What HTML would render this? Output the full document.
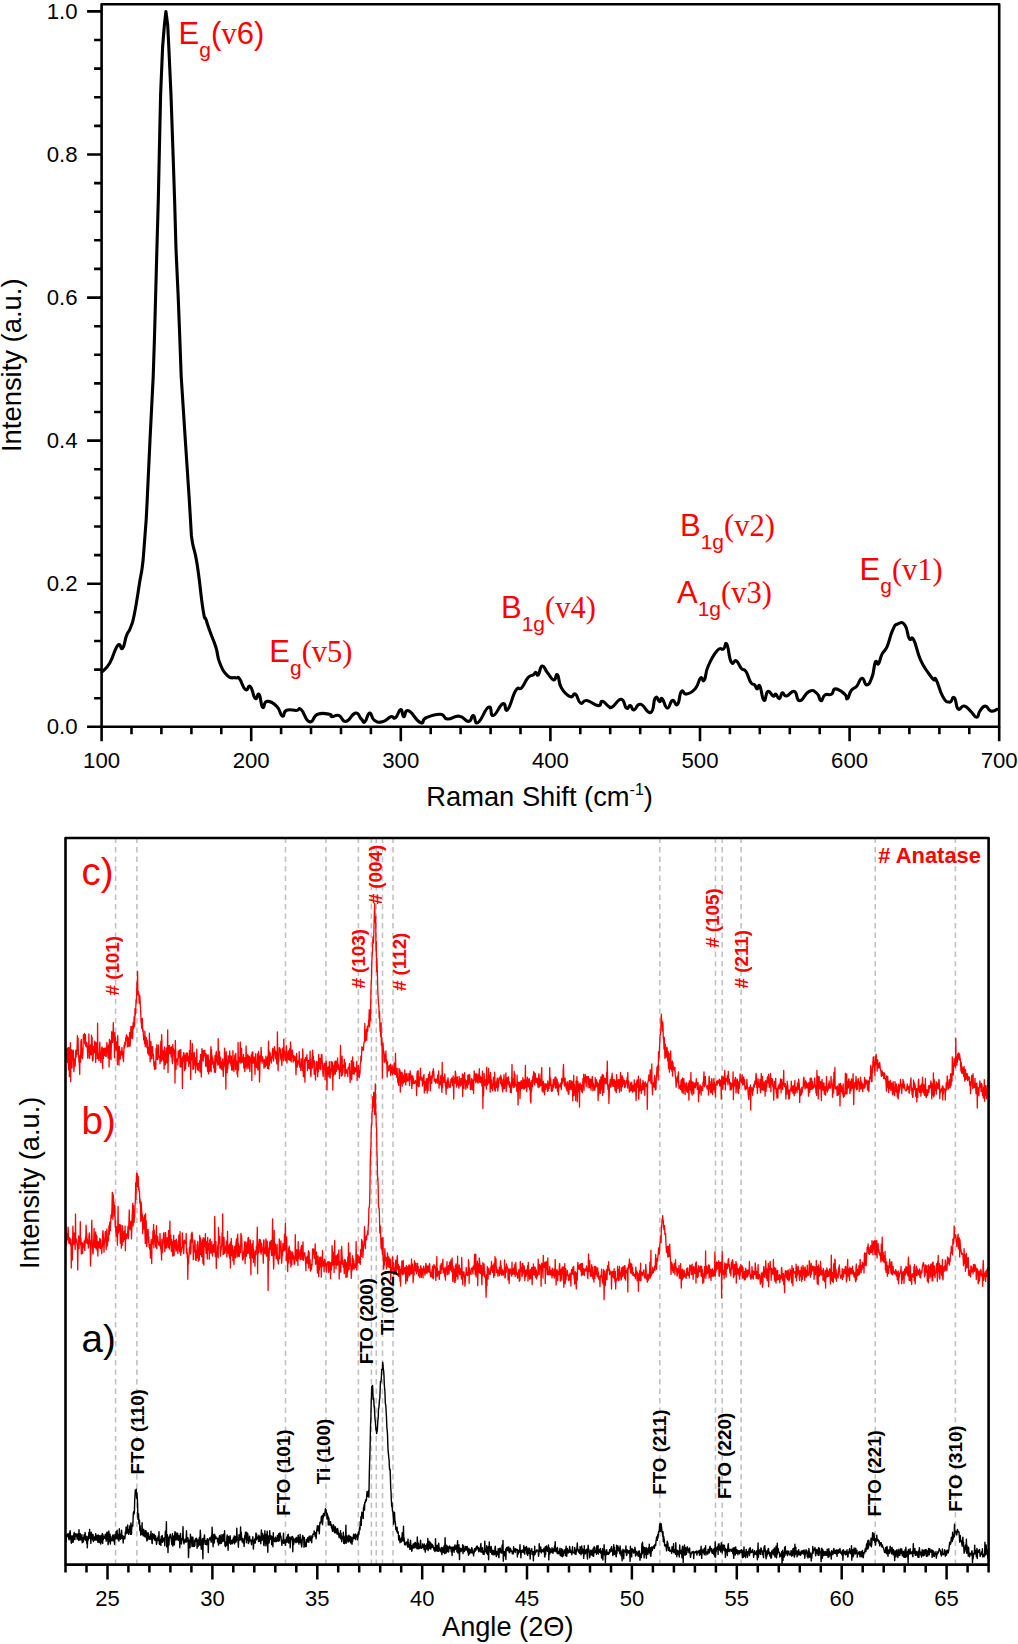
<!DOCTYPE html><html><head><meta charset="utf-8"><style>html,body{margin:0;padding:0;background:#fff;}svg{display:block;}</style></head><body>
<svg width="1018" height="1644" viewBox="0 0 1018 1644">
<rect width="1018" height="1644" fill="#fff"/>
<path d="M87.1 726.8H101.6M94.1 698.2H101.6M94.1 669.6H101.6M94.1 641.0H101.6M94.1 612.3H101.6M87.1 583.7H101.6M94.1 555.1H101.6M94.1 526.5H101.6M94.1 497.9H101.6M94.1 469.3H101.6M87.1 440.6H101.6M94.1 412.0H101.6M94.1 383.4H101.6M94.1 354.8H101.6M94.1 326.2H101.6M87.1 297.6H101.6M94.1 268.9H101.6M94.1 240.3H101.6M94.1 211.7H101.6M94.1 183.1H101.6M87.1 154.5H101.6M94.1 125.9H101.6M94.1 97.2H101.6M94.1 68.6H101.6M94.1 40.0H101.6M87.1 11.4H101.6M101.6 726.8V741.3M131.5 726.8V734.3M161.4 726.8V734.3M191.4 726.8V734.3M221.3 726.8V734.3M251.2 726.8V741.3M281.1 726.8V734.3M311.0 726.8V734.3M341.0 726.8V734.3M370.9 726.8V734.3M400.8 726.8V741.3M430.7 726.8V734.3M460.6 726.8V734.3M490.6 726.8V734.3M520.5 726.8V734.3M550.4 726.8V741.3M580.3 726.8V734.3M610.2 726.8V734.3M640.2 726.8V734.3M670.1 726.8V734.3M700.0 726.8V741.3M729.9 726.8V734.3M759.8 726.8V734.3M789.8 726.8V734.3M819.7 726.8V734.3M849.6 726.8V741.3M879.5 726.8V734.3M909.4 726.8V734.3M939.4 726.8V734.3M969.3 726.8V734.3M999.2 726.8V741.3" stroke="#000" stroke-width="2.6" fill="none"/>
<path d="M101.6 726.8V4.3H999.2V726.8Z" stroke="#000" stroke-width="2.6" fill="none" stroke-linejoin="round"/>
<path d="M102.0 671.9C104.1 669.5 105.6 670.1 109.8 663.0C114.0 655.9 114.3 649.3 117.7 645.4C121.1 641.5 120.3 650.9 122.6 648.3C124.9 645.7 124.4 641.1 126.5 635.6C128.6 630.1 128.4 633.5 130.5 627.7C132.6 621.9 132.1 625.5 134.4 614.0C136.7 602.5 137.0 599.2 139.3 584.5C141.6 569.8 141.4 576.3 143.2 559.0L146.2 519.6L147.2 500.0L150.0 440.0L153.2 376.5L154.4 340.0L155.6 297.0L156.9 249.0L158.3 200.0L159.2 158.0L160.6 95.0L162.6 47.0L164.4 25.0L165.9 11.5L167.7 25.0L168.8 47.0L171.0 95.0L173.2 158.0L174.6 200.0L176.0 249.0L178.2 297.0L179.5 330.0L181.2 376.5L185.3 440.0L189.3 500.0L191.4 535.4C193.5 552.7 194.1 544.9 197.2 564.8C200.3 584.7 200.7 595.3 203.1 610.0C205.5 624.7 204.3 614.0 206.1 619.8C207.9 625.6 207.4 624.3 210.0 631.6C212.6 638.9 213.3 638.9 215.9 647.3C218.5 655.7 216.7 655.4 219.8 663.0C222.9 670.6 223.5 671.9 227.7 675.8C231.9 679.7 232.5 677.0 235.6 677.8C238.7 678.6 236.9 675.7 239.5 678.8C242.1 681.9 242.5 687.5 245.4 689.6C248.3 691.7 247.7 684.3 250.3 686.6C252.9 688.9 252.9 696.3 255.2 698.4C257.5 700.5 257.1 692.1 259.1 694.5C261.1 696.9 260.6 705.5 262.7 707.3C264.8 709.1 263.2 701.7 267.0 701.4C270.8 701.1 272.7 702.4 276.8 706.3C280.9 710.2 279.7 715.0 282.3 716.0C284.9 717.0 282.8 711.7 286.6 710.2C290.4 708.7 292.6 710.7 296.5 710.5C300.4 710.3 297.7 706.6 301.2 709.6C304.7 712.6 305.1 720.5 309.5 721.8C313.9 723.1 312.4 716.3 317.7 714.3C323.0 712.3 325.7 713.7 329.5 714.3C333.3 714.9 329.4 716.4 331.9 716.7C334.4 717.0 335.1 714.2 338.9 715.5C342.7 716.8 341.6 722.0 346.0 721.4C350.4 720.8 351.3 713.7 355.4 713.1C359.5 712.5 358.8 716.7 361.3 719.0C363.8 721.3 362.7 723.4 364.9 721.8C367.1 720.2 367.1 713.5 369.6 713.1C372.1 712.7 370.9 717.9 374.3 720.2C377.7 722.5 378.1 722.7 382.5 721.8C386.9 720.9 387.3 717.8 390.8 716.7C394.3 715.6 392.9 719.7 395.5 717.8C398.1 715.9 398.5 709.9 400.7 709.6C402.9 709.3 401.7 716.4 403.8 716.7C405.9 717.0 404.1 709.3 408.5 710.8C412.9 712.3 415.6 720.6 420.3 722.5C425.0 724.4 420.9 720.0 426.2 717.8C431.5 715.6 434.6 714.0 440.3 714.3C446.0 714.6 442.4 718.5 447.4 719.0C452.4 719.5 453.5 715.6 459.2 716.2C464.9 716.8 464.8 721.6 468.6 721.4C472.4 721.2 470.8 715.2 473.3 715.5C475.8 715.8 473.9 724.7 478.0 722.5C482.1 720.3 484.5 709.1 488.6 707.2C492.7 705.3 489.5 716.4 493.3 715.5C497.1 714.6 499.0 705.2 502.8 703.7C506.6 702.2 504.2 713.2 507.6 709.7C511.0 706.2 511.9 696.6 515.7 690.7C519.5 684.8 518.4 691.2 521.7 687.7C525.0 684.2 525.0 680.9 528.1 677.5C531.2 674.1 531.1 676.3 533.2 674.9C535.3 673.5 534.4 672.4 535.8 672.4C537.2 672.4 536.6 676.6 538.3 674.9C540.0 673.2 539.7 666.7 542.1 666.0C544.5 665.3 544.2 668.7 547.3 672.4C550.4 676.1 550.9 679.3 553.6 680.0C556.3 680.7 555.4 672.8 557.5 674.9C559.6 677.0 557.9 681.9 561.3 687.7C564.7 693.5 566.4 694.9 570.2 696.6C574.0 698.3 572.7 692.4 575.4 694.1C578.1 695.8 577.5 701.3 580.5 703.0C583.5 704.7 582.1 699.8 586.8 700.5C591.5 701.2 594.2 705.4 598.3 705.6C602.4 705.8 599.5 701.0 602.2 701.2C604.9 701.4 605.9 704.8 608.6 706.3C611.3 707.8 609.0 708.7 612.4 706.8C615.8 704.9 617.6 698.9 621.3 699.2C625.0 699.5 624.0 706.4 626.4 708.1C628.8 709.8 628.2 705.1 630.3 705.6C632.4 706.1 631.4 710.2 634.1 709.9C636.8 709.6 636.1 703.6 640.5 704.3C644.9 705.0 646.8 714.2 650.7 712.5C654.6 710.8 652.9 700.8 655.3 697.9C657.7 695.0 657.8 701.5 659.6 701.7C661.4 701.9 660.1 697.0 662.2 698.7C664.3 700.4 664.6 707.6 667.3 708.1C670.0 708.6 669.7 701.5 672.4 700.5C675.1 699.5 675.1 706.7 677.5 704.3C679.9 701.9 679.0 694.2 681.4 691.5C683.8 688.8 682.8 694.9 686.5 694.1C690.2 693.3 691.7 692.7 695.4 688.5C699.1 684.3 698.1 680.5 700.5 678.2C702.9 675.9 702.2 683.3 704.3 680.0C706.4 676.7 704.8 673.8 708.2 666.0C711.6 658.2 713.0 655.3 717.1 650.7C721.2 646.1 720.9 650.6 723.5 648.9C726.1 647.2 724.7 640.8 726.8 644.3C728.9 647.8 728.7 657.7 731.2 662.1C733.7 666.5 733.6 659.2 736.3 660.9C739.0 662.6 738.8 665.7 741.4 668.5C744.0 671.3 743.5 667.8 746.0 671.5C748.5 675.2 748.3 678.6 750.6 682.2C752.9 685.8 752.8 683.1 754.6 684.9C756.4 686.7 755.8 688.6 757.2 688.9C758.6 689.2 758.1 683.2 759.9 686.2C761.7 689.2 761.8 698.9 763.9 700.3C766.0 701.7 765.4 692.6 767.9 691.5C770.4 690.4 771.1 695.3 773.2 696.0C775.3 696.7 774.2 693.5 775.8 694.2C777.4 694.9 777.5 699.1 779.3 698.7C781.1 698.3 780.5 693.5 782.4 692.8C784.3 692.1 783.2 696.3 786.4 696.0C789.6 695.7 790.9 690.2 794.4 691.5C797.9 692.8 795.8 700.8 799.7 700.8C803.6 700.8 804.4 693.5 809.0 691.5C813.6 689.5 813.7 690.9 816.9 693.4C820.1 695.9 818.8 700.4 820.9 700.8C823.0 701.2 822.1 696.8 824.9 695.0C827.7 693.2 828.7 695.8 831.5 694.2C834.3 692.6 832.0 688.9 835.5 688.9C839.0 688.9 841.6 691.6 844.8 694.2C848.0 696.8 845.6 699.8 847.4 698.7C849.2 697.6 848.9 693.5 851.4 690.2C853.9 686.9 853.9 689.4 856.7 686.2C859.5 683.0 859.3 678.5 862.0 678.2C864.7 677.9 864.1 685.2 866.8 684.9C869.5 684.6 869.8 682.9 872.1 676.9C874.4 670.9 873.6 665.8 875.3 662.3C877.0 658.8 876.7 665.8 878.5 663.7C880.3 661.6 879.6 659.0 881.9 654.4C884.2 649.8 884.4 652.8 887.2 646.4C890.0 640.0 889.7 636.5 892.5 630.5C895.3 624.5 894.5 625.3 897.8 623.9C901.1 622.5 902.0 621.3 905.0 625.2C908.0 629.1 906.9 634.6 909.2 638.5C911.5 642.4 910.7 634.1 913.7 639.8C916.7 645.5 916.5 650.9 920.4 659.7C924.3 668.5 924.8 667.6 928.3 672.9C931.8 678.2 931.5 677.7 933.6 679.6C935.7 681.5 933.8 675.5 936.3 680.1C938.8 684.7 939.4 690.9 942.9 696.8C946.4 702.7 946.5 701.9 949.5 702.1C952.5 702.3 952.0 695.8 954.3 697.6C956.6 699.4 955.4 706.5 958.0 708.8C960.6 711.1 960.7 705.4 964.1 706.1C967.5 706.8 967.5 708.4 970.8 711.4C974.1 714.4 974.1 717.3 976.6 717.2C979.1 717.1 977.7 713.9 980.0 710.9C982.3 707.9 982.5 706.1 985.4 706.1C988.3 706.1 987.5 710.0 990.7 710.9C993.9 711.8 995.5 709.7 997.3 709.3" stroke="#000" stroke-width="3.1" fill="none" stroke-linejoin="round" stroke-linecap="round"/>
<g font-family="'Liberation Sans', sans-serif" font-size="22.2" fill="#000">
<text x="77.5" y="734.0" text-anchor="end">0.0</text>
<text x="77.5" y="590.9" text-anchor="end">0.2</text>
<text x="77.5" y="447.8" text-anchor="end">0.4</text>
<text x="77.5" y="304.8" text-anchor="end">0.6</text>
<text x="77.5" y="161.7" text-anchor="end">0.8</text>
<text x="77.5" y="18.6" text-anchor="end">1.0</text>
<text x="101.6" y="768" text-anchor="middle">100</text>
<text x="251.2" y="768" text-anchor="middle">200</text>
<text x="400.8" y="768" text-anchor="middle">300</text>
<text x="550.4" y="768" text-anchor="middle">400</text>
<text x="700.0" y="768" text-anchor="middle">500</text>
<text x="849.6" y="768" text-anchor="middle">600</text>
<text x="999.2" y="768" text-anchor="middle">700</text>
</g>
<text x="426.3" y="806.3" font-family="'Liberation Sans', sans-serif" font-size="27.3" fill="#000">Raman Shift (cm<tspan font-size="16" dy="-11">-1</tspan><tspan dy="11">)</tspan></text>
<text transform="translate(21.3,452) rotate(-90)" font-family="'Liberation Sans', sans-serif" font-size="27.4" fill="#000">Intensity (a.u.)</text>
<text x="178.5" y="44.0" font-family="'Liberation Sans', sans-serif" font-size="31" fill="#f00">E<tspan font-size="21" dy="12.8">g</tspan><tspan dy="-12.8">(</tspan><tspan font-family="'Liberation Serif', serif" font-size="31">v</tspan>6)</text>
<text x="269.3" y="662.4" font-family="'Liberation Sans', sans-serif" font-size="31" fill="#f00">E<tspan font-size="21" dy="12.8">g</tspan><tspan dy="-12.8" font-family="'Liberation Serif', serif" font-size="30.5">(v5)</tspan></text>
<text x="501.0" y="618.0" font-family="'Liberation Sans', sans-serif" font-size="31" fill="#f00">B<tspan font-size="21" dy="12.8">1g</tspan><tspan dy="-12.8" font-family="'Liberation Serif', serif" font-size="30.5">(v4)</tspan></text>
<text x="680.0" y="536.2" font-family="'Liberation Sans', sans-serif" font-size="31" fill="#f00">B<tspan font-size="21" dy="12.8">1g</tspan><tspan dy="-12.8" font-family="'Liberation Serif', serif" font-size="30.5">(v2)</tspan></text>
<text x="677.0" y="602.8" font-family="'Liberation Sans', sans-serif" font-size="31" fill="#f00">A<tspan font-size="21" dy="12.8">1g</tspan><tspan dy="-12.8" font-family="'Liberation Serif', serif" font-size="30.5">(v3)</tspan></text>
<text x="859.5" y="580.2" font-family="'Liberation Sans', sans-serif" font-size="31" fill="#f00">E<tspan font-size="21" dy="12.8">g</tspan><tspan dy="-12.8" font-family="'Liberation Serif', serif" font-size="30.5">(v1)</tspan></text>
<path d="M115.6 837.6V1563.6M136.9 837.6V1563.6M285.5 837.6V1563.6M325.9 837.6V1563.6M358.4 837.6V1563.6M371.4 837.6V1563.6M376.3 837.6V1563.6M382.5 837.6V1563.6M393.0 837.6V1563.6M659.8 837.6V1563.6M715.5 837.6V1563.6M722.2 837.6V1563.6M741.1 837.6V1563.6M875.2 837.6V1563.6M955.4 837.6V1563.6" stroke="#c2c2c2" stroke-width="1.6" stroke-dasharray="5.5 4" fill="none"/>
<polyline points="65.9,1053.8 66.2,1051.7 66.5,1058.5 66.9,1048.6 67.2,1060.4 67.5,1062.3 67.8,1047.9 68.1,1057.7 68.5,1069.8 68.8,1047.5 69.1,1052.3 69.4,1076.7 69.7,1052.6 70.1,1052.2 70.4,1042.7 70.7,1081.7 71.0,1051.7 71.3,1056.5 71.7,1049.6 72.0,1067.9 72.3,1057.0 72.6,1060.2 72.9,1051.3 73.3,1050.1 73.6,1059.3 73.9,1071.7 74.2,1066.1 74.5,1058.9 74.9,1066.4 75.2,1065.6 75.5,1056.2 75.8,1050.2 76.1,1057.1 76.5,1051.0 76.8,1054.4 77.1,1046.9 77.4,1035.6 77.7,1050.1 78.1,1038.1 78.4,1055.1 78.7,1056.6 79.0,1062.2 79.3,1063.1 79.7,1074.3 80.0,1055.3 80.3,1059.5 80.6,1062.0 80.9,1041.7 81.3,1039.3 81.6,1057.4 81.9,1048.2 82.2,1055.9 82.5,1058.7 82.9,1053.0 83.2,1040.9 83.5,1034.6 83.8,1038.8 84.1,1039.3 84.5,1033.5 84.8,1043.9 85.1,1038.3 85.4,1034.6 85.7,1046.0 86.1,1044.8 86.4,1046.9 86.7,1042.4 87.0,1043.6 87.3,1046.8 87.7,1058.2 88.0,1046.9 88.3,1049.9 88.6,1050.5 88.9,1033.8 89.3,1057.4 89.6,1058.4 89.9,1050.8 90.2,1051.6 90.5,1044.8 90.9,1054.6 91.2,1052.4 91.5,1035.1 91.8,1054.9 92.1,1037.2 92.5,1060.9 92.8,1055.5 93.1,1060.0 93.4,1046.5 93.7,1047.3 94.1,1052.7 94.4,1050.5 94.7,1041.2 95.0,1043.5 95.3,1048.7 95.7,1062.5 96.0,1042.5 96.3,1043.0 96.6,1048.9 96.9,1046.9 97.3,1058.7 97.6,1023.2 97.9,1058.4 98.2,1058.6 98.5,1054.1 98.9,1060.6 99.2,1056.6 99.5,1050.3 99.8,1042.2 100.1,1051.8 100.5,1059.0 100.8,1062.4 101.1,1056.3 101.4,1053.9 101.7,1047.8 102.1,1046.9 102.4,1060.9 102.7,1068.5 103.0,1049.3 103.3,1058.6 103.7,1048.3 104.0,1054.4 104.3,1055.4 104.6,1049.1 104.9,1048.0 105.3,1056.0 105.6,1054.3 105.9,1048.2 106.2,1056.4 106.5,1049.0 106.9,1042.5 107.2,1050.1 107.5,1046.0 107.8,1054.7 108.1,1058.1 108.5,1054.6 108.8,1044.2 109.1,1067.1 109.4,1039.4 109.7,1058.7 110.1,1050.2 110.4,1040.9 110.7,1051.7 111.0,1059.7 111.3,1045.7 111.7,1031.7 112.0,1034.0 112.3,1040.1 112.6,1042.5 112.9,1039.3 113.3,1022.7 113.6,1032.3 113.9,1038.2 114.2,1040.5 114.5,1057.7 114.9,1032.7 115.2,1039.9 115.5,1037.8 115.8,1047.1 116.1,1050.0 116.5,1041.8 116.8,1047.9 117.1,1043.1 117.4,1064.7 117.7,1035.6 118.1,1050.5 118.4,1056.3 118.7,1056.4 119.0,1065.2 119.3,1046.3 119.7,1049.5 120.0,1055.9 120.3,1059.0 120.6,1054.1 120.9,1051.3 121.3,1055.1 121.6,1054.6 121.9,1047.5 122.2,1050.8 122.5,1051.8 122.9,1057.7 123.2,1059.0 123.5,1061.6 123.8,1053.3 124.1,1045.2 124.5,1047.9 124.8,1042.5 125.1,1045.6 125.4,1043.7 125.7,1037.7 126.1,1040.0 126.4,1034.9 126.7,1035.5 127.0,1035.7 127.3,1046.9 127.7,1037.8 128.0,1037.3 128.3,1042.9 128.6,1045.3 128.9,1046.7 129.3,1040.7 129.6,1032.5 129.9,1044.0 130.2,1046.0 130.5,1038.3 130.9,1026.3 131.2,1035.1 131.5,1037.9 131.8,1036.8 132.1,1026.3 132.5,1038.6 132.8,1034.8 133.1,1022.7 133.4,1028.8 133.7,1028.1 134.1,1017.0 134.4,1026.5 134.7,1024.0 135.0,1008.6 135.3,1014.9 135.7,1012.1 136.0,999.7 136.3,1002.7 136.6,996.2 136.9,982.3 137.3,985.2 137.6,971.4 137.9,994.9 138.2,993.9 138.5,991.7 138.9,995.2 139.2,1003.2 139.5,1002.2 139.8,995.3 140.1,1000.4 140.5,1007.5 140.8,1014.5 141.1,1022.5 141.4,1023.1 141.7,1028.3 142.1,1018.3 142.4,1018.3 142.7,1031.3 143.0,1029.2 143.3,1033.1 143.7,1040.0 144.0,1036.7 144.3,1036.4 144.6,1043.6 144.9,1031.2 145.3,1046.7 145.6,1036.9 145.9,1037.3 146.2,1037.7 146.5,1039.6 146.9,1047.7 147.2,1040.5 147.5,1045.8 147.8,1053.4 148.1,1047.0 148.5,1051.0 148.8,1055.0 149.1,1054.0 149.4,1033.2 149.7,1040.8 150.1,1061.8 150.4,1050.9 150.7,1041.3 151.0,1042.5 151.3,1058.9 151.7,1048.5 152.0,1046.6 152.3,1055.7 152.6,1046.6 152.9,1058.3 153.3,1053.9 153.6,1058.0 153.9,1065.8 154.2,1062.2 154.5,1069.3 154.9,1064.2 155.2,1062.7 155.5,1061.1 155.8,1069.0 156.1,1048.5 156.5,1057.1 156.8,1044.6 157.1,1059.5 157.4,1055.9 157.7,1059.4 158.1,1052.4 158.4,1045.1 158.7,1057.5 159.0,1055.8 159.3,1056.2 159.7,1056.1 160.0,1063.8 160.3,1060.0 160.6,1047.2 160.9,1041.2 161.3,1061.1 161.6,1034.6 161.9,1041.1 162.2,1052.5 162.5,1059.1 162.9,1050.4 163.2,1060.9 163.5,1055.3 163.8,1051.9 164.1,1069.0 164.5,1046.9 164.8,1051.0 165.1,1064.9 165.4,1064.6 165.7,1058.4 166.1,1055.5 166.4,1048.0 166.7,1062.9 167.0,1049.2 167.3,1051.8 167.7,1030.0 168.0,1072.4 168.3,1058.5 168.6,1045.7 168.9,1054.0 169.3,1048.1 169.6,1045.5 169.9,1049.7 170.2,1053.6 170.5,1047.7 170.9,1048.9 171.2,1057.1 171.5,1054.4 171.8,1046.6 172.1,1060.7 172.5,1063.7 172.8,1044.4 173.1,1052.1 173.4,1048.2 173.7,1051.5 174.1,1055.2 174.4,1061.0 174.7,1050.0 175.0,1083.1 175.3,1040.3 175.7,1051.8 176.0,1069.4 176.3,1058.9 176.6,1061.4 176.9,1060.6 177.3,1061.2 177.6,1058.3 177.9,1065.1 178.2,1051.1 178.5,1057.9 178.9,1053.7 179.2,1055.4 179.5,1050.1 179.8,1054.6 180.1,1067.1 180.5,1055.5 180.8,1049.4 181.1,1066.7 181.4,1058.5 181.7,1058.6 182.1,1061.4 182.4,1088.4 182.7,1056.6 183.0,1061.8 183.3,1055.5 183.7,1052.7 184.0,1053.1 184.3,1060.8 184.6,1070.5 184.9,1064.1 185.3,1055.2 185.6,1068.9 185.9,1063.8 186.2,1052.8 186.5,1060.1 186.9,1060.7 187.2,1055.6 187.5,1053.2 187.8,1060.9 188.1,1060.1 188.5,1056.8 188.8,1066.6 189.1,1063.8 189.4,1050.6 189.7,1063.0 190.1,1059.6 190.4,1040.4 190.7,1079.4 191.0,1053.2 191.3,1060.2 191.7,1059.8 192.0,1056.6 192.3,1043.6 192.6,1049.8 192.9,1069.6 193.3,1068.5 193.6,1068.6 193.9,1054.3 194.2,1052.3 194.5,1059.9 194.9,1065.0 195.2,1057.3 195.5,1072.8 195.8,1064.0 196.1,1060.7 196.5,1065.6 196.8,1049.2 197.1,1062.1 197.4,1069.5 197.7,1066.9 198.1,1063.6 198.4,1070.7 198.7,1063.8 199.0,1063.0 199.3,1064.0 199.7,1060.7 200.0,1072.1 200.3,1065.2 200.6,1054.3 200.9,1057.9 201.3,1077.1 201.6,1065.9 201.9,1048.7 202.2,1050.2 202.5,1056.3 202.9,1059.3 203.2,1061.2 203.5,1050.8 203.8,1050.6 204.1,1055.7 204.5,1053.8 204.8,1050.1 205.1,1057.8 205.4,1056.7 205.7,1066.3 206.1,1053.7 206.4,1066.1 206.7,1055.3 207.0,1062.7 207.3,1067.3 207.7,1071.5 208.0,1054.7 208.3,1056.8 208.6,1073.9 208.9,1060.0 209.3,1060.4 209.6,1071.3 209.9,1062.8 210.2,1070.3 210.5,1057.5 210.9,1046.6 211.2,1071.8 211.5,1049.6 211.8,1059.5 212.1,1055.5 212.5,1064.1 212.8,1058.1 213.1,1062.7 213.4,1061.3 213.7,1067.7 214.1,1062.5 214.4,1072.2 214.7,1063.3 215.0,1055.4 215.3,1072.3 215.7,1070.2 216.0,1053.5 216.3,1051.5 216.6,1057.5 216.9,1056.1 217.3,1062.9 217.6,1062.0 217.9,1065.3 218.2,1038.7 218.5,1061.7 218.9,1050.9 219.2,1064.4 219.5,1051.8 219.8,1068.0 220.1,1062.5 220.5,1057.1 220.8,1063.8 221.1,1068.7 221.4,1062.0 221.7,1069.4 222.1,1069.7 222.4,1064.0 222.7,1059.0 223.0,1070.1 223.3,1076.4 223.7,1067.3 224.0,1065.6 224.3,1057.8 224.6,1048.1 224.9,1055.6 225.3,1065.9 225.6,1068.5 225.9,1089.0 226.2,1051.7 226.5,1062.3 226.9,1066.7 227.2,1072.5 227.5,1060.0 227.8,1069.1 228.1,1055.7 228.5,1063.9 228.8,1056.9 229.1,1059.9 229.4,1061.5 229.7,1050.9 230.1,1063.0 230.4,1059.8 230.7,1055.9 231.0,1065.8 231.3,1056.2 231.7,1070.2 232.0,1063.9 232.3,1066.1 232.6,1069.9 232.9,1050.7 233.3,1061.8 233.6,1066.5 233.9,1071.5 234.2,1060.4 234.5,1060.0 234.9,1055.3 235.2,1054.6 235.5,1069.7 235.8,1053.4 236.1,1064.3 236.5,1060.8 236.8,1066.8 237.1,1074.2 237.4,1064.3 237.7,1076.8 238.1,1042.5 238.4,1070.1 238.7,1063.6 239.0,1062.5 239.3,1057.5 239.7,1060.7 240.0,1061.7 240.3,1041.9 240.6,1059.2 240.9,1063.3 241.3,1059.8 241.6,1048.1 241.9,1062.1 242.2,1062.3 242.5,1061.1 242.9,1059.6 243.2,1057.1 243.5,1054.4 243.8,1068.0 244.1,1064.6 244.5,1057.8 244.8,1071.6 245.1,1057.7 245.4,1067.7 245.7,1066.2 246.1,1046.0 246.4,1060.0 246.7,1057.5 247.0,1069.0 247.3,1067.0 247.7,1054.7 248.0,1055.0 248.3,1065.5 248.6,1057.7 248.9,1068.6 249.3,1056.2 249.6,1067.1 249.9,1071.6 250.2,1057.8 250.5,1059.8 250.9,1062.7 251.2,1055.0 251.5,1057.3 251.8,1080.4 252.1,1052.2 252.5,1056.3 252.8,1052.0 253.1,1063.0 253.4,1060.6 253.7,1063.1 254.1,1056.9 254.4,1060.3 254.7,1063.4 255.0,1074.6 255.3,1063.0 255.7,1053.7 256.0,1062.2 256.3,1065.7 256.6,1067.6 256.9,1062.5 257.3,1064.7 257.6,1054.0 257.9,1070.0 258.2,1069.3 258.5,1051.3 258.9,1058.4 259.2,1063.8 259.5,1082.1 259.8,1072.7 260.1,1055.9 260.5,1061.1 260.8,1057.0 261.1,1047.3 261.4,1054.0 261.7,1059.9 262.1,1063.1 262.4,1057.0 262.7,1056.9 263.0,1061.1 263.3,1060.2 263.7,1061.0 264.0,1068.2 264.3,1059.5 264.6,1061.2 264.9,1065.8 265.3,1067.0 265.6,1065.0 265.9,1056.2 266.2,1063.3 266.5,1061.8 266.9,1065.4 267.2,1057.6 267.5,1068.4 267.8,1055.9 268.1,1062.0 268.5,1041.2 268.8,1069.0 269.1,1050.9 269.4,1065.1 269.7,1056.7 270.1,1052.6 270.4,1055.8 270.7,1060.5 271.0,1056.8 271.3,1063.0 271.7,1056.6 272.0,1058.3 272.3,1054.6 272.6,1049.5 272.9,1048.1 273.3,1058.1 273.6,1061.0 273.9,1056.1 274.2,1052.2 274.5,1046.6 274.9,1049.9 275.2,1050.8 275.5,1056.4 275.8,1058.9 276.1,1051.8 276.5,1053.9 276.8,1063.9 277.1,1058.2 277.4,1031.8 277.7,1053.5 278.1,1070.8 278.4,1055.4 278.7,1061.8 279.0,1054.8 279.3,1047.6 279.7,1048.4 280.0,1048.7 280.3,1049.0 280.6,1056.4 280.9,1059.6 281.3,1054.4 281.6,1061.1 281.9,1065.6 282.2,1049.0 282.5,1050.2 282.9,1047.9 283.2,1051.7 283.5,1060.9 283.8,1039.1 284.1,1050.5 284.5,1052.7 284.8,1051.4 285.1,1059.6 285.4,1055.4 285.7,1060.7 286.1,1059.8 286.4,1045.7 286.7,1055.6 287.0,1063.1 287.3,1055.2 287.7,1057.3 288.0,1053.0 288.3,1050.8 288.6,1059.6 288.9,1052.6 289.3,1055.2 289.6,1048.9 289.9,1060.4 290.2,1057.9 290.5,1041.9 290.9,1048.0 291.2,1061.9 291.5,1055.2 291.8,1051.0 292.1,1051.9 292.5,1050.1 292.8,1057.9 293.1,1062.0 293.4,1060.9 293.7,1055.7 294.1,1057.1 294.4,1060.6 294.7,1059.4 295.0,1056.2 295.3,1058.6 295.7,1065.1 296.0,1074.8 296.3,1064.2 296.6,1053.5 296.9,1059.1 297.3,1067.2 297.6,1063.1 297.9,1065.1 298.2,1060.9 298.5,1062.9 298.9,1063.1 299.2,1051.6 299.5,1061.7 299.8,1067.3 300.1,1065.9 300.5,1066.3 300.8,1070.4 301.1,1058.7 301.4,1062.4 301.7,1066.3 302.1,1061.6 302.4,1070.5 302.7,1048.9 303.0,1055.2 303.3,1076.6 303.7,1066.7 304.0,1066.7 304.3,1076.9 304.6,1059.6 304.9,1082.2 305.3,1057.8 305.6,1057.6 305.9,1057.5 306.2,1060.0 306.5,1060.5 306.9,1054.7 307.2,1060.0 307.5,1070.7 307.8,1060.4 308.1,1065.0 308.5,1068.1 308.8,1060.3 309.1,1065.3 309.4,1060.0 309.7,1068.8 310.1,1051.1 310.4,1064.0 310.7,1074.7 311.0,1076.6 311.3,1066.3 311.7,1062.5 312.0,1057.6 312.3,1068.0 312.6,1050.2 312.9,1055.3 313.3,1056.2 313.6,1061.9 313.9,1066.2 314.2,1074.3 314.5,1061.0 314.9,1073.1 315.2,1070.4 315.5,1080.0 315.8,1072.0 316.1,1070.0 316.5,1061.5 316.8,1062.7 317.1,1067.7 317.4,1068.7 317.7,1076.8 318.1,1061.4 318.4,1071.7 318.7,1054.3 319.0,1064.0 319.3,1068.7 319.7,1065.8 320.0,1058.5 320.3,1068.9 320.6,1064.5 320.9,1069.8 321.3,1054.6 321.6,1063.2 321.9,1054.7 322.2,1061.7 322.5,1062.8 322.9,1073.5 323.2,1076.5 323.5,1069.9 323.8,1065.1 324.1,1068.6 324.5,1063.2 324.8,1065.1 325.1,1079.8 325.4,1072.1 325.7,1066.0 326.1,1060.9 326.4,1063.6 326.7,1076.2 327.0,1090.1 327.3,1072.0 327.7,1067.4 328.0,1067.2 328.3,1074.0 328.6,1066.6 328.9,1076.7 329.3,1061.7 329.6,1074.2 329.9,1076.5 330.2,1078.1 330.5,1068.9 330.9,1074.4 331.2,1061.3 331.5,1062.8 331.8,1067.1 332.1,1071.7 332.5,1062.1 332.8,1090.0 333.1,1065.0 333.4,1071.8 333.7,1075.5 334.1,1072.5 334.4,1066.6 334.7,1063.7 335.0,1061.2 335.3,1074.2 335.7,1067.8 336.0,1061.1 336.3,1071.4 336.6,1067.1 336.9,1066.3 337.3,1063.1 337.6,1057.9 337.9,1069.6 338.2,1066.4 338.5,1065.0 338.9,1068.2 339.2,1068.0 339.5,1078.6 339.8,1069.3 340.1,1071.7 340.5,1045.4 340.8,1066.1 341.1,1064.4 341.4,1076.1 341.7,1072.0 342.1,1056.1 342.4,1075.2 342.7,1068.2 343.0,1072.3 343.3,1065.3 343.7,1065.0 344.0,1067.0 344.3,1059.2 344.6,1064.6 344.9,1076.3 345.3,1063.0 345.6,1071.6 345.9,1073.1 346.2,1070.6 346.5,1069.7 346.9,1070.3 347.2,1073.5 347.5,1070.1 347.8,1076.6 348.1,1067.7 348.5,1068.6 348.8,1067.4 349.1,1066.9 349.4,1063.6 349.7,1072.8 350.1,1082.5 350.4,1072.5 350.7,1078.2 351.0,1072.2 351.3,1060.7 351.7,1079.8 352.0,1070.4 352.3,1068.8 352.6,1056.8 352.9,1073.8 353.3,1067.0 353.6,1062.1 353.9,1073.4 354.2,1074.2 354.5,1071.0 354.9,1067.4 355.2,1071.2 355.5,1069.9 355.8,1071.8 356.1,1068.4 356.5,1070.1 356.8,1061.4 357.1,1080.5 357.4,1071.4 357.7,1076.4 358.1,1075.4 358.4,1065.4 358.7,1072.5 359.0,1075.5 359.3,1077.5 359.7,1070.5 360.0,1073.7 360.3,1063.4 360.6,1063.3 360.9,1056.2 361.3,1060.9 361.6,1054.6 361.9,1046.8 362.2,1047.1 362.5,1047.9 362.9,1049.0 363.2,1050.4 363.5,1049.9 363.8,1044.1 364.1,1042.3 364.5,1040.9 364.8,1023.4 365.1,1041.7 365.4,1039.1 365.7,1037.7 366.1,1033.5 366.4,1029.5 366.7,1040.4 367.0,1031.9 367.3,1026.4 367.7,1031.4 368.0,1025.9 368.3,1026.1 368.6,1021.0 368.9,1019.8 369.3,1009.6 369.6,1026.9 369.9,1017.6 370.2,1020.6 370.5,1020.6 370.9,992.3 371.2,983.6 371.5,978.2 371.8,964.3 372.1,955.7 372.5,951.6 372.8,940.3 373.1,936.8 373.4,942.9 373.7,939.1 374.1,922.0 374.4,911.7 374.7,903.5 375.0,916.1 375.3,922.3 375.7,916.6 376.0,950.9 376.3,941.3 376.6,971.5 376.9,958.4 377.3,970.6 377.6,981.8 377.9,992.4 378.2,999.1 378.5,1003.5 378.9,1006.8 379.2,1018.0 379.5,1011.1 379.8,1019.6 380.1,1031.2 380.5,1028.9 380.8,1036.8 381.1,1023.0 381.4,1045.3 381.7,1038.2 382.1,1045.3 382.4,1078.0 382.7,1049.5 383.0,1043.0 383.3,1049.0 383.7,1053.1 384.0,1051.7 384.3,1062.3 384.6,1054.4 384.9,1055.6 385.3,1056.7 385.6,1061.2 385.9,1051.0 386.2,1063.3 386.5,1059.5 386.9,1066.2 387.2,1077.0 387.5,1061.7 387.8,1067.5 388.1,1071.1 388.5,1070.8 388.8,1066.6 389.1,1069.0 389.4,1065.4 389.7,1068.6 390.1,1070.6 390.4,1064.2 390.7,1075.6 391.0,1067.2 391.3,1069.3 391.7,1072.9 392.0,1064.9 392.3,1067.1 392.6,1074.7 392.9,1071.4 393.3,1068.4 393.6,1073.4 393.9,1066.7 394.2,1062.8 394.5,1068.4 394.9,1074.4 395.2,1072.2 395.5,1053.4 395.8,1068.7 396.1,1074.8 396.5,1073.0 396.8,1077.3 397.1,1068.4 397.4,1075.0 397.7,1082.1 398.1,1081.6 398.4,1084.2 398.7,1085.4 399.0,1068.4 399.3,1080.4 399.7,1070.3 400.0,1069.9 400.3,1092.2 400.6,1076.5 400.9,1077.6 401.3,1072.1 401.6,1076.3 401.9,1083.8 402.2,1086.1 402.5,1072.8 402.9,1082.7 403.2,1075.1 403.5,1083.2 403.8,1080.6 404.1,1081.4 404.5,1079.3 404.8,1069.9 405.1,1082.3 405.4,1075.3 405.7,1084.9 406.1,1073.9 406.4,1080.8 406.7,1081.7 407.0,1073.5 407.3,1079.0 407.7,1078.6 408.0,1080.9 408.3,1077.6 408.6,1079.3 408.9,1073.5 409.3,1078.3 409.6,1085.7 409.9,1080.2 410.2,1071.0 410.5,1079.2 410.9,1074.6 411.2,1076.2 411.5,1078.7 411.8,1088.4 412.1,1084.5 412.5,1076.3 412.8,1075.7 413.1,1083.5 413.4,1078.5 413.7,1082.7 414.1,1083.4 414.4,1082.8 414.7,1083.6 415.0,1082.0 415.3,1080.3 415.7,1082.0 416.0,1081.5 416.3,1083.7 416.6,1095.5 416.9,1075.3 417.3,1071.3 417.6,1085.7 417.9,1073.1 418.2,1070.6 418.5,1086.5 418.9,1078.9 419.2,1086.3 419.5,1077.0 419.8,1077.4 420.1,1077.1 420.5,1068.1 420.8,1079.9 421.1,1076.6 421.4,1078.1 421.7,1080.3 422.1,1078.2 422.4,1086.0 422.7,1083.0 423.0,1080.4 423.3,1075.9 423.7,1083.7 424.0,1074.5 424.3,1092.9 424.6,1082.6 424.9,1081.9 425.3,1082.8 425.6,1090.3 425.9,1082.3 426.2,1079.8 426.5,1078.7 426.9,1085.9 427.2,1093.3 427.5,1086.4 427.8,1078.2 428.1,1090.6 428.5,1074.6 428.8,1080.7 429.1,1074.2 429.4,1078.8 429.7,1071.8 430.1,1085.3 430.4,1090.7 430.7,1081.7 431.0,1078.9 431.3,1075.9 431.7,1083.4 432.0,1078.8 432.3,1077.8 432.6,1071.4 432.9,1075.5 433.3,1068.7 433.6,1070.1 433.9,1074.4 434.2,1081.2 434.5,1080.3 434.9,1080.9 435.2,1079.1 435.5,1082.2 435.8,1083.2 436.1,1079.8 436.5,1081.2 436.8,1078.9 437.1,1080.0 437.4,1083.2 437.7,1074.9 438.1,1075.3 438.4,1082.0 438.7,1071.0 439.0,1088.2 439.3,1081.1 439.7,1081.5 440.0,1082.6 440.3,1084.7 440.6,1078.4 440.9,1075.5 441.3,1082.1 441.6,1087.7 441.9,1092.4 442.2,1062.4 442.5,1087.6 442.9,1078.8 443.2,1081.7 443.5,1077.1 443.8,1078.0 444.1,1082.4 444.5,1080.8 444.8,1073.8 445.1,1078.8 445.4,1086.3 445.7,1084.6 446.1,1094.3 446.4,1082.4 446.7,1087.8 447.0,1081.1 447.3,1079.8 447.7,1088.2 448.0,1077.8 448.3,1081.3 448.6,1082.5 448.9,1082.1 449.3,1087.2 449.6,1087.2 449.9,1086.1 450.2,1087.5 450.5,1085.4 450.9,1079.5 451.2,1082.2 451.5,1079.4 451.8,1078.0 452.1,1080.9 452.5,1085.7 452.8,1083.1 453.1,1075.8 453.4,1083.6 453.7,1099.1 454.1,1080.6 454.4,1082.2 454.7,1077.6 455.0,1083.4 455.3,1071.1 455.7,1073.6 456.0,1078.3 456.3,1080.0 456.6,1087.0 456.9,1084.4 457.3,1077.0 457.6,1080.0 457.9,1084.9 458.2,1084.9 458.5,1084.9 458.9,1088.2 459.2,1076.3 459.5,1085.1 459.8,1081.4 460.1,1083.3 460.5,1086.0 460.8,1078.5 461.1,1082.4 461.4,1078.7 461.7,1082.3 462.1,1085.3 462.4,1074.0 462.7,1096.5 463.0,1074.4 463.3,1084.8 463.7,1075.8 464.0,1088.4 464.3,1078.7 464.6,1072.7 464.9,1081.1 465.3,1079.1 465.6,1085.1 465.9,1089.3 466.2,1080.7 466.5,1082.1 466.9,1085.6 467.2,1080.7 467.5,1087.8 467.8,1075.2 468.1,1083.5 468.5,1084.4 468.8,1079.1 469.1,1074.5 469.4,1082.5 469.7,1075.0 470.1,1078.8 470.4,1089.5 470.7,1086.0 471.0,1084.3 471.3,1089.0 471.7,1078.6 472.0,1087.0 472.3,1089.8 472.6,1082.7 472.9,1079.9 473.3,1085.2 473.6,1093.6 473.9,1080.5 474.2,1071.0 474.5,1080.3 474.9,1073.6 475.2,1075.7 475.5,1074.9 475.8,1082.8 476.1,1073.8 476.5,1081.0 476.8,1081.7 477.1,1073.8 477.4,1079.0 477.7,1082.0 478.1,1083.2 478.4,1078.0 478.7,1074.1 479.0,1079.9 479.3,1068.7 479.7,1082.3 480.0,1075.9 480.3,1078.4 480.6,1082.7 480.9,1077.2 481.3,1080.0 481.6,1080.1 481.9,1086.0 482.2,1077.0 482.5,1071.1 482.9,1108.5 483.2,1083.5 483.5,1095.9 483.8,1086.4 484.1,1073.4 484.5,1078.5 484.8,1085.3 485.1,1080.2 485.4,1081.5 485.7,1079.9 486.1,1086.7 486.4,1089.0 486.7,1067.1 487.0,1083.2 487.3,1085.2 487.7,1084.3 488.0,1082.1 488.3,1078.0 488.6,1068.3 488.9,1082.8 489.3,1075.1 489.6,1080.1 489.9,1081.6 490.2,1092.2 490.5,1072.5 490.9,1077.5 491.2,1088.5 491.5,1079.6 491.8,1086.3 492.1,1084.0 492.5,1090.6 492.8,1085.8 493.1,1085.4 493.4,1077.1 493.7,1082.3 494.1,1081.6 494.4,1089.3 494.7,1072.2 495.0,1091.0 495.3,1091.1 495.7,1084.8 496.0,1086.0 496.3,1081.7 496.6,1087.7 496.9,1080.8 497.3,1078.1 497.6,1086.6 497.9,1091.1 498.2,1080.3 498.5,1086.9 498.9,1078.1 499.2,1078.8 499.5,1079.2 499.8,1078.7 500.1,1076.8 500.5,1083.7 500.8,1075.2 501.1,1077.4 501.4,1077.5 501.7,1086.1 502.1,1085.0 502.4,1090.5 502.7,1091.8 503.0,1079.5 503.3,1088.8 503.7,1081.0 504.0,1074.6 504.3,1081.9 504.6,1088.4 504.9,1082.2 505.3,1081.3 505.6,1082.9 505.9,1073.0 506.2,1091.7 506.5,1084.2 506.9,1087.3 507.2,1077.7 507.5,1080.8 507.8,1083.6 508.1,1082.7 508.5,1077.0 508.8,1084.9 509.1,1081.7 509.4,1087.1 509.7,1081.8 510.1,1083.7 510.4,1092.4 510.7,1085.0 511.0,1090.0 511.3,1092.7 511.7,1081.0 512.0,1064.4 512.3,1085.6 512.6,1078.7 512.9,1080.8 513.3,1087.7 513.6,1085.8 513.9,1084.5 514.2,1071.4 514.5,1087.1 514.9,1074.1 515.2,1082.4 515.5,1085.6 515.8,1084.4 516.1,1085.4 516.5,1085.3 516.8,1091.3 517.1,1075.2 517.4,1087.8 517.7,1085.5 518.1,1104.9 518.4,1082.1 518.7,1084.8 519.0,1082.6 519.3,1088.9 519.7,1082.3 520.0,1098.6 520.3,1090.2 520.6,1081.9 520.9,1082.5 521.3,1080.6 521.6,1088.5 521.9,1082.4 522.2,1084.1 522.5,1088.1 522.9,1077.7 523.2,1082.6 523.5,1082.5 523.8,1089.2 524.1,1080.0 524.5,1088.5 524.8,1080.7 525.1,1085.2 525.4,1065.3 525.7,1087.6 526.1,1079.9 526.4,1084.4 526.7,1091.6 527.0,1085.2 527.3,1077.2 527.7,1079.9 528.0,1086.5 528.3,1086.9 528.6,1085.2 528.9,1079.8 529.3,1078.5 529.6,1089.2 529.9,1082.5 530.2,1088.7 530.5,1100.8 530.9,1102.9 531.2,1080.3 531.5,1091.3 531.8,1087.9 532.1,1086.3 532.5,1086.4 532.8,1076.4 533.1,1084.1 533.4,1074.7 533.7,1071.7 534.1,1072.4 534.4,1075.9 534.7,1084.9 535.0,1079.0 535.3,1073.7 535.7,1080.1 536.0,1082.2 536.3,1082.5 536.6,1082.6 536.9,1078.1 537.3,1078.9 537.6,1084.1 537.9,1085.6 538.2,1087.5 538.5,1078.6 538.9,1073.7 539.2,1077.4 539.5,1086.8 539.8,1086.4 540.1,1080.1 540.5,1078.9 540.8,1085.4 541.1,1074.5 541.4,1074.1 541.7,1067.6 542.1,1090.9 542.4,1086.2 542.7,1083.3 543.0,1092.2 543.3,1081.2 543.7,1089.5 544.0,1087.7 544.3,1089.6 544.6,1094.8 544.9,1083.4 545.3,1088.2 545.6,1089.5 545.9,1087.9 546.2,1084.0 546.5,1086.3 546.9,1087.3 547.2,1084.6 547.5,1091.3 547.8,1080.9 548.1,1090.9 548.5,1083.4 548.8,1088.1 549.1,1088.5 549.4,1083.3 549.7,1067.6 550.1,1085.3 550.4,1077.8 550.7,1079.2 551.0,1083.8 551.3,1090.9 551.7,1091.3 552.0,1090.5 552.3,1085.2 552.6,1090.8 552.9,1086.9 553.3,1079.3 553.6,1087.2 553.9,1084.8 554.2,1082.2 554.5,1084.3 554.9,1077.3 555.2,1081.5 555.5,1088.1 555.8,1077.0 556.1,1081.4 556.5,1080.5 556.8,1087.9 557.1,1079.2 557.4,1090.8 557.7,1091.5 558.1,1082.5 558.4,1094.9 558.7,1087.9 559.0,1085.7 559.3,1084.9 559.7,1086.5 560.0,1085.5 560.3,1086.8 560.6,1083.2 560.9,1084.9 561.3,1089.7 561.6,1078.5 561.9,1082.2 562.2,1084.0 562.5,1082.1 562.9,1080.6 563.2,1069.6 563.5,1064.3 563.8,1075.7 564.1,1081.7 564.5,1086.0 564.8,1085.8 565.1,1078.1 565.4,1085.5 565.7,1082.5 566.1,1088.5 566.4,1085.9 566.7,1083.8 567.0,1090.9 567.3,1081.7 567.7,1082.6 568.0,1088.2 568.3,1094.3 568.6,1089.3 568.9,1093.6 569.3,1080.5 569.6,1085.3 569.9,1089.3 570.2,1083.7 570.5,1088.6 570.9,1080.5 571.2,1089.6 571.5,1086.7 571.8,1081.4 572.1,1081.4 572.5,1087.3 572.8,1100.8 573.1,1088.2 573.4,1085.5 573.7,1075.4 574.1,1095.4 574.4,1084.3 574.7,1092.2 575.0,1087.7 575.3,1089.1 575.7,1100.6 576.0,1081.2 576.3,1085.3 576.6,1089.2 576.9,1076.7 577.3,1101.9 577.6,1089.5 577.9,1081.3 578.2,1091.7 578.5,1083.8 578.9,1085.1 579.2,1090.6 579.5,1107.1 579.8,1086.8 580.1,1083.0 580.5,1089.5 580.8,1089.0 581.1,1086.2 581.4,1084.9 581.7,1091.6 582.1,1089.6 582.4,1092.5 582.7,1084.4 583.0,1078.4 583.3,1084.7 583.7,1074.2 584.0,1090.3 584.3,1080.6 584.6,1082.1 584.9,1080.1 585.3,1074.5 585.6,1077.0 585.9,1081.7 586.2,1086.6 586.5,1077.8 586.9,1076.4 587.2,1077.2 587.5,1076.8 587.8,1078.1 588.1,1087.8 588.5,1076.7 588.8,1083.9 589.1,1083.9 589.4,1078.9 589.7,1087.9 590.1,1079.9 590.4,1083.9 590.7,1079.2 591.0,1090.2 591.3,1084.5 591.7,1085.8 592.0,1079.2 592.3,1076.5 592.6,1083.0 592.9,1090.8 593.3,1083.2 593.6,1085.5 593.9,1085.5 594.2,1089.2 594.5,1086.5 594.9,1090.4 595.2,1077.7 595.5,1085.7 595.8,1087.1 596.1,1079.6 596.5,1079.8 596.8,1086.3 597.1,1085.0 597.4,1085.1 597.7,1082.4 598.1,1100.5 598.4,1083.8 598.7,1094.9 599.0,1090.2 599.3,1088.0 599.7,1080.0 600.0,1087.1 600.3,1093.3 600.6,1084.2 600.9,1076.9 601.3,1082.3 601.6,1088.4 601.9,1089.8 602.2,1074.3 602.5,1095.5 602.9,1078.0 603.2,1083.4 603.5,1075.2 603.8,1092.6 604.1,1083.0 604.5,1078.2 604.8,1081.6 605.1,1083.0 605.4,1081.9 605.7,1078.3 606.1,1083.9 606.4,1083.7 606.7,1072.2 607.0,1079.0 607.3,1061.1 607.7,1085.4 608.0,1089.7 608.3,1089.4 608.6,1084.8 608.9,1103.5 609.3,1091.8 609.6,1084.7 609.9,1083.2 610.2,1079.5 610.5,1083.0 610.9,1087.2 611.2,1085.3 611.5,1076.7 611.8,1084.0 612.1,1073.2 612.5,1080.1 612.8,1086.3 613.1,1081.7 613.4,1081.3 613.7,1079.5 614.1,1086.5 614.4,1086.1 614.7,1080.0 615.0,1090.5 615.3,1087.8 615.7,1081.7 616.0,1091.5 616.3,1092.6 616.6,1074.7 616.9,1081.9 617.3,1082.5 617.6,1083.1 617.9,1088.6 618.2,1080.5 618.5,1079.3 618.9,1080.6 619.2,1084.3 619.5,1092.3 619.8,1079.6 620.1,1085.9 620.5,1072.4 620.8,1078.0 621.1,1091.1 621.4,1088.8 621.7,1082.6 622.1,1075.7 622.4,1086.7 622.7,1081.0 623.0,1077.9 623.3,1084.1 623.7,1082.3 624.0,1080.7 624.3,1080.2 624.6,1086.9 624.9,1087.7 625.3,1086.5 625.6,1084.9 625.9,1081.4 626.2,1080.6 626.5,1083.0 626.9,1082.3 627.2,1077.1 627.5,1088.1 627.8,1072.5 628.1,1085.0 628.5,1085.2 628.8,1081.2 629.1,1089.1 629.4,1091.9 629.7,1091.8 630.1,1089.9 630.4,1085.7 630.7,1083.0 631.0,1085.6 631.3,1090.4 631.7,1082.1 632.0,1090.2 632.3,1088.0 632.6,1092.1 632.9,1085.1 633.3,1087.7 633.6,1088.4 633.9,1091.1 634.2,1079.9 634.5,1090.2 634.9,1085.4 635.2,1091.2 635.5,1083.6 635.8,1091.2 636.1,1100.6 636.5,1088.5 636.8,1081.3 637.1,1079.8 637.4,1087.5 637.7,1082.0 638.1,1086.6 638.4,1076.2 638.7,1099.3 639.0,1092.1 639.3,1091.3 639.7,1090.1 640.0,1080.9 640.3,1078.8 640.6,1090.3 640.9,1086.0 641.3,1093.5 641.6,1092.0 641.9,1087.0 642.2,1083.5 642.5,1089.5 642.9,1080.6 643.2,1081.0 643.5,1089.7 643.8,1084.4 644.1,1087.4 644.5,1082.8 644.8,1095.3 645.1,1083.4 645.4,1081.8 645.7,1084.5 646.1,1085.7 646.4,1086.7 646.7,1084.0 647.0,1084.3 647.3,1109.3 647.7,1083.6 648.0,1082.0 648.3,1080.4 648.6,1079.0 648.9,1075.0 649.3,1080.7 649.6,1080.4 649.9,1080.5 650.2,1069.6 650.5,1078.1 650.9,1082.4 651.2,1083.7 651.5,1082.1 651.8,1064.0 652.1,1084.7 652.5,1094.8 652.8,1084.4 653.1,1083.3 653.4,1082.7 653.7,1083.7 654.1,1087.2 654.4,1079.6 654.7,1075.3 655.0,1084.6 655.3,1089.9 655.7,1082.2 656.0,1089.3 656.3,1077.1 656.6,1076.9 656.9,1068.5 657.3,1066.5 657.6,1066.9 657.9,1065.4 658.2,1080.0 658.5,1052.0 658.9,1058.1 659.2,1055.8 659.5,1047.0 659.8,1042.4 660.1,1034.3 660.5,1034.6 660.8,1030.7 661.1,1017.2 661.4,1014.2 661.7,1025.0 662.1,1020.8 662.4,1031.1 662.7,1022.1 663.0,1024.8 663.3,1038.6 663.7,1039.9 664.0,1049.2 664.3,1037.3 664.6,1044.2 664.9,1058.4 665.3,1044.4 665.6,1048.7 665.9,1055.5 666.2,1057.0 666.5,1056.5 666.9,1047.2 667.2,1048.9 667.5,1057.7 667.8,1061.0 668.1,1051.3 668.5,1068.6 668.8,1068.1 669.1,1053.5 669.4,1072.2 669.7,1067.7 670.1,1066.3 670.4,1064.3 670.7,1051.0 671.0,1069.3 671.3,1067.4 671.7,1069.3 672.0,1071.3 672.3,1060.8 672.6,1076.0 672.9,1062.5 673.3,1069.0 673.6,1067.9 673.9,1067.1 674.2,1068.5 674.5,1070.5 674.9,1067.4 675.2,1074.5 675.5,1077.8 675.8,1079.9 676.1,1087.1 676.5,1084.2 676.8,1079.3 677.1,1078.0 677.4,1076.1 677.7,1077.2 678.1,1082.5 678.4,1071.9 678.7,1083.9 679.0,1088.7 679.3,1085.8 679.7,1086.0 680.0,1087.7 680.3,1085.3 680.6,1089.5 680.9,1081.5 681.3,1079.7 681.6,1083.2 681.9,1092.2 682.2,1085.0 682.5,1078.0 682.9,1087.4 683.2,1093.5 683.5,1081.5 683.8,1078.6 684.1,1082.7 684.5,1082.8 684.8,1090.4 685.1,1094.5 685.4,1084.7 685.7,1089.9 686.1,1088.5 686.4,1082.6 686.7,1091.3 687.0,1088.0 687.3,1092.5 687.7,1087.1 688.0,1085.7 688.3,1083.2 688.6,1086.9 688.9,1100.2 689.3,1080.7 689.6,1088.7 689.9,1089.0 690.2,1087.1 690.5,1089.9 690.9,1072.5 691.2,1093.0 691.5,1084.4 691.8,1081.3 692.1,1095.1 692.5,1088.0 692.8,1082.3 693.1,1082.1 693.4,1085.9 693.7,1093.9 694.1,1086.4 694.4,1086.5 694.7,1082.9 695.0,1087.0 695.3,1087.9 695.7,1082.9 696.0,1085.0 696.3,1078.7 696.6,1083.4 696.9,1084.2 697.3,1089.4 697.6,1089.3 697.9,1082.4 698.2,1083.7 698.5,1101.7 698.9,1087.6 699.2,1089.6 699.5,1093.5 699.8,1086.2 700.1,1084.8 700.5,1087.5 700.8,1087.0 701.1,1095.2 701.4,1086.4 701.7,1087.4 702.1,1088.6 702.4,1090.6 702.7,1089.9 703.0,1082.0 703.3,1084.9 703.7,1078.4 704.0,1071.9 704.3,1086.8 704.6,1080.2 704.9,1080.3 705.3,1076.3 705.6,1083.8 705.9,1085.6 706.2,1085.9 706.5,1086.2 706.9,1087.2 707.2,1089.2 707.5,1088.6 707.8,1085.4 708.1,1086.8 708.5,1095.0 708.8,1085.1 709.1,1076.2 709.4,1079.3 709.7,1088.6 710.1,1081.7 710.4,1091.9 710.7,1087.2 711.0,1092.9 711.3,1092.3 711.7,1078.7 712.0,1079.7 712.3,1085.0 712.6,1094.7 712.9,1087.8 713.3,1089.9 713.6,1086.2 713.9,1078.3 714.2,1089.2 714.5,1082.2 714.9,1092.3 715.2,1085.7 715.5,1096.8 715.8,1084.5 716.1,1084.7 716.5,1081.2 716.8,1083.5 717.1,1085.2 717.4,1080.6 717.7,1083.1 718.1,1082.9 718.4,1081.2 718.7,1083.2 719.0,1082.7 719.3,1079.1 719.7,1085.9 720.0,1082.7 720.3,1084.7 720.6,1080.1 720.9,1081.1 721.3,1099.2 721.6,1079.8 721.9,1076.2 722.2,1079.6 722.5,1084.6 722.9,1089.4 723.2,1076.8 723.5,1084.1 723.8,1084.3 724.1,1083.4 724.5,1077.0 724.8,1070.5 725.1,1077.9 725.4,1089.9 725.7,1078.6 726.1,1078.7 726.4,1080.5 726.7,1078.2 727.0,1081.1 727.3,1075.7 727.7,1082.0 728.0,1084.9 728.3,1071.3 728.6,1079.6 728.9,1080.7 729.3,1079.3 729.6,1084.3 729.9,1083.8 730.2,1090.0 730.5,1082.3 730.9,1086.6 731.2,1083.5 731.5,1089.6 731.8,1086.2 732.1,1083.7 732.5,1086.4 732.8,1082.7 733.1,1071.9 733.4,1099.7 733.7,1086.1 734.1,1086.0 734.4,1083.6 734.7,1079.6 735.0,1086.0 735.3,1077.3 735.7,1078.5 736.0,1092.9 736.3,1088.5 736.6,1087.4 736.9,1081.8 737.3,1079.2 737.6,1084.8 737.9,1092.5 738.2,1088.8 738.5,1093.4 738.9,1081.5 739.2,1088.6 739.5,1086.4 739.8,1080.6 740.1,1073.8 740.5,1079.1 740.8,1080.6 741.1,1080.7 741.4,1082.1 741.7,1083.1 742.1,1074.6 742.4,1078.8 742.7,1085.0 743.0,1078.1 743.3,1081.9 743.7,1077.0 744.0,1084.5 744.3,1084.3 744.6,1079.7 744.9,1088.3 745.3,1089.8 745.6,1089.0 745.9,1086.2 746.2,1086.6 746.5,1088.8 746.9,1079.4 747.2,1085.4 747.5,1087.3 747.8,1087.4 748.1,1093.1 748.5,1097.7 748.8,1099.7 749.1,1094.0 749.4,1087.4 749.7,1094.3 750.1,1093.4 750.4,1084.9 750.7,1110.0 751.0,1088.1 751.3,1090.8 751.7,1091.2 752.0,1087.1 752.3,1091.5 752.6,1095.3 752.9,1089.4 753.3,1090.7 753.6,1087.0 753.9,1084.1 754.2,1087.1 754.5,1085.1 754.9,1080.8 755.2,1083.6 755.5,1084.0 755.8,1078.0 756.1,1073.5 756.5,1077.8 756.8,1087.6 757.1,1084.4 757.4,1093.4 757.7,1087.3 758.1,1078.8 758.4,1084.7 758.7,1083.9 759.0,1087.2 759.3,1086.2 759.7,1085.6 760.0,1079.5 760.3,1090.5 760.6,1092.7 760.9,1084.9 761.3,1073.3 761.6,1089.8 761.9,1081.1 762.2,1079.6 762.5,1076.3 762.9,1090.1 763.2,1086.7 763.5,1085.3 763.8,1090.2 764.1,1081.6 764.5,1086.8 764.8,1085.2 765.1,1096.2 765.4,1085.3 765.7,1080.5 766.1,1091.3 766.4,1085.5 766.7,1087.1 767.0,1083.5 767.3,1077.3 767.7,1078.6 768.0,1076.1 768.3,1082.8 768.6,1074.2 768.9,1083.1 769.3,1087.7 769.6,1080.5 769.9,1081.3 770.2,1078.2 770.5,1073.5 770.9,1091.7 771.2,1078.1 771.5,1078.6 771.8,1079.9 772.1,1084.1 772.5,1078.9 772.8,1086.6 773.1,1084.7 773.4,1089.8 773.7,1100.2 774.1,1087.3 774.4,1081.5 774.7,1086.9 775.0,1087.5 775.3,1088.6 775.7,1078.3 776.0,1089.7 776.3,1093.2 776.6,1090.3 776.9,1098.0 777.3,1088.2 777.6,1089.8 777.9,1097.8 778.2,1086.0 778.5,1087.3 778.9,1089.2 779.2,1084.1 779.5,1086.9 779.8,1088.2 780.1,1084.0 780.5,1079.0 780.8,1080.3 781.1,1092.9 781.4,1082.1 781.7,1079.5 782.1,1087.6 782.4,1088.8 782.7,1089.6 783.0,1082.9 783.3,1084.3 783.7,1070.3 784.0,1084.9 784.3,1084.8 784.6,1086.6 784.9,1084.3 785.3,1083.6 785.6,1086.7 785.9,1099.1 786.2,1089.9 786.5,1086.2 786.9,1094.3 787.2,1081.1 787.5,1087.3 787.8,1084.8 788.1,1092.5 788.5,1091.9 788.8,1099.0 789.1,1090.0 789.4,1098.5 789.7,1095.1 790.1,1090.6 790.4,1089.9 790.7,1088.5 791.0,1090.1 791.3,1081.2 791.7,1091.2 792.0,1086.0 792.3,1090.6 792.6,1087.1 792.9,1093.3 793.3,1085.7 793.6,1090.3 793.9,1091.4 794.2,1095.8 794.5,1087.0 794.9,1080.3 795.2,1093.3 795.5,1087.8 795.8,1090.6 796.1,1087.4 796.5,1089.4 796.8,1089.6 797.1,1092.6 797.4,1083.1 797.7,1086.0 798.1,1089.5 798.4,1082.4 798.7,1079.2 799.0,1082.6 799.3,1084.5 799.7,1102.4 800.0,1088.4 800.3,1090.8 800.6,1095.6 800.9,1091.0 801.3,1090.2 801.6,1094.7 801.9,1087.2 802.2,1092.5 802.5,1089.5 802.9,1088.3 803.2,1087.7 803.5,1078.9 803.8,1077.1 804.1,1079.2 804.5,1086.1 804.8,1086.5 805.1,1089.0 805.4,1085.3 805.7,1080.7 806.1,1087.9 806.4,1082.4 806.7,1086.9 807.0,1085.5 807.3,1087.9 807.7,1083.7 808.0,1084.2 808.3,1091.4 808.6,1096.1 808.9,1082.3 809.3,1090.4 809.6,1092.3 809.9,1090.3 810.2,1078.2 810.5,1086.5 810.9,1089.4 811.2,1089.1 811.5,1078.1 811.8,1088.1 812.1,1089.3 812.5,1081.3 812.8,1085.6 813.1,1088.2 813.4,1085.2 813.7,1087.6 814.1,1087.1 814.4,1085.1 814.7,1077.9 815.0,1086.5 815.3,1085.0 815.7,1088.6 816.0,1093.0 816.3,1089.4 816.6,1095.4 816.9,1070.4 817.3,1087.6 817.6,1086.1 817.9,1076.1 818.2,1098.9 818.5,1090.8 818.9,1086.9 819.2,1076.6 819.5,1088.7 819.8,1084.5 820.1,1083.8 820.5,1081.4 820.8,1087.6 821.1,1091.0 821.4,1100.5 821.7,1083.7 822.1,1079.4 822.4,1089.9 822.7,1086.9 823.0,1082.9 823.3,1090.3 823.7,1085.6 824.0,1083.2 824.3,1094.2 824.6,1086.6 824.9,1086.6 825.3,1090.7 825.6,1095.1 825.9,1088.4 826.2,1089.0 826.5,1076.4 826.9,1090.1 827.2,1087.5 827.5,1092.0 827.8,1086.8 828.1,1089.9 828.5,1084.0 828.8,1087.8 829.1,1080.8 829.4,1085.5 829.7,1088.1 830.1,1087.8 830.4,1086.0 830.7,1088.2 831.0,1076.5 831.3,1082.4 831.7,1084.2 832.0,1085.2 832.3,1085.3 832.6,1097.2 832.9,1085.6 833.3,1079.3 833.6,1093.0 833.9,1072.5 834.2,1086.5 834.5,1085.1 834.9,1067.4 835.2,1088.7 835.5,1087.7 835.8,1089.1 836.1,1088.4 836.5,1086.8 836.8,1086.9 837.1,1095.5 837.4,1086.0 837.7,1095.3 838.1,1088.7 838.4,1094.9 838.7,1091.1 839.0,1083.6 839.3,1087.1 839.7,1084.3 840.0,1105.9 840.3,1088.3 840.6,1083.4 840.9,1087.2 841.3,1091.3 841.6,1085.9 841.9,1089.1 842.2,1093.1 842.5,1088.1 842.9,1095.0 843.2,1084.0 843.5,1097.3 843.8,1092.8 844.1,1096.5 844.5,1095.6 844.8,1093.6 845.1,1085.4 845.4,1073.2 845.7,1086.9 846.1,1093.8 846.4,1082.8 846.7,1074.0 847.0,1093.9 847.3,1087.1 847.7,1083.4 848.0,1081.7 848.3,1087.9 848.6,1079.4 848.9,1078.9 849.3,1083.3 849.6,1083.5 849.9,1093.6 850.2,1087.5 850.5,1081.3 850.9,1090.9 851.2,1082.2 851.5,1079.0 851.8,1082.2 852.1,1088.3 852.5,1087.6 852.8,1082.4 853.1,1073.7 853.4,1089.9 853.7,1104.6 854.1,1086.0 854.4,1088.6 854.7,1082.4 855.0,1088.0 855.3,1084.5 855.7,1084.7 856.0,1076.3 856.3,1081.2 856.6,1089.8 856.9,1081.4 857.3,1089.3 857.6,1081.6 857.9,1080.2 858.2,1078.6 858.5,1083.9 858.9,1084.3 859.2,1091.5 859.5,1082.1 859.8,1085.8 860.1,1088.8 860.5,1077.1 860.8,1089.0 861.1,1080.7 861.4,1086.8 861.7,1088.2 862.1,1082.7 862.4,1086.5 862.7,1091.6 863.0,1086.6 863.3,1084.3 863.7,1086.2 864.0,1088.2 864.3,1083.1 864.6,1077.3 864.9,1087.9 865.3,1085.0 865.6,1079.9 865.9,1083.6 866.2,1083.1 866.5,1083.9 866.9,1080.2 867.2,1081.8 867.5,1090.1 867.8,1081.9 868.1,1088.7 868.5,1081.0 868.8,1091.5 869.1,1084.8 869.4,1081.7 869.7,1077.0 870.1,1078.1 870.4,1077.6 870.7,1065.3 871.0,1072.7 871.3,1081.7 871.7,1070.5 872.0,1081.4 872.3,1066.7 872.6,1072.7 872.9,1062.1 873.3,1056.9 873.6,1061.5 873.9,1063.0 874.2,1067.1 874.5,1064.8 874.9,1075.3 875.2,1056.2 875.5,1064.8 875.8,1063.0 876.1,1054.1 876.5,1060.8 876.8,1059.5 877.1,1071.1 877.4,1066.3 877.7,1059.9 878.1,1066.6 878.4,1066.9 878.7,1068.1 879.0,1063.7 879.3,1067.3 879.7,1062.4 880.0,1066.2 880.3,1068.5 880.6,1070.7 880.9,1070.1 881.3,1076.3 881.6,1076.4 881.9,1072.5 882.2,1070.8 882.5,1074.4 882.9,1075.4 883.2,1073.2 883.5,1072.8 883.8,1078.7 884.1,1072.8 884.5,1073.6 884.8,1074.3 885.1,1078.8 885.4,1079.4 885.7,1078.6 886.1,1084.5 886.4,1091.2 886.7,1076.0 887.0,1087.8 887.3,1081.7 887.7,1076.5 888.0,1081.7 888.3,1086.4 888.6,1092.7 888.9,1081.4 889.3,1087.7 889.6,1083.8 889.9,1088.8 890.2,1080.1 890.5,1085.9 890.9,1090.5 891.2,1085.6 891.5,1082.9 891.8,1083.7 892.1,1083.9 892.5,1094.6 892.8,1094.8 893.1,1081.7 893.4,1085.0 893.7,1093.0 894.1,1087.9 894.4,1091.8 894.7,1095.7 895.0,1081.7 895.3,1091.3 895.7,1091.3 896.0,1090.4 896.3,1083.9 896.6,1092.2 896.9,1086.4 897.3,1097.0 897.6,1089.8 897.9,1091.5 898.2,1099.0 898.5,1084.2 898.9,1085.2 899.2,1092.8 899.5,1086.1 899.8,1089.5 900.1,1086.0 900.5,1079.4 900.8,1084.8 901.1,1084.0 901.4,1084.7 901.7,1093.6 902.1,1086.6 902.4,1084.0 902.7,1087.7 903.0,1079.5 903.3,1084.9 903.7,1081.5 904.0,1088.1 904.3,1084.2 904.6,1086.2 904.9,1089.3 905.3,1090.1 905.6,1089.9 905.9,1091.0 906.2,1090.1 906.5,1090.4 906.9,1087.8 907.2,1084.0 907.5,1088.1 907.8,1089.4 908.1,1089.4 908.5,1086.4 908.8,1089.7 909.1,1093.1 909.4,1093.1 909.7,1087.9 910.1,1084.4 910.4,1083.9 910.7,1080.8 911.0,1077.9 911.3,1090.3 911.7,1087.3 912.0,1094.6 912.3,1088.5 912.6,1097.4 912.9,1097.1 913.3,1090.3 913.6,1080.1 913.9,1088.0 914.2,1089.4 914.5,1082.8 914.9,1087.0 915.2,1085.0 915.5,1092.1 915.8,1096.4 916.1,1089.6 916.5,1088.7 916.8,1101.9 917.1,1095.7 917.4,1088.6 917.7,1097.4 918.1,1086.9 918.4,1080.6 918.7,1079.2 919.0,1090.5 919.3,1086.0 919.7,1092.7 920.0,1091.6 920.3,1085.9 920.6,1088.6 920.9,1096.1 921.3,1084.2 921.6,1090.0 921.9,1092.3 922.2,1089.4 922.5,1077.1 922.9,1087.3 923.2,1088.1 923.5,1092.3 923.8,1084.6 924.1,1094.5 924.5,1086.4 924.8,1095.6 925.1,1089.8 925.4,1078.5 925.7,1087.9 926.1,1097.1 926.4,1097.5 926.7,1089.7 927.0,1092.1 927.3,1090.6 927.7,1095.5 928.0,1090.0 928.3,1090.8 928.6,1085.9 928.9,1092.4 929.3,1085.3 929.6,1088.6 929.9,1085.7 930.2,1087.5 930.5,1086.0 930.9,1081.0 931.2,1082.7 931.5,1090.4 931.8,1098.9 932.1,1083.8 932.5,1092.6 932.8,1095.0 933.1,1089.2 933.4,1072.8 933.7,1096.9 934.1,1079.2 934.4,1095.1 934.7,1081.0 935.0,1090.5 935.3,1087.3 935.7,1087.0 936.0,1084.6 936.3,1094.1 936.6,1081.8 936.9,1088.2 937.3,1086.9 937.6,1083.7 937.9,1084.6 938.2,1089.0 938.5,1088.5 938.9,1079.5 939.2,1080.7 939.5,1085.3 939.8,1098.8 940.1,1090.1 940.5,1089.8 940.8,1092.0 941.1,1088.8 941.4,1089.2 941.7,1090.7 942.1,1087.7 942.4,1085.9 942.7,1099.9 943.0,1086.1 943.3,1093.9 943.7,1088.4 944.0,1089.6 944.3,1088.8 944.6,1089.1 944.9,1089.4 945.3,1100.1 945.6,1088.9 945.9,1091.2 946.2,1083.0 946.5,1085.4 946.9,1089.3 947.2,1076.0 947.5,1082.8 947.8,1083.0 948.1,1083.5 948.5,1089.0 948.8,1085.9 949.1,1079.7 949.4,1085.1 949.7,1087.2 950.1,1087.9 950.4,1078.4 950.7,1073.6 951.0,1085.6 951.3,1081.7 951.7,1074.5 952.0,1081.3 952.3,1057.0 952.6,1071.7 952.9,1075.0 953.3,1075.0 953.6,1063.5 953.9,1063.9 954.2,1058.5 954.5,1066.0 954.9,1064.2 955.2,1064.1 955.5,1067.7 955.8,1038.5 956.1,1064.6 956.5,1062.1 956.8,1065.2 957.1,1056.7 957.4,1062.4 957.7,1053.8 958.1,1054.9 958.4,1058.5 958.7,1052.8 959.0,1053.4 959.3,1059.8 959.7,1054.7 960.0,1058.3 960.3,1059.1 960.6,1065.3 960.9,1071.0 961.3,1062.5 961.6,1072.9 961.9,1066.1 962.2,1073.6 962.5,1071.6 962.9,1071.9 963.2,1067.8 963.5,1071.0 963.8,1076.7 964.1,1066.5 964.5,1073.6 964.8,1081.2 965.1,1078.2 965.4,1069.6 965.7,1075.4 966.1,1079.4 966.4,1073.7 966.7,1074.7 967.0,1073.3 967.3,1074.4 967.7,1080.6 968.0,1076.4 968.3,1079.6 968.6,1078.3 968.9,1079.2 969.3,1076.9 969.6,1085.2 969.9,1081.3 970.2,1082.6 970.5,1093.8 970.9,1087.1 971.2,1085.3 971.5,1077.0 971.8,1075.4 972.1,1082.1 972.5,1080.4 972.8,1088.6 973.1,1073.7 973.4,1086.4 973.7,1083.8 974.1,1087.7 974.4,1083.8 974.7,1085.1 975.0,1078.3 975.3,1087.7 975.7,1085.7 976.0,1093.7 976.3,1083.3 976.6,1084.6 976.9,1083.1 977.3,1108.0 977.6,1086.8 977.9,1088.2 978.2,1088.5 978.5,1088.7 978.9,1095.7 979.2,1087.3 979.5,1087.8 979.8,1080.8 980.1,1084.0 980.5,1087.3 980.8,1085.6 981.1,1091.4 981.4,1083.4 981.7,1089.1 982.1,1084.6 982.4,1095.3 982.7,1095.2 983.0,1091.1 983.3,1097.9 983.7,1087.1 984.0,1095.6 984.3,1079.6 984.6,1101.3 984.9,1086.4 985.3,1085.5 985.6,1085.9 985.9,1095.4 986.2,1092.6 986.5,1098.6 986.9,1092.1 987.2,1085.6 987.5,1089.0 987.8,1092.4 988.1,1079.7" stroke="#f00" stroke-width="1.3" fill="none" stroke-linejoin="round"/>
<polyline points="65.9,1225.2 66.2,1240.5 66.5,1244.9 66.9,1233.7 67.2,1240.1 67.5,1239.7 67.8,1236.6 68.1,1227.2 68.5,1234.6 68.8,1242.9 69.1,1243.4 69.4,1237.6 69.7,1239.0 70.1,1238.4 70.4,1245.0 70.7,1245.2 71.0,1239.6 71.3,1268.1 71.7,1244.0 72.0,1257.4 72.3,1260.0 72.6,1243.0 72.9,1226.2 73.3,1238.2 73.6,1244.6 73.9,1234.1 74.2,1241.2 74.5,1232.9 74.9,1243.0 75.2,1249.4 75.5,1214.0 75.8,1242.6 76.1,1240.1 76.5,1239.1 76.8,1241.5 77.1,1244.2 77.4,1246.7 77.7,1269.9 78.1,1244.2 78.4,1244.3 78.7,1236.0 79.0,1248.7 79.3,1239.6 79.7,1240.8 80.0,1241.2 80.3,1221.7 80.6,1245.0 80.9,1238.2 81.3,1254.0 81.6,1252.3 81.9,1242.3 82.2,1242.8 82.5,1253.4 82.9,1243.9 83.2,1247.4 83.5,1246.3 83.8,1245.4 84.1,1241.0 84.5,1248.8 84.8,1250.5 85.1,1243.0 85.4,1237.8 85.7,1242.4 86.1,1225.1 86.4,1233.1 86.7,1233.5 87.0,1243.4 87.3,1238.8 87.7,1241.5 88.0,1241.5 88.3,1248.2 88.6,1246.8 88.9,1237.1 89.3,1232.9 89.6,1243.6 89.9,1240.2 90.2,1244.9 90.5,1266.1 90.9,1252.1 91.2,1244.2 91.5,1235.1 91.8,1220.2 92.1,1238.1 92.5,1247.7 92.8,1253.1 93.1,1254.0 93.4,1244.8 93.7,1241.3 94.1,1228.3 94.4,1246.5 94.7,1247.4 95.0,1235.2 95.3,1235.7 95.7,1232.0 96.0,1249.0 96.3,1234.8 96.6,1237.9 96.9,1236.3 97.3,1251.3 97.6,1245.6 97.9,1256.0 98.2,1241.4 98.5,1243.5 98.9,1247.8 99.2,1247.4 99.5,1244.2 99.8,1238.3 100.1,1239.1 100.5,1248.4 100.8,1239.8 101.1,1246.2 101.4,1249.2 101.7,1253.7 102.1,1247.4 102.4,1246.7 102.7,1234.1 103.0,1230.7 103.3,1235.9 103.7,1242.4 104.0,1252.2 104.3,1243.8 104.6,1241.4 104.9,1238.3 105.3,1231.3 105.6,1234.6 105.9,1237.1 106.2,1249.5 106.5,1233.9 106.9,1229.1 107.2,1235.7 107.5,1245.9 107.8,1237.9 108.1,1239.1 108.5,1240.9 108.8,1227.9 109.1,1225.2 109.4,1234.4 109.7,1222.1 110.1,1228.7 110.4,1230.7 110.7,1222.8 111.0,1214.9 111.3,1218.0 111.7,1215.5 112.0,1206.6 112.3,1192.3 112.6,1193.3 112.9,1219.5 113.3,1195.0 113.6,1200.9 113.9,1202.1 114.2,1208.5 114.5,1216.3 114.9,1205.4 115.2,1227.0 115.5,1220.4 115.8,1231.3 116.1,1236.3 116.5,1226.6 116.8,1228.0 117.1,1232.4 117.4,1245.3 117.7,1232.9 118.1,1206.3 118.4,1232.9 118.7,1225.4 119.0,1224.7 119.3,1231.2 119.7,1230.9 120.0,1224.5 120.3,1243.2 120.6,1228.8 120.9,1225.5 121.3,1248.2 121.6,1236.5 121.9,1237.6 122.2,1245.4 122.5,1225.7 122.9,1235.9 123.2,1239.2 123.5,1241.6 123.8,1236.8 124.1,1231.3 124.5,1236.9 124.8,1239.4 125.1,1226.1 125.4,1250.8 125.7,1237.3 126.1,1235.3 126.4,1234.0 126.7,1238.5 127.0,1234.6 127.3,1234.0 127.7,1232.8 128.0,1226.2 128.3,1238.6 128.6,1234.2 128.9,1222.3 129.3,1209.9 129.6,1228.0 129.9,1224.3 130.2,1229.7 130.5,1225.2 130.9,1221.5 131.2,1221.1 131.5,1238.9 131.8,1229.6 132.1,1216.8 132.5,1209.6 132.8,1203.1 133.1,1225.9 133.4,1205.5 133.7,1214.5 134.1,1222.5 134.4,1216.5 134.7,1217.1 135.0,1205.1 135.3,1202.1 135.7,1182.7 136.0,1199.4 136.3,1181.3 136.6,1173.1 136.9,1181.4 137.3,1173.8 137.6,1186.9 137.9,1185.1 138.2,1176.1 138.5,1189.3 138.9,1187.0 139.2,1191.8 139.5,1190.7 139.8,1203.1 140.1,1199.0 140.5,1206.9 140.8,1221.5 141.1,1202.0 141.4,1206.2 141.7,1210.3 142.1,1220.3 142.4,1214.7 142.7,1233.6 143.0,1217.0 143.3,1223.4 143.7,1229.1 144.0,1221.0 144.3,1224.0 144.6,1215.1 144.9,1231.9 145.3,1243.4 145.6,1213.6 145.9,1238.8 146.2,1220.6 146.5,1246.5 146.9,1246.2 147.2,1229.5 147.5,1237.0 147.8,1236.6 148.1,1229.4 148.5,1242.4 148.8,1236.4 149.1,1247.2 149.4,1245.1 149.7,1248.9 150.1,1244.7 150.4,1258.1 150.7,1253.0 151.0,1242.8 151.3,1239.5 151.7,1263.6 152.0,1241.8 152.3,1243.2 152.6,1244.2 152.9,1230.9 153.3,1233.1 153.6,1224.5 153.9,1247.8 154.2,1229.8 154.5,1236.1 154.9,1241.0 155.2,1235.3 155.5,1245.2 155.8,1247.1 156.1,1236.8 156.5,1225.6 156.8,1248.7 157.1,1240.4 157.4,1239.8 157.7,1236.3 158.1,1241.8 158.4,1241.9 158.7,1244.7 159.0,1243.9 159.3,1245.3 159.7,1245.8 160.0,1233.3 160.3,1241.5 160.6,1248.0 160.9,1249.0 161.3,1253.3 161.6,1260.0 161.9,1239.1 162.2,1252.1 162.5,1252.5 162.9,1241.3 163.2,1243.9 163.5,1232.9 163.8,1239.5 164.1,1236.8 164.5,1237.5 164.8,1251.7 165.1,1232.5 165.4,1243.1 165.7,1232.8 166.1,1248.2 166.4,1243.5 166.7,1247.5 167.0,1242.3 167.3,1237.6 167.7,1240.4 168.0,1238.6 168.3,1247.3 168.6,1230.5 168.9,1234.6 169.3,1249.0 169.6,1240.0 169.9,1221.1 170.2,1244.7 170.5,1240.6 170.9,1235.4 171.2,1251.0 171.5,1239.3 171.8,1241.1 172.1,1251.6 172.5,1252.3 172.8,1256.1 173.1,1241.5 173.4,1247.5 173.7,1235.5 174.1,1255.7 174.4,1241.6 174.7,1244.4 175.0,1240.5 175.3,1247.7 175.7,1248.3 176.0,1251.3 176.3,1239.2 176.6,1244.6 176.9,1246.4 177.3,1250.1 177.6,1250.7 177.9,1253.5 178.2,1241.0 178.5,1245.0 178.9,1235.0 179.2,1247.4 179.5,1251.7 179.8,1244.8 180.1,1231.6 180.5,1254.6 180.8,1255.3 181.1,1247.3 181.4,1251.6 181.7,1247.8 182.1,1247.8 182.4,1232.8 182.7,1245.3 183.0,1240.8 183.3,1248.8 183.7,1253.7 184.0,1249.0 184.3,1240.1 184.6,1240.9 184.9,1243.7 185.3,1242.9 185.6,1241.4 185.9,1241.2 186.2,1233.5 186.5,1253.1 186.9,1248.7 187.2,1257.5 187.5,1252.9 187.8,1279.3 188.1,1256.0 188.5,1263.9 188.8,1256.5 189.1,1255.6 189.4,1247.5 189.7,1252.2 190.1,1241.8 190.4,1239.9 190.7,1254.1 191.0,1249.1 191.3,1234.0 191.7,1242.1 192.0,1232.1 192.3,1234.4 192.6,1242.4 192.9,1239.7 193.3,1259.7 193.6,1247.7 193.9,1246.6 194.2,1252.0 194.5,1243.3 194.9,1240.2 195.2,1245.0 195.5,1260.0 195.8,1257.2 196.1,1260.4 196.5,1250.5 196.8,1254.4 197.1,1244.3 197.4,1257.9 197.7,1241.4 198.1,1246.1 198.4,1261.2 198.7,1255.2 199.0,1254.4 199.3,1260.1 199.7,1235.3 200.0,1249.6 200.3,1254.7 200.6,1238.2 200.9,1242.6 201.3,1247.8 201.6,1256.8 201.9,1256.4 202.2,1242.9 202.5,1239.9 202.9,1263.3 203.2,1237.7 203.5,1238.7 203.8,1265.0 204.1,1238.8 204.5,1246.7 204.8,1239.1 205.1,1241.5 205.4,1233.6 205.7,1248.0 206.1,1253.4 206.4,1244.7 206.7,1241.6 207.0,1247.9 207.3,1259.1 207.7,1237.4 208.0,1249.8 208.3,1243.3 208.6,1246.4 208.9,1246.2 209.3,1259.2 209.6,1240.2 209.9,1249.2 210.2,1238.8 210.5,1251.3 210.9,1253.1 211.2,1248.6 211.5,1252.3 211.8,1241.6 212.1,1250.6 212.5,1256.0 212.8,1245.5 213.1,1246.1 213.4,1244.6 213.7,1252.2 214.1,1249.1 214.4,1252.0 214.7,1216.4 215.0,1229.8 215.3,1256.1 215.7,1256.9 216.0,1241.6 216.3,1268.4 216.6,1252.6 216.9,1251.8 217.3,1256.2 217.6,1247.9 217.9,1244.9 218.2,1257.8 218.5,1227.3 218.9,1239.6 219.2,1243.7 219.5,1238.2 219.8,1236.6 220.1,1246.0 220.5,1256.1 220.8,1249.4 221.1,1250.4 221.4,1246.7 221.7,1245.7 222.1,1232.6 222.4,1237.3 222.7,1214.0 223.0,1254.4 223.3,1251.1 223.7,1254.1 224.0,1237.3 224.3,1247.9 224.6,1252.9 224.9,1253.3 225.3,1251.5 225.6,1247.7 225.9,1245.9 226.2,1244.9 226.5,1241.1 226.9,1257.1 227.2,1248.1 227.5,1231.4 227.8,1249.8 228.1,1253.0 228.5,1250.9 228.8,1245.7 229.1,1256.1 229.4,1243.8 229.7,1258.2 230.1,1254.6 230.4,1268.1 230.7,1242.0 231.0,1250.4 231.3,1238.4 231.7,1255.8 232.0,1250.0 232.3,1249.0 232.6,1245.7 232.9,1260.7 233.3,1256.6 233.6,1250.0 233.9,1264.5 234.2,1256.6 234.5,1247.1 234.9,1246.3 235.2,1249.9 235.5,1258.0 235.8,1245.2 236.1,1242.2 236.5,1239.0 236.8,1245.4 237.1,1257.1 237.4,1236.9 237.7,1234.2 238.1,1244.8 238.4,1256.0 238.7,1244.0 239.0,1246.7 239.3,1256.6 239.7,1252.3 240.0,1246.1 240.3,1247.6 240.6,1252.6 240.9,1233.4 241.3,1236.7 241.6,1235.9 241.9,1242.9 242.2,1254.1 242.5,1259.8 242.9,1260.0 243.2,1252.7 243.5,1258.3 243.8,1251.3 244.1,1249.7 244.5,1246.4 244.8,1241.5 245.1,1263.7 245.4,1255.6 245.7,1242.5 246.1,1252.1 246.4,1256.2 246.7,1245.1 247.0,1252.9 247.3,1242.0 247.7,1253.4 248.0,1237.9 248.3,1253.2 248.6,1237.5 248.9,1248.1 249.3,1248.3 249.6,1251.1 249.9,1258.2 250.2,1239.8 250.5,1243.3 250.9,1274.8 251.2,1247.5 251.5,1254.8 251.8,1248.8 252.1,1243.8 252.5,1257.9 252.8,1257.0 253.1,1240.7 253.4,1262.5 253.7,1249.5 254.1,1253.0 254.4,1252.4 254.7,1256.5 255.0,1266.2 255.3,1254.7 255.7,1250.6 256.0,1254.7 256.3,1246.2 256.6,1250.4 256.9,1246.0 257.3,1227.2 257.6,1273.8 257.9,1244.4 258.2,1246.2 258.5,1252.9 258.9,1242.1 259.2,1239.5 259.5,1246.3 259.8,1239.3 260.1,1252.0 260.5,1240.1 260.8,1247.0 261.1,1254.3 261.4,1249.3 261.7,1243.4 262.1,1251.1 262.4,1250.5 262.7,1247.9 263.0,1253.8 263.3,1263.2 263.7,1239.8 264.0,1240.4 264.3,1252.2 264.6,1248.1 264.9,1253.9 265.3,1253.4 265.6,1251.3 265.9,1238.8 266.2,1242.6 266.5,1256.2 266.9,1249.4 267.2,1241.2 267.5,1249.3 267.8,1247.8 268.1,1290.6 268.5,1249.2 268.8,1254.4 269.1,1260.3 269.4,1245.4 269.7,1242.0 270.1,1245.4 270.4,1244.6 270.7,1249.6 271.0,1240.5 271.3,1253.0 271.7,1255.7 272.0,1253.1 272.3,1237.5 272.6,1219.0 272.9,1253.5 273.3,1257.5 273.6,1269.0 273.9,1264.3 274.2,1230.3 274.5,1255.2 274.9,1244.0 275.2,1250.6 275.5,1244.0 275.8,1250.5 276.1,1258.4 276.5,1247.6 276.8,1256.3 277.1,1244.3 277.4,1260.1 277.7,1257.6 278.1,1262.2 278.4,1264.0 278.7,1257.1 279.0,1254.4 279.3,1238.9 279.7,1258.6 280.0,1249.8 280.3,1250.2 280.6,1248.5 280.9,1240.8 281.3,1250.0 281.6,1263.2 281.9,1260.4 282.2,1253.5 282.5,1255.6 282.9,1243.5 283.2,1247.8 283.5,1249.7 283.8,1251.0 284.1,1250.8 284.5,1234.2 284.8,1249.9 285.1,1249.2 285.4,1223.4 285.7,1249.5 286.1,1247.6 286.4,1260.6 286.7,1236.9 287.0,1250.4 287.3,1258.2 287.7,1271.5 288.0,1255.7 288.3,1263.0 288.6,1247.8 288.9,1248.3 289.3,1246.2 289.6,1258.7 289.9,1257.7 290.2,1263.2 290.5,1250.9 290.9,1267.0 291.2,1257.5 291.5,1253.1 291.8,1264.7 292.1,1251.6 292.5,1258.5 292.8,1253.0 293.1,1259.0 293.4,1255.3 293.7,1257.4 294.1,1264.3 294.4,1256.9 294.7,1264.0 295.0,1259.0 295.3,1234.7 295.7,1258.7 296.0,1250.0 296.3,1249.7 296.6,1260.8 296.9,1258.4 297.3,1251.9 297.6,1249.7 297.9,1265.4 298.2,1241.6 298.5,1256.9 298.9,1258.6 299.2,1252.9 299.5,1252.0 299.8,1255.1 300.1,1249.8 300.5,1259.6 300.8,1254.3 301.1,1246.9 301.4,1250.5 301.7,1245.4 302.1,1259.4 302.4,1253.5 302.7,1253.0 303.0,1242.0 303.3,1260.4 303.7,1256.3 304.0,1255.6 304.3,1253.0 304.6,1253.4 304.9,1252.9 305.3,1259.8 305.6,1263.0 305.9,1270.7 306.2,1257.3 306.5,1262.9 306.9,1261.1 307.2,1256.5 307.5,1257.2 307.8,1263.7 308.1,1255.9 308.5,1250.6 308.8,1268.0 309.1,1251.8 309.4,1261.6 309.7,1262.1 310.1,1259.6 310.4,1271.1 310.7,1268.3 311.0,1264.4 311.3,1269.7 311.7,1266.7 312.0,1265.1 312.3,1258.7 312.6,1248.9 312.9,1254.0 313.3,1251.8 313.6,1249.0 313.9,1252.9 314.2,1258.3 314.5,1254.4 314.9,1256.0 315.2,1244.0 315.5,1264.3 315.8,1263.1 316.1,1260.5 316.5,1252.0 316.8,1261.6 317.1,1265.5 317.4,1273.0 317.7,1257.2 318.1,1256.0 318.4,1267.5 318.7,1276.7 319.0,1262.7 319.3,1270.0 319.7,1257.4 320.0,1266.8 320.3,1259.8 320.6,1264.1 320.9,1256.9 321.3,1277.0 321.6,1265.8 321.9,1267.2 322.2,1263.7 322.5,1250.5 322.9,1265.5 323.2,1263.0 323.5,1261.7 323.8,1262.5 324.1,1271.8 324.5,1259.2 324.8,1260.7 325.1,1260.2 325.4,1265.8 325.7,1263.4 326.1,1265.2 326.4,1272.1 326.7,1267.8 327.0,1263.6 327.3,1262.2 327.7,1264.3 328.0,1261.6 328.3,1263.7 328.6,1272.3 328.9,1270.8 329.3,1261.6 329.6,1264.5 329.9,1263.4 330.2,1267.5 330.5,1278.7 330.9,1262.3 331.2,1270.3 331.5,1268.4 331.8,1265.3 332.1,1245.7 332.5,1254.1 332.8,1259.3 333.1,1265.2 333.4,1263.1 333.7,1252.2 334.1,1272.5 334.4,1257.4 334.7,1240.4 335.0,1264.1 335.3,1260.9 335.7,1256.1 336.0,1268.8 336.3,1255.7 336.6,1259.3 336.9,1265.4 337.3,1264.3 337.6,1254.2 337.9,1256.5 338.2,1264.9 338.5,1257.3 338.9,1249.8 339.2,1279.0 339.5,1264.2 339.8,1261.5 340.1,1265.8 340.5,1268.5 340.8,1272.2 341.1,1249.5 341.4,1264.1 341.7,1246.5 342.1,1256.0 342.4,1260.4 342.7,1264.4 343.0,1260.3 343.3,1267.0 343.7,1265.8 344.0,1266.8 344.3,1273.6 344.6,1259.3 344.9,1261.6 345.3,1260.1 345.6,1261.0 345.9,1277.6 346.2,1262.3 346.5,1266.6 346.9,1270.7 347.2,1276.9 347.5,1267.4 347.8,1256.8 348.1,1271.2 348.5,1242.8 348.8,1259.5 349.1,1269.4 349.4,1263.3 349.7,1260.5 350.1,1252.7 350.4,1265.1 350.7,1263.8 351.0,1270.9 351.3,1278.3 351.7,1267.8 352.0,1270.7 352.3,1259.0 352.6,1255.7 352.9,1268.9 353.3,1259.0 353.6,1260.2 353.9,1261.0 354.2,1269.1 354.5,1263.8 354.9,1264.5 355.2,1265.3 355.5,1267.3 355.8,1264.3 356.1,1241.5 356.5,1264.1 356.8,1269.9 357.1,1264.8 357.4,1262.7 357.7,1254.6 358.1,1261.7 358.4,1256.0 358.7,1262.7 359.0,1260.7 359.3,1258.2 359.7,1256.8 360.0,1263.9 360.3,1264.2 360.6,1250.5 360.9,1249.1 361.3,1256.4 361.6,1239.3 361.9,1250.6 362.2,1244.0 362.5,1241.2 362.9,1257.5 363.2,1252.3 363.5,1247.6 363.8,1245.3 364.1,1244.2 364.5,1226.6 364.8,1233.6 365.1,1243.1 365.4,1248.5 365.7,1237.2 366.1,1236.6 366.4,1239.8 366.7,1239.6 367.0,1234.6 367.3,1233.9 367.7,1230.7 368.0,1234.9 368.3,1225.6 368.6,1222.8 368.9,1207.9 369.3,1207.8 369.6,1203.1 369.9,1190.5 370.2,1167.7 370.5,1154.1 370.9,1147.6 371.2,1130.7 371.5,1124.5 371.8,1124.9 372.1,1110.8 372.5,1111.1 372.8,1096.6 373.1,1097.1 373.4,1106.9 373.7,1092.4 374.1,1094.5 374.4,1109.7 374.7,1114.6 375.0,1107.1 375.3,1084.0 375.7,1109.2 376.0,1114.7 376.3,1125.6 376.6,1128.5 376.9,1150.3 377.3,1162.9 377.6,1180.2 377.9,1178.0 378.2,1187.6 378.5,1205.8 378.9,1208.3 379.2,1208.3 379.5,1217.2 379.8,1233.1 380.1,1228.2 380.5,1226.2 380.8,1241.9 381.1,1248.2 381.4,1249.1 381.7,1238.1 382.1,1249.3 382.4,1254.8 382.7,1247.3 383.0,1237.7 383.3,1260.9 383.7,1269.2 384.0,1263.9 384.3,1265.3 384.6,1255.8 384.9,1248.6 385.3,1260.8 385.6,1259.6 385.9,1257.4 386.2,1263.4 386.5,1268.8 386.9,1257.6 387.2,1259.7 387.5,1252.8 387.8,1259.4 388.1,1267.1 388.5,1258.1 388.8,1257.0 389.1,1259.4 389.4,1266.3 389.7,1267.5 390.1,1259.1 390.4,1259.1 390.7,1280.1 391.0,1268.7 391.3,1270.0 391.7,1267.1 392.0,1271.2 392.3,1258.0 392.6,1256.9 392.9,1269.3 393.3,1270.0 393.6,1262.7 393.9,1274.6 394.2,1269.7 394.5,1272.5 394.9,1267.7 395.2,1270.8 395.5,1262.8 395.8,1260.2 396.1,1273.7 396.5,1271.6 396.8,1267.4 397.1,1257.6 397.4,1255.6 397.7,1269.2 398.1,1268.2 398.4,1264.4 398.7,1276.4 399.0,1271.4 399.3,1273.4 399.7,1266.2 400.0,1281.2 400.3,1275.4 400.6,1286.0 400.9,1269.1 401.3,1269.6 401.6,1273.1 401.9,1261.1 402.2,1262.4 402.5,1274.7 402.9,1263.2 403.2,1260.3 403.5,1266.9 403.8,1274.0 404.1,1272.8 404.5,1268.4 404.8,1267.7 405.1,1271.5 405.4,1267.4 405.7,1283.7 406.1,1277.0 406.4,1265.5 406.7,1269.7 407.0,1272.6 407.3,1280.9 407.7,1266.9 408.0,1277.5 408.3,1266.6 408.6,1274.4 408.9,1265.0 409.3,1269.7 409.6,1275.8 409.9,1265.1 410.2,1270.8 410.5,1267.3 410.9,1274.2 411.2,1273.8 411.5,1259.0 411.8,1271.8 412.1,1273.0 412.5,1264.2 412.8,1266.5 413.1,1282.8 413.4,1277.2 413.7,1271.0 414.1,1274.9 414.4,1260.7 414.7,1266.4 415.0,1269.5 415.3,1262.8 415.7,1271.1 416.0,1270.1 416.3,1270.9 416.6,1273.8 416.9,1263.3 417.3,1266.9 417.6,1263.5 417.9,1271.4 418.2,1266.3 418.5,1275.9 418.9,1271.2 419.2,1269.6 419.5,1272.0 419.8,1277.7 420.1,1272.1 420.5,1268.4 420.8,1265.7 421.1,1268.4 421.4,1277.3 421.7,1268.5 422.1,1268.9 422.4,1271.5 422.7,1270.2 423.0,1277.9 423.3,1269.0 423.7,1266.1 424.0,1269.7 424.3,1268.7 424.6,1271.3 424.9,1275.2 425.3,1273.1 425.6,1266.7 425.9,1263.4 426.2,1265.3 426.5,1272.1 426.9,1273.4 427.2,1266.1 427.5,1269.3 427.8,1271.9 428.1,1265.9 428.5,1266.5 428.8,1267.3 429.1,1272.2 429.4,1263.6 429.7,1264.2 430.1,1271.6 430.4,1275.8 430.7,1276.7 431.0,1272.3 431.3,1275.1 431.7,1276.1 432.0,1269.5 432.3,1277.7 432.6,1266.1 432.9,1275.4 433.3,1278.9 433.6,1276.9 433.9,1264.4 434.2,1267.1 434.5,1265.7 434.9,1268.0 435.2,1266.2 435.5,1267.1 435.8,1280.4 436.1,1272.5 436.5,1276.5 436.8,1256.5 437.1,1276.5 437.4,1268.3 437.7,1273.6 438.1,1275.0 438.4,1271.5 438.7,1273.5 439.0,1273.3 439.3,1279.4 439.7,1270.8 440.0,1273.6 440.3,1265.4 440.6,1265.2 440.9,1273.4 441.3,1263.5 441.6,1269.6 441.9,1269.2 442.2,1267.2 442.5,1266.1 442.9,1259.2 443.2,1273.0 443.5,1268.4 443.8,1272.3 444.1,1268.8 444.5,1273.7 444.8,1276.4 445.1,1267.0 445.4,1280.1 445.7,1273.5 446.1,1269.0 446.4,1269.8 446.7,1269.5 447.0,1261.7 447.3,1274.8 447.7,1269.7 448.0,1267.4 448.3,1267.6 448.6,1265.7 448.9,1274.3 449.3,1269.1 449.6,1262.1 449.9,1269.6 450.2,1268.8 450.5,1270.0 450.9,1260.0 451.2,1268.0 451.5,1263.4 451.8,1271.9 452.1,1258.0 452.5,1269.6 452.8,1281.5 453.1,1266.2 453.4,1270.0 453.7,1275.1 454.1,1274.5 454.4,1282.2 454.7,1268.6 455.0,1282.4 455.3,1265.7 455.7,1280.7 456.0,1263.8 456.3,1274.9 456.6,1269.5 456.9,1276.4 457.3,1273.0 457.6,1256.2 457.9,1279.2 458.2,1270.8 458.5,1270.1 458.9,1270.1 459.2,1264.9 459.5,1272.8 459.8,1274.7 460.1,1269.0 460.5,1270.5 460.8,1268.4 461.1,1271.6 461.4,1279.0 461.7,1257.4 462.1,1270.9 462.4,1275.1 462.7,1284.7 463.0,1273.2 463.3,1272.0 463.7,1274.8 464.0,1271.9 464.3,1277.3 464.6,1275.5 464.9,1286.0 465.3,1282.0 465.6,1274.9 465.9,1273.6 466.2,1267.3 466.5,1273.8 466.9,1275.0 467.2,1272.3 467.5,1275.6 467.8,1273.6 468.1,1273.7 468.5,1259.7 468.8,1262.3 469.1,1283.3 469.4,1267.7 469.7,1270.5 470.1,1271.5 470.4,1272.2 470.7,1273.9 471.0,1274.6 471.3,1268.7 471.7,1268.2 472.0,1267.9 472.3,1267.6 472.6,1270.6 472.9,1273.9 473.3,1266.0 473.6,1267.1 473.9,1268.4 474.2,1269.2 474.5,1254.5 474.9,1265.6 475.2,1274.7 475.5,1268.3 475.8,1254.2 476.1,1277.0 476.5,1265.9 476.8,1268.0 477.1,1268.0 477.4,1261.1 477.7,1285.7 478.1,1267.7 478.4,1263.8 478.7,1264.2 479.0,1272.7 479.3,1257.9 479.7,1262.7 480.0,1264.2 480.3,1273.5 480.6,1270.9 480.9,1269.2 481.3,1265.4 481.6,1278.6 481.9,1284.7 482.2,1270.7 482.5,1275.7 482.9,1262.7 483.2,1266.5 483.5,1274.9 483.8,1265.5 484.1,1263.9 484.5,1276.8 484.8,1271.3 485.1,1277.3 485.4,1275.9 485.7,1281.4 486.1,1297.2 486.4,1284.1 486.7,1274.5 487.0,1285.6 487.3,1266.5 487.7,1272.4 488.0,1279.1 488.3,1272.5 488.6,1271.0 488.9,1268.1 489.3,1272.4 489.6,1273.9 489.9,1274.6 490.2,1274.3 490.5,1272.1 490.9,1266.6 491.2,1270.3 491.5,1261.4 491.8,1270.4 492.1,1266.0 492.5,1272.4 492.8,1268.4 493.1,1265.1 493.4,1266.0 493.7,1277.5 494.1,1263.1 494.4,1263.2 494.7,1275.5 495.0,1256.6 495.3,1261.9 495.7,1265.3 496.0,1258.9 496.3,1272.6 496.6,1267.5 496.9,1271.3 497.3,1272.2 497.6,1269.8 497.9,1276.2 498.2,1271.1 498.5,1273.3 498.9,1271.7 499.2,1267.5 499.5,1275.7 499.8,1272.1 500.1,1267.8 500.5,1260.7 500.8,1273.6 501.1,1265.5 501.4,1272.1 501.7,1275.1 502.1,1269.2 502.4,1274.6 502.7,1270.1 503.0,1271.2 503.3,1275.1 503.7,1271.0 504.0,1273.6 504.3,1271.9 504.6,1259.8 504.9,1277.9 505.3,1277.4 505.6,1267.3 505.9,1271.8 506.2,1272.5 506.5,1264.0 506.9,1266.4 507.2,1268.5 507.5,1267.1 507.8,1269.2 508.1,1279.9 508.5,1269.1 508.8,1269.6 509.1,1283.5 509.4,1276.8 509.7,1272.3 510.1,1268.6 510.4,1269.9 510.7,1272.8 511.0,1270.4 511.3,1274.1 511.7,1276.0 512.0,1262.2 512.3,1274.4 512.6,1271.3 512.9,1273.6 513.3,1268.9 513.6,1268.8 513.9,1268.0 514.2,1274.4 514.5,1268.6 514.9,1264.5 515.2,1276.7 515.5,1269.3 515.8,1262.5 516.1,1269.2 516.5,1272.5 516.8,1274.7 517.1,1272.6 517.4,1277.5 517.7,1278.2 518.1,1273.7 518.4,1274.0 518.7,1271.0 519.0,1269.3 519.3,1281.3 519.7,1270.0 520.0,1280.0 520.3,1261.4 520.6,1268.9 520.9,1270.3 521.3,1271.9 521.6,1267.5 521.9,1276.6 522.2,1263.4 522.5,1275.6 522.9,1263.6 523.2,1273.6 523.5,1265.7 523.8,1268.6 524.1,1265.9 524.5,1269.6 524.8,1280.5 525.1,1273.7 525.4,1271.6 525.7,1270.4 526.1,1276.7 526.4,1271.4 526.7,1274.4 527.0,1268.8 527.3,1274.3 527.7,1265.5 528.0,1281.1 528.3,1262.5 528.6,1272.8 528.9,1272.1 529.3,1274.7 529.6,1279.2 529.9,1270.7 530.2,1269.3 530.5,1274.7 530.9,1278.5 531.2,1273.4 531.5,1269.9 531.8,1267.4 532.1,1284.7 532.5,1275.2 532.8,1267.2 533.1,1274.5 533.4,1264.0 533.7,1269.1 534.1,1268.2 534.4,1275.2 534.7,1272.9 535.0,1266.9 535.3,1269.1 535.7,1277.6 536.0,1269.5 536.3,1270.0 536.6,1278.9 536.9,1277.2 537.3,1273.0 537.6,1275.9 537.9,1272.9 538.2,1259.2 538.5,1271.5 538.9,1271.8 539.2,1274.7 539.5,1264.3 539.8,1268.6 540.1,1265.2 540.5,1269.1 540.8,1265.5 541.1,1286.3 541.4,1270.9 541.7,1263.2 542.1,1264.2 542.4,1267.2 542.7,1270.0 543.0,1278.1 543.3,1255.5 543.7,1266.4 544.0,1265.6 544.3,1267.3 544.6,1266.7 544.9,1262.5 545.3,1283.4 545.6,1263.9 545.9,1269.1 546.2,1261.3 546.5,1266.6 546.9,1262.9 547.2,1274.6 547.5,1270.2 547.8,1257.8 548.1,1270.2 548.5,1274.7 548.8,1274.9 549.1,1273.1 549.4,1274.3 549.7,1266.5 550.1,1271.2 550.4,1274.7 550.7,1270.7 551.0,1272.8 551.3,1275.2 551.7,1270.1 552.0,1277.9 552.3,1268.2 552.6,1270.8 552.9,1269.2 553.3,1275.4 553.6,1273.7 553.9,1274.3 554.2,1278.2 554.5,1269.0 554.9,1276.3 555.2,1259.3 555.5,1271.5 555.8,1269.9 556.1,1285.0 556.5,1274.4 556.8,1273.3 557.1,1269.6 557.4,1279.7 557.7,1280.7 558.1,1271.5 558.4,1272.0 558.7,1274.7 559.0,1274.1 559.3,1265.8 559.7,1263.5 560.0,1272.0 560.3,1281.2 560.6,1276.3 560.9,1274.8 561.3,1269.1 561.6,1269.6 561.9,1280.2 562.2,1267.0 562.5,1274.4 562.9,1271.0 563.2,1268.7 563.5,1266.9 563.8,1287.3 564.1,1273.6 564.5,1275.2 564.8,1263.6 565.1,1283.8 565.4,1280.9 565.7,1268.7 566.1,1279.8 566.4,1273.5 566.7,1274.0 567.0,1275.3 567.3,1270.5 567.7,1274.2 568.0,1274.8 568.3,1276.6 568.6,1280.4 568.9,1280.5 569.3,1275.2 569.6,1277.2 569.9,1273.2 570.2,1279.7 570.5,1274.8 570.9,1286.0 571.2,1275.1 571.5,1269.4 571.8,1272.8 572.1,1274.2 572.5,1272.7 572.8,1267.3 573.1,1269.2 573.4,1274.6 573.7,1266.5 574.1,1279.1 574.4,1276.5 574.7,1284.0 575.0,1277.7 575.3,1271.7 575.7,1273.0 576.0,1282.2 576.3,1288.9 576.6,1272.8 576.9,1276.3 577.3,1280.2 577.6,1266.4 577.9,1262.4 578.2,1265.8 578.5,1266.0 578.9,1268.9 579.2,1269.4 579.5,1266.6 579.8,1264.5 580.1,1268.8 580.5,1267.7 580.8,1271.2 581.1,1263.3 581.4,1275.7 581.7,1267.6 582.1,1264.5 582.4,1263.3 582.7,1274.9 583.0,1268.2 583.3,1273.6 583.7,1268.7 584.0,1273.8 584.3,1275.5 584.6,1269.4 584.9,1269.5 585.3,1269.0 585.6,1269.5 585.9,1271.0 586.2,1268.1 586.5,1266.0 586.9,1270.0 587.2,1268.5 587.5,1277.5 587.8,1278.6 588.1,1272.2 588.5,1253.9 588.8,1271.7 589.1,1268.7 589.4,1268.9 589.7,1260.3 590.1,1271.8 590.4,1275.6 590.7,1276.3 591.0,1269.9 591.3,1272.0 591.7,1264.7 592.0,1276.3 592.3,1266.9 592.6,1274.2 592.9,1278.5 593.3,1279.3 593.6,1272.3 593.9,1282.1 594.2,1266.3 594.5,1276.0 594.9,1278.6 595.2,1266.5 595.5,1274.0 595.8,1274.6 596.1,1266.9 596.5,1274.4 596.8,1269.8 597.1,1276.4 597.4,1270.2 597.7,1268.0 598.1,1277.7 598.4,1271.8 598.7,1277.3 599.0,1279.5 599.3,1276.7 599.7,1277.0 600.0,1286.5 600.3,1275.9 600.6,1275.8 600.9,1276.9 601.3,1273.9 601.6,1269.2 601.9,1275.6 602.2,1278.8 602.5,1282.8 602.9,1279.1 603.2,1283.9 603.5,1269.4 603.8,1277.9 604.1,1299.7 604.5,1272.7 604.8,1270.9 605.1,1273.4 605.4,1285.6 605.7,1274.5 606.1,1279.7 606.4,1277.7 606.7,1269.6 607.0,1279.7 607.3,1271.5 607.7,1265.7 608.0,1270.6 608.3,1269.3 608.6,1261.7 608.9,1269.4 609.3,1268.9 609.6,1274.7 609.9,1273.8 610.2,1273.0 610.5,1273.3 610.9,1271.0 611.2,1275.2 611.5,1289.1 611.8,1276.4 612.1,1272.2 612.5,1276.3 612.8,1271.5 613.1,1276.0 613.4,1277.3 613.7,1278.0 614.1,1268.7 614.4,1277.5 614.7,1278.6 615.0,1281.7 615.3,1271.5 615.7,1289.1 616.0,1278.7 616.3,1278.6 616.6,1280.8 616.9,1279.3 617.3,1278.9 617.6,1266.2 617.9,1277.1 618.2,1269.1 618.5,1280.6 618.9,1274.0 619.2,1280.0 619.5,1266.5 619.8,1271.9 620.1,1271.8 620.5,1273.4 620.8,1278.1 621.1,1280.0 621.4,1278.4 621.7,1268.1 622.1,1267.5 622.4,1276.7 622.7,1276.4 623.0,1266.8 623.3,1267.2 623.7,1268.7 624.0,1275.2 624.3,1265.8 624.6,1278.4 624.9,1265.7 625.3,1269.4 625.6,1280.2 625.9,1270.5 626.2,1271.9 626.5,1271.6 626.9,1272.9 627.2,1268.0 627.5,1268.1 627.8,1292.1 628.1,1269.3 628.5,1267.4 628.8,1264.2 629.1,1267.3 629.4,1259.1 629.7,1262.8 630.1,1269.5 630.4,1263.3 630.7,1273.0 631.0,1272.8 631.3,1270.8 631.7,1263.8 632.0,1274.1 632.3,1272.4 632.6,1267.4 632.9,1275.3 633.3,1272.4 633.6,1275.0 633.9,1275.2 634.2,1276.0 634.5,1274.2 634.9,1276.4 635.2,1274.2 635.5,1278.8 635.8,1267.1 636.1,1274.4 636.5,1271.7 636.8,1271.2 637.1,1280.7 637.4,1276.6 637.7,1273.0 638.1,1274.3 638.4,1291.3 638.7,1277.1 639.0,1275.6 639.3,1276.1 639.7,1270.7 640.0,1280.5 640.3,1274.4 640.6,1263.2 640.9,1280.6 641.3,1271.7 641.6,1272.5 641.9,1273.5 642.2,1273.1 642.5,1275.6 642.9,1272.2 643.2,1272.5 643.5,1273.5 643.8,1269.8 644.1,1275.1 644.5,1277.3 644.8,1278.2 645.1,1277.6 645.4,1277.0 645.7,1264.3 646.1,1269.2 646.4,1279.1 646.7,1277.8 647.0,1277.0 647.3,1282.2 647.7,1274.1 648.0,1274.9 648.3,1280.3 648.6,1275.5 648.9,1278.8 649.3,1273.6 649.6,1271.8 649.9,1262.1 650.2,1278.0 650.5,1273.6 650.9,1250.1 651.2,1276.0 651.5,1272.1 651.8,1273.0 652.1,1273.9 652.5,1272.7 652.8,1267.1 653.1,1271.1 653.4,1272.5 653.7,1269.3 654.1,1268.6 654.4,1269.6 654.7,1266.0 655.0,1270.8 655.3,1264.2 655.7,1254.4 656.0,1265.9 656.3,1262.5 656.6,1269.3 656.9,1258.3 657.3,1258.6 657.6,1261.1 657.9,1255.6 658.2,1255.3 658.5,1247.8 658.9,1254.6 659.2,1254.2 659.5,1253.1 659.8,1244.0 660.1,1242.6 660.5,1240.9 660.8,1235.1 661.1,1242.5 661.4,1225.4 661.7,1227.6 662.1,1218.8 662.4,1220.9 662.7,1215.7 663.0,1221.5 663.3,1220.6 663.7,1227.0 664.0,1229.6 664.3,1228.6 664.6,1225.7 664.9,1234.7 665.3,1234.8 665.6,1233.4 665.9,1242.2 666.2,1247.7 666.5,1252.4 666.9,1252.6 667.2,1248.9 667.5,1246.4 667.8,1257.1 668.1,1256.5 668.5,1246.2 668.8,1255.9 669.1,1256.2 669.4,1251.9 669.7,1244.1 670.1,1254.0 670.4,1259.5 670.7,1262.4 671.0,1274.4 671.3,1266.9 671.7,1262.3 672.0,1264.1 672.3,1264.6 672.6,1270.6 672.9,1267.5 673.3,1272.6 673.6,1268.0 673.9,1265.8 674.2,1263.5 674.5,1264.0 674.9,1274.7 675.2,1269.5 675.5,1259.6 675.8,1265.9 676.1,1267.1 676.5,1268.8 676.8,1272.7 677.1,1276.1 677.4,1274.5 677.7,1268.6 678.1,1271.2 678.4,1270.0 678.7,1273.1 679.0,1265.3 679.3,1278.1 679.7,1278.2 680.0,1278.2 680.3,1277.2 680.6,1263.6 680.9,1272.8 681.3,1288.0 681.6,1271.4 681.9,1270.0 682.2,1280.1 682.5,1269.2 682.9,1273.7 683.2,1278.0 683.5,1276.7 683.8,1274.9 684.1,1270.0 684.5,1272.9 684.8,1276.9 685.1,1274.7 685.4,1273.8 685.7,1275.0 686.1,1278.4 686.4,1275.0 686.7,1268.6 687.0,1275.3 687.3,1271.6 687.7,1268.0 688.0,1274.9 688.3,1275.2 688.6,1274.3 688.9,1272.3 689.3,1278.1 689.6,1267.3 689.9,1264.9 690.2,1270.7 690.5,1267.9 690.9,1265.9 691.2,1274.4 691.5,1274.6 691.8,1271.1 692.1,1264.1 692.5,1271.9 692.8,1270.6 693.1,1279.3 693.4,1272.1 693.7,1266.5 694.1,1269.3 694.4,1272.8 694.7,1273.5 695.0,1269.6 695.3,1267.7 695.7,1262.9 696.0,1283.0 696.3,1261.8 696.6,1276.5 696.9,1268.5 697.3,1273.4 697.6,1277.5 697.9,1273.7 698.2,1276.6 698.5,1265.6 698.9,1266.4 699.2,1269.9 699.5,1271.8 699.8,1270.4 700.1,1271.9 700.5,1266.1 700.8,1267.8 701.1,1276.1 701.4,1268.5 701.7,1266.2 702.1,1277.0 702.4,1269.6 702.7,1283.6 703.0,1273.2 703.3,1277.8 703.7,1282.1 704.0,1277.1 704.3,1277.8 704.6,1266.6 704.9,1269.7 705.3,1275.4 705.6,1250.8 705.9,1278.3 706.2,1270.7 706.5,1269.4 706.9,1266.1 707.2,1273.8 707.5,1270.7 707.8,1270.6 708.1,1272.7 708.5,1265.0 708.8,1270.5 709.1,1278.1 709.4,1265.1 709.7,1271.6 710.1,1276.8 710.4,1269.1 710.7,1270.2 711.0,1280.4 711.3,1270.6 711.7,1276.3 712.0,1269.4 712.3,1268.8 712.6,1274.9 712.9,1275.7 713.3,1276.4 713.6,1270.4 713.9,1274.6 714.2,1275.5 714.5,1270.7 714.9,1251.8 715.2,1276.2 715.5,1267.7 715.8,1272.4 716.1,1270.9 716.5,1261.9 716.8,1264.9 717.1,1269.4 717.4,1262.8 717.7,1262.5 718.1,1265.4 718.4,1268.3 718.7,1260.7 719.0,1275.9 719.3,1276.2 719.7,1270.1 720.0,1262.3 720.3,1272.2 720.6,1268.0 720.9,1269.7 721.3,1262.2 721.6,1297.8 721.9,1273.5 722.2,1251.6 722.5,1262.7 722.9,1274.0 723.2,1273.7 723.5,1272.6 723.8,1270.6 724.1,1278.8 724.5,1270.8 724.8,1263.0 725.1,1274.2 725.4,1264.0 725.7,1270.5 726.1,1277.2 726.4,1264.0 726.7,1269.2 727.0,1264.4 727.3,1268.8 727.7,1267.6 728.0,1262.0 728.3,1259.1 728.6,1258.6 728.9,1266.0 729.3,1264.6 729.6,1268.4 729.9,1272.9 730.2,1271.4 730.5,1269.0 730.9,1275.9 731.2,1263.6 731.5,1262.1 731.8,1269.4 732.1,1263.6 732.5,1259.7 732.8,1261.0 733.1,1265.0 733.4,1277.6 733.7,1264.9 734.1,1276.5 734.4,1270.6 734.7,1264.3 735.0,1273.8 735.3,1269.1 735.7,1274.4 736.0,1261.3 736.3,1283.1 736.6,1270.1 736.9,1264.0 737.3,1273.8 737.6,1273.3 737.9,1268.3 738.2,1270.9 738.5,1272.3 738.9,1275.5 739.2,1268.6 739.5,1279.1 739.8,1267.0 740.1,1275.3 740.5,1271.3 740.8,1264.5 741.1,1271.5 741.4,1270.5 741.7,1269.0 742.1,1265.8 742.4,1278.0 742.7,1270.0 743.0,1267.7 743.3,1274.4 743.7,1278.1 744.0,1274.9 744.3,1279.9 744.6,1271.5 744.9,1275.7 745.3,1279.6 745.6,1268.1 745.9,1269.2 746.2,1274.3 746.5,1270.4 746.9,1277.6 747.2,1271.5 747.5,1270.2 747.8,1276.3 748.1,1274.1 748.5,1274.3 748.8,1269.4 749.1,1273.4 749.4,1261.3 749.7,1269.0 750.1,1276.8 750.4,1274.3 750.7,1278.5 751.0,1279.3 751.3,1276.1 751.7,1275.2 752.0,1266.6 752.3,1277.5 752.6,1270.6 752.9,1276.9 753.3,1279.0 753.6,1271.1 753.9,1273.5 754.2,1274.4 754.5,1274.4 754.9,1274.6 755.2,1262.9 755.5,1265.9 755.8,1267.9 756.1,1278.3 756.5,1278.3 756.8,1275.4 757.1,1271.8 757.4,1271.1 757.7,1278.8 758.1,1264.6 758.4,1278.9 758.7,1275.8 759.0,1274.7 759.3,1274.4 759.7,1275.7 760.0,1278.8 760.3,1284.1 760.6,1277.6 760.9,1282.2 761.3,1273.3 761.6,1276.7 761.9,1273.0 762.2,1282.5 762.5,1287.3 762.9,1283.4 763.2,1271.4 763.5,1272.8 763.8,1266.4 764.1,1270.6 764.5,1277.2 764.8,1277.3 765.1,1270.2 765.4,1273.8 765.7,1260.7 766.1,1268.5 766.4,1278.3 766.7,1272.9 767.0,1269.0 767.3,1280.8 767.7,1274.9 768.0,1270.4 768.3,1263.3 768.6,1286.7 768.9,1278.2 769.3,1268.5 769.6,1269.5 769.9,1265.3 770.2,1261.4 770.5,1268.0 770.9,1272.0 771.2,1280.2 771.5,1268.4 771.8,1270.3 772.1,1274.2 772.5,1269.5 772.8,1271.4 773.1,1274.2 773.4,1259.5 773.7,1267.2 774.1,1271.7 774.4,1279.8 774.7,1267.6 775.0,1281.3 775.3,1275.0 775.7,1268.3 776.0,1283.3 776.3,1276.0 776.6,1271.0 776.9,1280.0 777.3,1279.8 777.6,1270.3 777.9,1277.8 778.2,1277.1 778.5,1279.7 778.9,1276.3 779.2,1275.6 779.5,1274.6 779.8,1282.8 780.1,1279.3 780.5,1276.2 780.8,1277.9 781.1,1278.9 781.4,1269.3 781.7,1267.3 782.1,1274.8 782.4,1275.8 782.7,1280.6 783.0,1276.9 783.3,1273.5 783.7,1284.6 784.0,1275.1 784.3,1284.2 784.6,1292.7 784.9,1277.0 785.3,1270.6 785.6,1271.2 785.9,1272.8 786.2,1273.7 786.5,1278.0 786.9,1270.9 787.2,1275.9 787.5,1279.7 787.8,1278.0 788.1,1269.9 788.5,1273.0 788.8,1281.1 789.1,1273.3 789.4,1279.8 789.7,1278.6 790.1,1268.9 790.4,1274.2 790.7,1274.8 791.0,1270.6 791.3,1275.2 791.7,1283.0 792.0,1265.6 792.3,1271.6 792.6,1271.0 792.9,1285.8 793.3,1268.3 793.6,1272.2 793.9,1271.6 794.2,1272.9 794.5,1272.2 794.9,1273.4 795.2,1271.7 795.5,1277.4 795.8,1275.9 796.1,1264.2 796.5,1280.9 796.8,1267.0 797.1,1276.0 797.4,1271.3 797.7,1274.3 798.1,1266.1 798.4,1270.3 798.7,1270.3 799.0,1270.6 799.3,1278.5 799.7,1280.3 800.0,1271.4 800.3,1270.8 800.6,1276.0 800.9,1276.1 801.3,1266.8 801.6,1281.6 801.9,1271.9 802.2,1270.3 802.5,1279.3 802.9,1265.5 803.2,1269.9 803.5,1274.9 803.8,1268.0 804.1,1273.4 804.5,1276.2 804.8,1280.7 805.1,1266.9 805.4,1270.7 805.7,1276.8 806.1,1270.4 806.4,1277.1 806.7,1272.7 807.0,1273.1 807.3,1265.1 807.7,1275.7 808.0,1273.3 808.3,1272.8 808.6,1273.0 808.9,1275.1 809.3,1260.7 809.6,1261.8 809.9,1271.8 810.2,1268.2 810.5,1277.3 810.9,1266.8 811.2,1263.5 811.5,1274.2 811.8,1268.9 812.1,1271.4 812.5,1267.1 812.8,1265.9 813.1,1269.9 813.4,1266.6 813.7,1269.5 814.1,1279.3 814.4,1270.0 814.7,1266.7 815.0,1272.5 815.3,1274.9 815.7,1271.1 816.0,1271.6 816.3,1260.5 816.6,1270.0 816.9,1275.9 817.3,1283.7 817.6,1266.6 817.9,1272.8 818.2,1284.8 818.5,1264.9 818.9,1272.9 819.2,1269.1 819.5,1276.1 819.8,1267.8 820.1,1274.6 820.5,1261.4 820.8,1273.6 821.1,1266.9 821.4,1275.0 821.7,1271.6 822.1,1270.4 822.4,1270.9 822.7,1271.9 823.0,1280.3 823.3,1268.4 823.7,1271.1 824.0,1277.7 824.3,1279.4 824.6,1281.6 824.9,1280.7 825.3,1271.0 825.6,1288.0 825.9,1270.5 826.2,1277.6 826.5,1277.2 826.9,1268.0 827.2,1276.5 827.5,1274.5 827.8,1269.8 828.1,1276.4 828.5,1272.0 828.8,1276.0 829.1,1274.5 829.4,1272.5 829.7,1268.9 830.1,1276.1 830.4,1284.0 830.7,1269.3 831.0,1272.5 831.3,1255.1 831.7,1280.3 832.0,1275.6 832.3,1281.3 832.6,1272.3 832.9,1273.9 833.3,1282.7 833.6,1265.5 833.9,1263.5 834.2,1271.1 834.5,1277.6 834.9,1259.1 835.2,1260.5 835.5,1275.0 835.8,1278.8 836.1,1269.4 836.5,1281.3 836.8,1273.1 837.1,1275.8 837.4,1276.4 837.7,1275.4 838.1,1278.0 838.4,1272.8 838.7,1267.7 839.0,1268.5 839.3,1265.0 839.7,1271.7 840.0,1275.0 840.3,1275.3 840.6,1276.6 840.9,1278.3 841.3,1276.6 841.6,1276.1 841.9,1273.9 842.2,1268.6 842.5,1279.7 842.9,1271.1 843.2,1272.5 843.5,1277.1 843.8,1269.5 844.1,1272.8 844.5,1270.9 844.8,1273.7 845.1,1268.3 845.4,1266.4 845.7,1266.4 846.1,1273.7 846.4,1281.9 846.7,1280.9 847.0,1277.9 847.3,1266.7 847.7,1259.4 848.0,1276.0 848.3,1273.0 848.6,1271.6 848.9,1269.0 849.3,1277.9 849.6,1280.5 849.9,1267.2 850.2,1273.4 850.5,1269.7 850.9,1273.8 851.2,1268.4 851.5,1269.8 851.8,1271.3 852.1,1273.8 852.5,1266.2 852.8,1273.6 853.1,1274.2 853.4,1270.5 853.7,1274.8 854.1,1277.0 854.4,1273.2 854.7,1276.1 855.0,1272.3 855.3,1279.9 855.7,1281.7 856.0,1267.4 856.3,1264.0 856.6,1279.8 856.9,1270.7 857.3,1274.1 857.6,1269.2 857.9,1275.6 858.2,1271.9 858.5,1274.7 858.9,1265.7 859.2,1274.7 859.5,1274.7 859.8,1270.2 860.1,1259.4 860.5,1269.5 860.8,1265.1 861.1,1272.7 861.4,1268.2 861.7,1265.1 862.1,1269.6 862.4,1262.2 862.7,1263.5 863.0,1267.5 863.3,1263.6 863.7,1263.6 864.0,1273.1 864.3,1255.8 864.6,1253.0 864.9,1265.5 865.3,1257.3 865.6,1259.6 865.9,1253.2 866.2,1265.6 866.5,1257.3 866.9,1252.8 867.2,1247.3 867.5,1248.6 867.8,1249.2 868.1,1243.9 868.5,1253.5 868.8,1247.4 869.1,1247.8 869.4,1254.4 869.7,1251.0 870.1,1249.4 870.4,1252.5 870.7,1245.7 871.0,1250.5 871.3,1252.6 871.7,1251.0 872.0,1240.7 872.3,1248.3 872.6,1247.0 872.9,1254.8 873.3,1245.7 873.6,1241.3 873.9,1243.0 874.2,1248.9 874.5,1240.6 874.9,1254.7 875.2,1243.9 875.5,1242.3 875.8,1241.0 876.1,1254.9 876.5,1248.0 876.8,1240.5 877.1,1258.1 877.4,1244.7 877.7,1246.1 878.1,1243.6 878.4,1248.4 878.7,1252.5 879.0,1249.8 879.3,1254.3 879.7,1253.0 880.0,1255.3 880.3,1253.5 880.6,1257.8 880.9,1262.0 881.3,1244.2 881.6,1260.1 881.9,1259.8 882.2,1237.2 882.5,1257.8 882.9,1261.0 883.2,1252.5 883.5,1260.5 883.8,1259.0 884.1,1262.5 884.5,1255.4 884.8,1260.7 885.1,1251.3 885.4,1269.8 885.7,1258.3 886.1,1272.3 886.4,1268.3 886.7,1262.0 887.0,1267.6 887.3,1276.3 887.7,1265.8 888.0,1269.8 888.3,1273.5 888.6,1273.2 888.9,1267.6 889.3,1264.7 889.6,1259.1 889.9,1267.4 890.2,1265.4 890.5,1264.9 890.9,1273.0 891.2,1261.9 891.5,1273.9 891.8,1261.8 892.1,1268.5 892.5,1274.8 892.8,1272.3 893.1,1266.4 893.4,1272.9 893.7,1271.8 894.1,1271.3 894.4,1273.7 894.7,1273.6 895.0,1274.0 895.3,1272.8 895.7,1269.6 896.0,1273.1 896.3,1276.0 896.6,1271.3 896.9,1272.1 897.3,1279.8 897.6,1275.1 897.9,1274.2 898.2,1271.0 898.5,1283.8 898.9,1277.0 899.2,1277.3 899.5,1273.0 899.8,1273.1 900.1,1273.2 900.5,1272.1 900.8,1270.2 901.1,1266.5 901.4,1275.4 901.7,1283.7 902.1,1279.3 902.4,1279.8 902.7,1272.0 903.0,1275.9 903.3,1277.9 903.7,1271.3 904.0,1283.6 904.3,1275.0 904.6,1269.4 904.9,1268.9 905.3,1275.1 905.6,1274.4 905.9,1266.4 906.2,1272.9 906.5,1266.9 906.9,1268.5 907.2,1270.0 907.5,1273.3 907.8,1275.9 908.1,1263.7 908.5,1257.2 908.8,1273.8 909.1,1280.1 909.4,1271.9 909.7,1280.4 910.1,1264.9 910.4,1268.3 910.7,1280.1 911.0,1281.6 911.3,1276.1 911.7,1284.5 912.0,1273.9 912.3,1275.4 912.6,1276.7 912.9,1274.0 913.3,1276.8 913.6,1276.1 913.9,1266.8 914.2,1280.7 914.5,1264.3 914.9,1272.2 915.2,1283.9 915.5,1273.4 915.8,1275.6 916.1,1272.0 916.5,1266.2 916.8,1273.2 917.1,1275.6 917.4,1269.0 917.7,1272.8 918.1,1273.3 918.4,1270.4 918.7,1274.8 919.0,1273.4 919.3,1275.0 919.7,1269.0 920.0,1277.5 920.3,1274.8 920.6,1277.9 920.9,1274.3 921.3,1270.7 921.6,1272.2 921.9,1273.0 922.2,1268.3 922.5,1264.8 922.9,1266.2 923.2,1262.7 923.5,1262.6 923.8,1264.7 924.1,1264.7 924.5,1276.8 924.8,1272.3 925.1,1275.3 925.4,1269.4 925.7,1264.8 926.1,1270.6 926.4,1269.9 926.7,1272.4 927.0,1265.7 927.3,1281.0 927.7,1270.5 928.0,1276.9 928.3,1282.8 928.6,1264.8 928.9,1273.3 929.3,1266.8 929.6,1268.0 929.9,1278.2 930.2,1266.5 930.5,1266.8 930.9,1264.1 931.2,1276.5 931.5,1268.3 931.8,1264.2 932.1,1280.7 932.5,1262.5 932.8,1280.9 933.1,1262.2 933.4,1272.6 933.7,1275.2 934.1,1268.7 934.4,1265.8 934.7,1270.9 935.0,1277.7 935.3,1273.5 935.7,1272.9 936.0,1271.6 936.3,1268.1 936.6,1263.7 936.9,1266.0 937.3,1281.6 937.6,1261.6 937.9,1271.8 938.2,1255.5 938.5,1270.6 938.9,1267.9 939.2,1277.7 939.5,1263.6 939.8,1279.2 940.1,1272.5 940.5,1270.5 940.8,1265.6 941.1,1265.8 941.4,1273.0 941.7,1275.4 942.1,1271.3 942.4,1259.4 942.7,1277.3 943.0,1279.8 943.3,1272.0 943.7,1270.0 944.0,1266.9 944.3,1266.5 944.6,1266.0 944.9,1271.2 945.3,1259.9 945.6,1261.4 945.9,1266.7 946.2,1269.7 946.5,1266.4 946.9,1270.6 947.2,1265.7 947.5,1256.8 947.8,1258.7 948.1,1263.6 948.5,1261.7 948.8,1258.2 949.1,1259.6 949.4,1265.1 949.7,1262.0 950.1,1261.5 950.4,1254.6 950.7,1252.6 951.0,1253.5 951.3,1246.2 951.7,1252.5 952.0,1248.8 952.3,1252.1 952.6,1254.9 952.9,1238.9 953.3,1242.0 953.6,1243.9 953.9,1239.1 954.2,1225.8 954.5,1238.1 954.9,1234.3 955.2,1237.1 955.5,1237.3 955.8,1235.0 956.1,1238.6 956.5,1242.8 956.8,1246.7 957.1,1241.0 957.4,1240.3 957.7,1237.6 958.1,1234.2 958.4,1248.9 958.7,1247.7 959.0,1246.3 959.3,1238.0 959.7,1256.9 960.0,1239.7 960.3,1244.6 960.6,1250.6 960.9,1249.1 961.3,1251.9 961.6,1254.2 961.9,1253.4 962.2,1253.1 962.5,1254.3 962.9,1254.1 963.2,1259.8 963.5,1265.7 963.8,1259.1 964.1,1248.7 964.5,1263.6 964.8,1259.3 965.1,1254.9 965.4,1271.3 965.7,1263.7 966.1,1254.8 966.4,1253.5 966.7,1267.9 967.0,1257.6 967.3,1267.2 967.7,1267.0 968.0,1266.3 968.3,1257.6 968.6,1271.8 968.9,1275.4 969.3,1270.3 969.6,1272.4 969.9,1270.5 970.2,1275.4 970.5,1276.8 970.9,1266.1 971.2,1266.1 971.5,1272.1 971.8,1267.1 972.1,1271.0 972.5,1271.2 972.8,1270.7 973.1,1273.9 973.4,1264.6 973.7,1268.4 974.1,1264.5 974.4,1271.3 974.7,1268.9 975.0,1270.0 975.3,1264.9 975.7,1267.8 976.0,1270.8 976.3,1279.5 976.6,1268.3 976.9,1274.7 977.3,1274.1 977.6,1269.1 977.9,1276.1 978.2,1283.8 978.5,1282.9 978.9,1271.6 979.2,1270.9 979.5,1280.9 979.8,1277.2 980.1,1275.4 980.5,1273.4 980.8,1269.3 981.1,1270.4 981.4,1275.4 981.7,1273.7 982.1,1276.5 982.4,1277.5 982.7,1286.3 983.0,1264.8 983.3,1260.4 983.7,1280.4 984.0,1276.4 984.3,1274.0 984.6,1276.1 984.9,1276.2 985.3,1271.7 985.6,1281.4 985.9,1277.2 986.2,1272.2 986.5,1270.5 986.9,1276.4 987.2,1269.1 987.5,1273.8 987.8,1272.7 988.1,1266.6" stroke="#f00" stroke-width="1.3" fill="none" stroke-linejoin="round"/>
<polyline points="65.9,1535.3 66.2,1541.5 66.5,1536.5 66.9,1534.7 67.2,1536.0 67.5,1534.5 67.8,1536.5 68.1,1533.4 68.5,1535.8 68.8,1538.5 69.1,1539.8 69.4,1536.2 69.7,1533.4 70.1,1530.6 70.4,1534.4 70.7,1539.7 71.0,1539.7 71.3,1543.2 71.7,1538.8 72.0,1535.8 72.3,1538.0 72.6,1536.9 72.9,1542.4 73.3,1541.4 73.6,1534.3 73.9,1538.4 74.2,1532.5 74.5,1539.0 74.9,1539.7 75.2,1534.0 75.5,1533.7 75.8,1534.9 76.1,1536.1 76.5,1536.2 76.8,1533.9 77.1,1539.2 77.4,1536.6 77.7,1537.5 78.1,1534.0 78.4,1537.6 78.7,1540.3 79.0,1529.8 79.3,1539.0 79.7,1537.0 80.0,1540.0 80.3,1533.8 80.6,1539.5 80.9,1537.0 81.3,1538.4 81.6,1539.9 81.9,1534.6 82.2,1542.7 82.5,1538.4 82.9,1542.2 83.2,1537.8 83.5,1541.3 83.8,1538.6 84.1,1534.8 84.5,1538.3 84.8,1538.9 85.1,1532.4 85.4,1536.7 85.7,1540.2 86.1,1536.3 86.4,1536.9 86.7,1543.3 87.0,1536.5 87.3,1547.7 87.7,1539.7 88.0,1538.9 88.3,1540.0 88.6,1536.1 88.9,1532.5 89.3,1538.0 89.6,1529.4 89.9,1538.2 90.2,1537.0 90.5,1537.0 90.9,1543.4 91.2,1532.2 91.5,1536.5 91.8,1536.5 92.1,1534.3 92.5,1539.9 92.8,1537.9 93.1,1534.6 93.4,1541.5 93.7,1539.0 94.1,1537.3 94.4,1539.6 94.7,1536.9 95.0,1540.2 95.3,1538.6 95.7,1533.7 96.0,1538.4 96.3,1539.8 96.6,1536.5 96.9,1535.5 97.3,1540.6 97.6,1535.6 97.9,1542.2 98.2,1534.9 98.5,1536.4 98.9,1538.7 99.2,1542.6 99.5,1535.7 99.8,1537.0 100.1,1541.6 100.5,1542.8 100.8,1544.0 101.1,1535.3 101.4,1535.4 101.7,1542.2 102.1,1537.7 102.4,1533.5 102.7,1543.6 103.0,1534.8 103.3,1539.7 103.7,1537.4 104.0,1536.8 104.3,1537.5 104.6,1538.2 104.9,1536.7 105.3,1534.1 105.6,1538.8 105.9,1535.8 106.2,1541.1 106.5,1537.8 106.9,1532.1 107.2,1533.2 107.5,1532.3 107.8,1539.7 108.1,1544.7 108.5,1541.9 108.8,1530.9 109.1,1534.0 109.4,1541.6 109.7,1539.8 110.1,1534.3 110.4,1544.0 110.7,1536.2 111.0,1540.2 111.3,1539.1 111.7,1538.4 112.0,1540.8 112.3,1540.3 112.6,1536.1 112.9,1535.0 113.3,1535.0 113.6,1540.3 113.9,1541.3 114.2,1537.2 114.5,1544.3 114.9,1534.5 115.2,1539.1 115.5,1538.6 115.8,1538.7 116.1,1531.7 116.5,1533.0 116.8,1538.6 117.1,1530.1 117.4,1536.2 117.7,1537.5 118.1,1539.8 118.4,1537.3 118.7,1534.1 119.0,1541.1 119.3,1528.8 119.7,1533.5 120.0,1533.9 120.3,1538.9 120.6,1539.3 120.9,1536.2 121.3,1538.3 121.6,1530.1 121.9,1536.0 122.2,1535.3 122.5,1538.7 122.9,1537.7 123.2,1543.0 123.5,1536.1 123.8,1536.4 124.1,1538.6 124.5,1538.5 124.8,1538.9 125.1,1536.4 125.4,1531.7 125.7,1534.3 126.1,1526.9 126.4,1529.8 126.7,1533.3 127.0,1533.1 127.3,1529.9 127.7,1525.0 128.0,1531.3 128.3,1529.4 128.6,1534.4 128.9,1531.8 129.3,1532.6 129.6,1528.8 129.9,1525.6 130.2,1529.0 130.5,1534.3 130.9,1522.9 131.2,1528.2 131.5,1534.3 131.8,1525.3 132.1,1527.0 132.5,1526.3 132.8,1526.0 133.1,1518.1 133.4,1512.7 133.7,1511.8 134.1,1514.0 134.4,1512.0 134.7,1500.2 135.0,1495.7 135.3,1490.0 135.7,1491.3 136.0,1493.4 136.3,1489.3 136.6,1498.2 136.9,1492.8 137.3,1498.1 137.6,1504.0 137.9,1519.3 138.2,1518.2 138.5,1513.6 138.9,1523.0 139.2,1524.1 139.5,1520.1 139.8,1530.6 140.1,1525.5 140.5,1532.2 140.8,1535.1 141.1,1530.5 141.4,1533.7 141.7,1531.2 142.1,1522.7 142.4,1534.4 142.7,1533.8 143.0,1535.2 143.3,1535.9 143.7,1529.2 144.0,1532.2 144.3,1533.6 144.6,1535.8 144.9,1536.7 145.3,1530.6 145.6,1534.3 145.9,1530.6 146.2,1537.9 146.5,1531.9 146.9,1541.0 147.2,1537.6 147.5,1539.9 147.8,1536.1 148.1,1532.6 148.5,1535.0 148.8,1534.5 149.1,1539.3 149.4,1537.4 149.7,1536.7 150.1,1539.1 150.4,1538.6 150.7,1535.4 151.0,1531.3 151.3,1539.5 151.7,1535.9 152.0,1543.2 152.3,1543.5 152.6,1533.8 152.9,1535.0 153.3,1536.9 153.6,1538.4 153.9,1538.8 154.2,1534.1 154.5,1538.0 154.9,1540.4 155.2,1540.4 155.5,1535.8 155.8,1538.1 156.1,1540.1 156.5,1544.4 156.8,1542.7 157.1,1538.9 157.4,1538.2 157.7,1537.6 158.1,1540.5 158.4,1535.7 158.7,1540.5 159.0,1531.6 159.3,1543.7 159.7,1544.4 160.0,1542.1 160.3,1540.3 160.6,1539.2 160.9,1545.4 161.3,1536.4 161.6,1540.5 161.9,1540.4 162.2,1535.4 162.5,1542.4 162.9,1538.1 163.2,1540.8 163.5,1540.4 163.8,1541.0 164.1,1538.0 164.5,1537.9 164.8,1545.7 165.1,1537.5 165.4,1531.1 165.7,1534.7 166.1,1537.0 166.4,1521.7 166.7,1546.9 167.0,1535.3 167.3,1534.7 167.7,1537.0 168.0,1552.6 168.3,1538.0 168.6,1537.5 168.9,1545.2 169.3,1537.9 169.6,1536.0 169.9,1537.5 170.2,1534.3 170.5,1535.3 170.9,1538.0 171.2,1539.1 171.5,1541.7 171.8,1544.5 172.1,1538.9 172.5,1533.8 172.8,1546.1 173.1,1537.8 173.4,1545.0 173.7,1538.0 174.1,1535.8 174.4,1544.9 174.7,1535.5 175.0,1531.7 175.3,1540.2 175.7,1537.7 176.0,1532.8 176.3,1539.8 176.6,1539.5 176.9,1538.0 177.3,1535.7 177.6,1533.2 177.9,1538.1 178.2,1540.3 178.5,1537.8 178.9,1535.5 179.2,1540.8 179.5,1536.6 179.8,1547.8 180.1,1539.9 180.5,1533.4 180.8,1538.9 181.1,1541.4 181.4,1544.0 181.7,1540.6 182.1,1538.5 182.4,1539.3 182.7,1537.3 183.0,1526.6 183.3,1540.1 183.7,1542.5 184.0,1543.8 184.3,1541.5 184.6,1540.9 184.9,1539.3 185.3,1542.1 185.6,1541.9 185.9,1542.0 186.2,1537.5 186.5,1530.8 186.9,1541.7 187.2,1538.2 187.5,1539.7 187.8,1537.7 188.1,1538.5 188.5,1557.5 188.8,1548.8 189.1,1540.1 189.4,1540.7 189.7,1542.0 190.1,1547.8 190.4,1534.3 190.7,1538.3 191.0,1536.7 191.3,1537.5 191.7,1542.6 192.0,1546.4 192.3,1537.1 192.6,1537.3 192.9,1537.2 193.3,1546.5 193.6,1541.2 193.9,1542.7 194.2,1546.4 194.5,1540.7 194.9,1545.8 195.2,1539.5 195.5,1539.0 195.8,1538.6 196.1,1541.3 196.5,1538.2 196.8,1540.2 197.1,1548.3 197.4,1541.5 197.7,1539.9 198.1,1546.5 198.4,1542.8 198.7,1541.5 199.0,1540.8 199.3,1537.5 199.7,1545.1 200.0,1540.0 200.3,1530.3 200.6,1535.6 200.9,1543.2 201.3,1549.3 201.6,1540.4 201.9,1547.1 202.2,1542.7 202.5,1538.8 202.9,1558.8 203.2,1539.4 203.5,1544.4 203.8,1538.1 204.1,1537.9 204.5,1534.9 204.8,1540.5 205.1,1542.7 205.4,1544.4 205.7,1540.9 206.1,1540.7 206.4,1543.8 206.7,1544.8 207.0,1540.9 207.3,1538.6 207.7,1542.1 208.0,1542.2 208.3,1552.5 208.6,1542.7 208.9,1539.4 209.3,1539.0 209.6,1537.9 209.9,1538.6 210.2,1538.5 210.5,1540.3 210.9,1537.0 211.2,1542.3 211.5,1535.7 211.8,1539.1 212.1,1527.3 212.5,1536.6 212.8,1541.5 213.1,1546.8 213.4,1534.8 213.7,1543.8 214.1,1543.0 214.4,1542.3 214.7,1534.2 215.0,1539.1 215.3,1536.4 215.7,1536.2 216.0,1537.3 216.3,1538.3 216.6,1538.1 216.9,1538.5 217.3,1538.4 217.6,1542.1 217.9,1538.1 218.2,1539.6 218.5,1545.1 218.9,1541.3 219.2,1537.8 219.5,1535.6 219.8,1539.4 220.1,1543.6 220.5,1539.1 220.8,1537.8 221.1,1534.6 221.4,1543.2 221.7,1538.5 222.1,1537.3 222.4,1541.5 222.7,1535.0 223.0,1541.0 223.3,1534.2 223.7,1538.5 224.0,1536.1 224.3,1541.8 224.6,1530.8 224.9,1545.3 225.3,1546.2 225.6,1546.7 225.9,1543.9 226.2,1541.8 226.5,1545.2 226.9,1537.1 227.2,1535.0 227.5,1542.1 227.8,1542.3 228.1,1550.2 228.5,1536.5 228.8,1541.1 229.1,1543.2 229.4,1541.5 229.7,1539.2 230.1,1535.7 230.4,1538.6 230.7,1544.3 231.0,1542.8 231.3,1541.2 231.7,1540.9 232.0,1540.2 232.3,1543.7 232.6,1539.7 232.9,1541.6 233.3,1537.9 233.6,1538.5 233.9,1542.8 234.2,1535.9 234.5,1543.9 234.9,1540.4 235.2,1536.4 235.5,1542.1 235.8,1542.2 236.1,1541.5 236.5,1539.3 236.8,1528.2 237.1,1535.9 237.4,1540.1 237.7,1539.4 238.1,1542.1 238.4,1547.2 238.7,1540.2 239.0,1534.8 239.3,1535.3 239.7,1540.1 240.0,1538.2 240.3,1536.1 240.6,1527.0 240.9,1539.7 241.3,1532.1 241.6,1537.4 241.9,1538.6 242.2,1541.9 242.5,1538.6 242.9,1538.4 243.2,1543.0 243.5,1541.6 243.8,1541.0 244.1,1546.5 244.5,1539.4 244.8,1535.6 245.1,1537.7 245.4,1532.3 245.7,1538.8 246.1,1534.7 246.4,1542.7 246.7,1532.1 247.0,1540.4 247.3,1535.5 247.7,1533.4 248.0,1535.8 248.3,1543.6 248.6,1541.2 248.9,1542.6 249.3,1539.5 249.6,1536.2 249.9,1540.9 250.2,1539.6 250.5,1540.1 250.9,1540.5 251.2,1542.1 251.5,1544.7 251.8,1540.6 252.1,1539.7 252.5,1538.7 252.8,1536.8 253.1,1540.6 253.4,1549.0 253.7,1543.0 254.1,1540.3 254.4,1543.1 254.7,1541.6 255.0,1538.4 255.3,1543.0 255.7,1537.5 256.0,1532.9 256.3,1539.9 256.6,1534.3 256.9,1536.3 257.3,1538.8 257.6,1538.8 257.9,1537.3 258.2,1538.2 258.5,1541.5 258.9,1535.1 259.2,1536.3 259.5,1541.4 259.8,1536.7 260.1,1540.1 260.5,1539.8 260.8,1543.8 261.1,1536.0 261.4,1529.9 261.7,1540.6 262.1,1539.6 262.4,1539.8 262.7,1533.5 263.0,1535.6 263.3,1535.5 263.7,1544.7 264.0,1545.6 264.3,1542.1 264.6,1537.3 264.9,1530.7 265.3,1541.2 265.6,1541.7 265.9,1545.9 266.2,1544.0 266.5,1534.3 266.9,1539.5 267.2,1531.1 267.5,1538.4 267.8,1552.3 268.1,1535.9 268.5,1540.7 268.8,1537.9 269.1,1543.0 269.4,1538.9 269.7,1530.6 270.1,1539.4 270.4,1536.7 270.7,1538.5 271.0,1535.6 271.3,1537.4 271.7,1544.6 272.0,1536.6 272.3,1541.9 272.6,1540.7 272.9,1546.8 273.3,1532.6 273.6,1541.0 273.9,1538.1 274.2,1540.5 274.5,1541.4 274.9,1541.7 275.2,1538.4 275.5,1537.2 275.8,1539.7 276.1,1541.7 276.5,1538.4 276.8,1541.2 277.1,1540.2 277.4,1535.5 277.7,1539.5 278.1,1540.0 278.4,1541.2 278.7,1533.8 279.0,1540.2 279.3,1540.8 279.7,1536.9 280.0,1532.8 280.3,1534.0 280.6,1537.4 280.9,1536.1 281.3,1540.3 281.6,1542.4 281.9,1545.4 282.2,1540.4 282.5,1540.6 282.9,1542.8 283.2,1538.8 283.5,1533.1 283.8,1543.4 284.1,1539.8 284.5,1541.9 284.8,1540.5 285.1,1539.9 285.4,1545.4 285.7,1539.7 286.1,1542.5 286.4,1537.1 286.7,1539.6 287.0,1542.3 287.3,1541.5 287.7,1534.9 288.0,1541.4 288.3,1534.3 288.6,1543.0 288.9,1539.4 289.3,1542.8 289.6,1539.5 289.9,1536.9 290.2,1547.7 290.5,1542.5 290.9,1537.9 291.2,1539.6 291.5,1537.0 291.8,1537.2 292.1,1538.2 292.5,1536.4 292.8,1551.8 293.1,1537.6 293.4,1539.0 293.7,1544.5 294.1,1538.9 294.4,1540.4 294.7,1540.7 295.0,1541.3 295.3,1541.8 295.7,1538.2 296.0,1542.7 296.3,1538.5 296.6,1537.5 296.9,1538.7 297.3,1541.8 297.6,1542.0 297.9,1539.8 298.2,1535.1 298.5,1538.7 298.9,1544.1 299.2,1537.6 299.5,1542.4 299.8,1542.4 300.1,1534.4 300.5,1541.2 300.8,1539.0 301.1,1544.0 301.4,1544.9 301.7,1547.0 302.1,1542.2 302.4,1537.5 302.7,1535.4 303.0,1536.3 303.3,1538.1 303.7,1537.7 304.0,1547.2 304.3,1537.4 304.6,1540.2 304.9,1542.9 305.3,1545.9 305.6,1546.5 305.9,1542.7 306.2,1546.6 306.5,1539.4 306.9,1542.5 307.2,1540.3 307.5,1539.0 307.8,1537.6 308.1,1541.4 308.5,1538.5 308.8,1542.4 309.1,1536.3 309.4,1536.2 309.7,1540.0 310.1,1538.5 310.4,1537.2 310.7,1540.7 311.0,1535.7 311.3,1538.5 311.7,1542.7 312.0,1537.1 312.3,1537.8 312.6,1537.4 312.9,1534.1 313.3,1534.0 313.6,1534.2 313.9,1534.3 314.2,1530.9 314.5,1533.2 314.9,1534.7 315.2,1536.3 315.5,1532.4 315.8,1533.5 316.1,1538.7 316.5,1534.0 316.8,1530.0 317.1,1528.3 317.4,1525.6 317.7,1530.5 318.1,1527.6 318.4,1530.7 318.7,1525.9 319.0,1528.9 319.3,1533.8 319.7,1525.1 320.0,1522.1 320.3,1522.4 320.6,1522.2 320.9,1523.0 321.3,1516.8 321.6,1520.2 321.9,1518.2 322.2,1515.5 322.5,1524.8 322.9,1518.7 323.2,1518.0 323.5,1513.5 323.8,1514.2 324.1,1513.6 324.5,1515.7 324.8,1515.5 325.1,1511.1 325.4,1508.8 325.7,1511.2 326.1,1509.7 326.4,1512.9 326.7,1512.8 327.0,1519.0 327.3,1513.8 327.7,1518.4 328.0,1515.8 328.3,1525.0 328.6,1522.3 328.9,1517.9 329.3,1524.0 329.6,1523.3 329.9,1525.1 330.2,1524.9 330.5,1521.6 330.9,1525.3 331.2,1524.2 331.5,1528.0 331.8,1526.6 332.1,1528.6 332.5,1531.4 332.8,1527.0 333.1,1524.7 333.4,1530.8 333.7,1525.1 334.1,1530.0 334.4,1532.0 334.7,1532.9 335.0,1531.0 335.3,1526.7 335.7,1530.1 336.0,1532.8 336.3,1528.9 336.6,1531.2 336.9,1532.3 337.3,1534.3 337.6,1528.5 337.9,1530.5 338.2,1532.1 338.5,1533.2 338.9,1536.3 339.2,1537.7 339.5,1534.2 339.8,1536.0 340.1,1535.6 340.5,1530.7 340.8,1538.9 341.1,1533.4 341.4,1538.0 341.7,1541.6 342.1,1536.9 342.4,1538.8 342.7,1538.3 343.0,1536.6 343.3,1532.2 343.7,1543.2 344.0,1536.7 344.3,1540.0 344.6,1543.6 344.9,1541.9 345.3,1535.8 345.6,1535.9 345.9,1525.3 346.2,1543.2 346.5,1537.6 346.9,1535.8 347.2,1538.9 347.5,1536.7 347.8,1540.7 348.1,1542.1 348.5,1539.7 348.8,1535.1 349.1,1541.5 349.4,1536.0 349.7,1540.4 350.1,1538.7 350.4,1536.4 350.7,1542.9 351.0,1541.0 351.3,1537.2 351.7,1538.9 352.0,1544.3 352.3,1540.8 352.6,1541.4 352.9,1537.2 353.3,1537.4 353.6,1534.3 353.9,1538.5 354.2,1534.7 354.5,1535.9 354.9,1536.0 355.2,1539.0 355.5,1533.9 355.8,1539.6 356.1,1535.2 356.5,1536.9 356.8,1535.7 357.1,1536.6 357.4,1534.4 357.7,1539.8 358.1,1536.8 358.4,1532.2 358.7,1534.9 359.0,1533.8 359.3,1529.3 359.7,1527.0 360.0,1529.8 360.3,1521.4 360.6,1525.0 360.9,1516.8 361.3,1525.4 361.6,1514.8 361.9,1512.2 362.2,1516.9 362.5,1513.9 362.9,1512.5 363.2,1518.6 363.5,1507.6 363.8,1509.6 364.1,1504.8 364.5,1510.1 364.8,1502.3 365.1,1501.9 365.4,1502.5 365.7,1499.8 366.1,1501.1 366.4,1499.7 366.7,1495.7 367.0,1491.6 367.3,1496.6 367.7,1493.4 368.0,1491.6 368.3,1491.6 368.6,1490.1 368.9,1497.3 369.3,1474.2 369.6,1462.5 369.9,1454.6 370.2,1442.1 370.5,1426.5 370.9,1417.7 371.2,1402.0 371.5,1395.6 371.8,1386.3 372.1,1387.0 372.5,1385.4 372.8,1389.1 373.1,1399.4 373.4,1397.8 373.7,1398.6 374.1,1406.9 374.4,1406.1 374.7,1414.0 375.0,1419.3 375.3,1421.0 375.7,1426.0 376.0,1430.3 376.3,1428.2 376.6,1433.5 376.9,1432.2 377.3,1430.4 377.6,1424.9 377.9,1419.8 378.2,1418.3 378.5,1409.2 378.9,1407.5 379.2,1404.1 379.5,1399.3 379.8,1398.4 380.1,1391.1 380.5,1381.2 380.8,1382.7 381.1,1381.0 381.4,1377.1 381.7,1369.4 382.1,1370.0 382.4,1368.8 382.7,1362.3 383.0,1364.5 383.3,1368.8 383.7,1371.4 384.0,1376.1 384.3,1384.6 384.6,1388.5 384.9,1390.8 385.3,1403.1 385.6,1404.4 385.9,1406.8 386.2,1412.7 386.5,1417.7 386.9,1427.8 387.2,1430.7 387.5,1434.0 387.8,1444.9 388.1,1450.7 388.5,1454.4 388.8,1458.0 389.1,1459.8 389.4,1467.3 389.7,1469.6 390.1,1469.2 390.4,1477.0 390.7,1487.8 391.0,1491.3 391.3,1498.7 391.7,1506.4 392.0,1502.6 392.3,1508.8 392.6,1511.7 392.9,1511.2 393.3,1516.6 393.6,1524.2 393.9,1519.0 394.2,1519.5 394.5,1512.3 394.9,1520.6 395.2,1521.5 395.5,1524.1 395.8,1529.2 396.1,1528.1 396.5,1531.0 396.8,1531.1 397.1,1527.2 397.4,1532.9 397.7,1532.8 398.1,1531.7 398.4,1534.2 398.7,1540.1 399.0,1538.7 399.3,1535.8 399.7,1538.0 400.0,1542.7 400.3,1541.0 400.6,1539.1 400.9,1539.7 401.3,1542.0 401.6,1537.5 401.9,1540.8 402.2,1532.7 402.5,1537.1 402.9,1540.8 403.2,1536.2 403.5,1526.1 403.8,1541.2 404.1,1537.6 404.5,1544.1 404.8,1544.7 405.1,1542.9 405.4,1545.0 405.7,1542.7 406.1,1542.1 406.4,1543.7 406.7,1542.3 407.0,1541.9 407.3,1545.3 407.7,1547.1 408.0,1539.3 408.3,1544.9 408.6,1542.5 408.9,1547.0 409.3,1545.0 409.6,1544.7 409.9,1549.4 410.2,1547.2 410.5,1540.1 410.9,1544.9 411.2,1549.2 411.5,1545.5 411.8,1551.2 412.1,1549.6 412.5,1546.4 412.8,1547.5 413.1,1544.2 413.4,1544.0 413.7,1548.1 414.1,1546.8 414.4,1543.1 414.7,1547.4 415.0,1547.7 415.3,1542.4 415.7,1546.8 416.0,1546.5 416.3,1543.9 416.6,1545.5 416.9,1548.7 417.3,1536.9 417.6,1543.2 417.9,1547.6 418.2,1548.9 418.5,1543.3 418.9,1546.6 419.2,1548.5 419.5,1546.4 419.8,1547.7 420.1,1547.8 420.5,1540.1 420.8,1543.3 421.1,1548.2 421.4,1548.4 421.7,1548.1 422.1,1547.1 422.4,1547.5 422.7,1543.9 423.0,1546.5 423.3,1547.4 423.7,1545.5 424.0,1549.5 424.3,1544.0 424.6,1545.0 424.9,1545.6 425.3,1552.1 425.6,1549.3 425.9,1545.7 426.2,1545.3 426.5,1549.0 426.9,1543.7 427.2,1548.9 427.5,1546.5 427.8,1538.5 428.1,1550.6 428.5,1547.5 428.8,1545.1 429.1,1541.3 429.4,1548.6 429.7,1545.0 430.1,1542.2 430.4,1548.1 430.7,1549.1 431.0,1543.1 431.3,1546.0 431.7,1547.2 432.0,1547.5 432.3,1544.5 432.6,1546.4 432.9,1545.5 433.3,1547.2 433.6,1548.3 433.9,1549.2 434.2,1550.3 434.5,1547.6 434.9,1551.5 435.2,1549.9 435.5,1538.8 435.8,1550.6 436.1,1545.1 436.5,1550.2 436.8,1546.4 437.1,1551.1 437.4,1545.3 437.7,1546.8 438.1,1546.1 438.4,1551.4 438.7,1543.2 439.0,1546.8 439.3,1548.0 439.7,1550.7 440.0,1549.6 440.3,1549.3 440.6,1549.5 440.9,1551.9 441.3,1547.5 441.6,1550.4 441.9,1554.6 442.2,1551.7 442.5,1547.8 442.9,1551.0 443.2,1547.9 443.5,1552.3 443.8,1548.3 444.1,1545.8 444.5,1553.6 444.8,1547.6 445.1,1537.7 445.4,1548.0 445.7,1553.1 446.1,1552.9 446.4,1546.9 446.7,1545.2 447.0,1551.9 447.3,1551.3 447.7,1546.4 448.0,1547.4 448.3,1547.1 448.6,1552.0 448.9,1549.4 449.3,1548.5 449.6,1545.9 449.9,1548.1 450.2,1547.9 450.5,1548.4 450.9,1547.3 451.2,1551.8 451.5,1547.2 451.8,1549.9 452.1,1555.5 452.5,1547.3 452.8,1547.2 453.1,1546.8 453.4,1548.7 453.7,1550.3 454.1,1552.2 454.4,1549.7 454.7,1546.0 455.0,1544.9 455.3,1549.5 455.7,1546.8 456.0,1547.4 456.3,1548.9 456.6,1545.5 456.9,1551.7 457.3,1545.9 457.6,1540.7 457.9,1553.1 458.2,1551.0 458.5,1545.7 458.9,1544.7 459.2,1552.9 459.5,1559.6 459.8,1548.0 460.1,1551.6 460.5,1548.5 460.8,1549.3 461.1,1551.6 461.4,1549.0 461.7,1550.3 462.1,1549.1 462.4,1547.9 462.7,1544.8 463.0,1553.6 463.3,1546.8 463.7,1545.9 464.0,1548.1 464.3,1551.6 464.6,1551.3 464.9,1549.9 465.3,1549.9 465.6,1546.4 465.9,1547.1 466.2,1550.0 466.5,1546.9 466.9,1548.6 467.2,1546.5 467.5,1550.6 467.8,1552.1 468.1,1550.3 468.5,1555.2 468.8,1548.2 469.1,1550.2 469.4,1550.8 469.7,1553.8 470.1,1549.5 470.4,1552.3 470.7,1550.6 471.0,1550.3 471.3,1552.9 471.7,1547.7 472.0,1548.0 472.3,1551.5 472.6,1549.9 472.9,1553.6 473.3,1552.1 473.6,1555.9 473.9,1552.7 474.2,1552.7 474.5,1548.8 474.9,1548.8 475.2,1551.2 475.5,1548.3 475.8,1549.8 476.1,1550.0 476.5,1546.1 476.8,1548.4 477.1,1547.4 477.4,1546.2 477.7,1547.7 478.1,1549.9 478.4,1547.6 478.7,1551.7 479.0,1548.8 479.3,1550.0 479.7,1548.3 480.0,1550.0 480.3,1551.7 480.6,1545.6 480.9,1543.5 481.3,1551.7 481.6,1549.0 481.9,1552.2 482.2,1549.3 482.5,1547.8 482.9,1552.8 483.2,1554.3 483.5,1551.2 483.8,1554.0 484.1,1554.4 484.5,1549.9 484.8,1541.1 485.1,1548.8 485.4,1549.2 485.7,1551.6 486.1,1551.1 486.4,1553.1 486.7,1545.8 487.0,1549.4 487.3,1553.2 487.7,1554.6 488.0,1551.8 488.3,1546.7 488.6,1559.7 488.9,1551.2 489.3,1542.0 489.6,1550.3 489.9,1548.6 490.2,1547.3 490.5,1552.2 490.9,1551.8 491.2,1546.5 491.5,1548.7 491.8,1554.1 492.1,1550.5 492.5,1550.3 492.8,1552.7 493.1,1555.0 493.4,1551.7 493.7,1550.5 494.1,1550.9 494.4,1552.1 494.7,1554.6 495.0,1547.4 495.3,1546.1 495.7,1552.8 496.0,1552.3 496.3,1556.5 496.6,1551.5 496.9,1553.1 497.3,1552.4 497.6,1552.1 497.9,1554.9 498.2,1548.6 498.5,1555.1 498.9,1557.6 499.2,1553.1 499.5,1548.4 499.8,1550.7 500.1,1547.9 500.5,1550.4 500.8,1552.7 501.1,1550.3 501.4,1550.2 501.7,1553.1 502.1,1545.1 502.4,1552.7 502.7,1551.1 503.0,1540.4 503.3,1561.2 503.7,1553.9 504.0,1551.6 504.3,1555.3 504.6,1551.6 504.9,1552.0 505.3,1556.2 505.6,1549.3 505.9,1559.6 506.2,1548.6 506.5,1547.7 506.9,1548.9 507.2,1549.4 507.5,1547.1 507.8,1550.8 508.1,1547.3 508.5,1546.9 508.8,1547.0 509.1,1551.9 509.4,1552.6 509.7,1552.7 510.1,1550.1 510.4,1548.2 510.7,1549.8 511.0,1549.8 511.3,1551.3 511.7,1551.0 512.0,1551.0 512.3,1553.7 512.6,1552.6 512.9,1552.5 513.3,1553.9 513.6,1546.8 513.9,1550.5 514.2,1548.6 514.5,1551.0 514.9,1549.7 515.2,1552.5 515.5,1548.8 515.8,1550.1 516.1,1550.1 516.5,1549.5 516.8,1549.2 517.1,1550.5 517.4,1557.0 517.7,1549.7 518.1,1554.0 518.4,1552.4 518.7,1552.6 519.0,1550.4 519.3,1550.9 519.7,1549.8 520.0,1544.7 520.3,1552.8 520.6,1551.3 520.9,1557.8 521.3,1550.7 521.6,1551.7 521.9,1552.2 522.2,1550.0 522.5,1550.3 522.9,1552.0 523.2,1550.4 523.5,1552.6 523.8,1545.6 524.1,1552.8 524.5,1549.0 524.8,1554.3 525.1,1547.4 525.4,1549.7 525.7,1548.3 526.1,1550.2 526.4,1546.4 526.7,1552.8 527.0,1554.0 527.3,1551.6 527.7,1555.4 528.0,1548.0 528.3,1553.6 528.6,1551.4 528.9,1550.1 529.3,1553.3 529.6,1548.3 529.9,1553.9 530.2,1559.0 530.5,1550.7 530.9,1551.4 531.2,1551.0 531.5,1550.1 531.8,1548.8 532.1,1554.4 532.5,1551.4 532.8,1554.6 533.1,1551.7 533.4,1560.8 533.7,1551.5 534.1,1551.5 534.4,1555.0 534.7,1546.3 535.0,1554.4 535.3,1551.7 535.7,1552.5 536.0,1550.9 536.3,1551.8 536.6,1551.2 536.9,1549.7 537.3,1550.8 537.6,1550.6 537.9,1551.0 538.2,1551.5 538.5,1556.3 538.9,1553.4 539.2,1543.7 539.5,1551.0 539.8,1546.8 540.1,1551.2 540.5,1546.9 540.8,1547.6 541.1,1552.7 541.4,1552.9 541.7,1549.7 542.1,1550.5 542.4,1549.8 542.7,1551.4 543.0,1550.7 543.3,1551.8 543.7,1549.4 544.0,1548.2 544.3,1550.3 544.6,1556.2 544.9,1557.0 545.3,1546.6 545.6,1554.6 545.9,1548.4 546.2,1550.7 546.5,1546.0 546.9,1550.2 547.2,1548.8 547.5,1551.3 547.8,1550.1 548.1,1546.9 548.5,1544.9 548.8,1559.9 549.1,1550.4 549.4,1548.0 549.7,1554.0 550.1,1548.9 550.4,1549.0 550.7,1550.4 551.0,1552.6 551.3,1551.6 551.7,1552.0 552.0,1547.7 552.3,1551.5 552.6,1550.1 552.9,1553.3 553.3,1550.4 553.6,1548.7 553.9,1551.2 554.2,1551.5 554.5,1546.3 554.9,1546.3 555.2,1541.6 555.5,1549.6 555.8,1551.6 556.1,1549.5 556.5,1548.4 556.8,1551.5 557.1,1553.1 557.4,1547.5 557.7,1549.6 558.1,1554.0 558.4,1551.5 558.7,1552.9 559.0,1551.4 559.3,1553.5 559.7,1549.9 560.0,1548.3 560.3,1555.6 560.6,1554.1 560.9,1551.3 561.3,1556.1 561.6,1548.6 561.9,1551.9 562.2,1549.6 562.5,1556.7 562.9,1549.9 563.2,1555.9 563.5,1552.4 563.8,1552.1 564.1,1551.3 564.5,1553.0 564.8,1549.8 565.1,1552.2 565.4,1555.6 565.7,1550.1 566.1,1546.2 566.4,1551.2 566.7,1556.4 567.0,1552.4 567.3,1548.4 567.7,1552.1 568.0,1552.1 568.3,1553.0 568.6,1550.2 568.9,1552.0 569.3,1551.8 569.6,1546.4 569.9,1548.2 570.2,1552.6 570.5,1550.0 570.9,1551.2 571.2,1552.1 571.5,1552.2 571.8,1554.7 572.1,1552.9 572.5,1546.7 572.8,1552.5 573.1,1552.0 573.4,1552.1 573.7,1552.8 574.1,1552.4 574.4,1553.4 574.7,1547.4 575.0,1554.0 575.3,1550.2 575.7,1550.3 576.0,1554.5 576.3,1549.4 576.6,1551.6 576.9,1548.6 577.3,1543.0 577.6,1548.6 577.9,1548.9 578.2,1549.9 578.5,1552.0 578.9,1550.6 579.2,1550.1 579.5,1553.2 579.8,1553.5 580.1,1546.7 580.5,1550.6 580.8,1553.3 581.1,1554.7 581.4,1548.5 581.7,1545.9 582.1,1553.1 582.4,1548.6 582.7,1549.5 583.0,1551.5 583.3,1550.0 583.7,1558.4 584.0,1554.5 584.3,1545.7 584.6,1553.3 584.9,1549.9 585.3,1553.9 585.6,1550.4 585.9,1551.4 586.2,1552.5 586.5,1549.1 586.9,1552.7 587.2,1556.1 587.5,1559.0 587.8,1551.3 588.1,1545.3 588.5,1549.6 588.8,1549.1 589.1,1551.3 589.4,1552.8 589.7,1557.8 590.1,1553.5 590.4,1553.2 590.7,1550.1 591.0,1551.9 591.3,1555.0 591.7,1554.9 592.0,1550.1 592.3,1551.0 592.6,1555.7 592.9,1550.4 593.3,1548.2 593.6,1556.4 593.9,1551.7 594.2,1546.8 594.5,1552.8 594.9,1547.7 595.2,1551.8 595.5,1552.3 595.8,1550.8 596.1,1552.1 596.5,1554.2 596.8,1545.9 597.1,1546.8 597.4,1553.1 597.7,1547.4 598.1,1545.5 598.4,1554.1 598.7,1551.2 599.0,1551.7 599.3,1550.0 599.7,1552.2 600.0,1551.5 600.3,1548.5 600.6,1552.9 600.9,1553.3 601.3,1551.5 601.6,1558.0 601.9,1553.9 602.2,1552.5 602.5,1548.6 602.9,1560.0 603.2,1551.9 603.5,1551.2 603.8,1554.9 604.1,1544.7 604.5,1552.4 604.8,1549.8 605.1,1551.4 605.4,1562.5 605.7,1554.3 606.1,1555.2 606.4,1553.2 606.7,1549.6 607.0,1554.3 607.3,1554.3 607.7,1552.4 608.0,1552.3 608.3,1552.7 608.6,1554.3 608.9,1552.4 609.3,1553.4 609.6,1549.8 609.9,1552.1 610.2,1552.1 610.5,1549.2 610.9,1548.8 611.2,1549.0 611.5,1546.7 611.8,1551.4 612.1,1550.0 612.5,1550.9 612.8,1555.6 613.1,1552.6 613.4,1547.7 613.7,1544.8 614.1,1554.4 614.4,1547.0 614.7,1554.2 615.0,1554.1 615.3,1552.8 615.7,1550.9 616.0,1556.5 616.3,1556.8 616.6,1545.1 616.9,1553.7 617.3,1547.3 617.6,1550.0 617.9,1545.9 618.2,1548.6 618.5,1550.5 618.9,1548.1 619.2,1551.7 619.5,1551.0 619.8,1553.8 620.1,1545.9 620.5,1550.4 620.8,1549.8 621.1,1555.6 621.4,1552.7 621.7,1553.7 622.1,1560.7 622.4,1550.9 622.7,1553.4 623.0,1549.1 623.3,1550.6 623.7,1558.7 624.0,1553.2 624.3,1551.0 624.6,1551.4 624.9,1549.9 625.3,1550.9 625.6,1552.0 625.9,1545.9 626.2,1552.4 626.5,1555.5 626.9,1554.7 627.2,1549.8 627.5,1551.6 627.8,1552.2 628.1,1550.7 628.5,1553.1 628.8,1552.4 629.1,1550.6 629.4,1551.6 629.7,1551.6 630.1,1561.4 630.4,1546.3 630.7,1553.0 631.0,1555.2 631.3,1551.7 631.7,1556.9 632.0,1548.4 632.3,1549.0 632.6,1551.3 632.9,1551.8 633.3,1549.8 633.6,1553.0 633.9,1553.0 634.2,1550.2 634.5,1552.5 634.9,1547.2 635.2,1549.5 635.5,1556.0 635.8,1551.8 636.1,1555.2 636.5,1553.5 636.8,1551.3 637.1,1553.3 637.4,1552.7 637.7,1554.6 638.1,1556.1 638.4,1556.2 638.7,1551.2 639.0,1552.3 639.3,1550.9 639.7,1555.4 640.0,1560.2 640.3,1555.1 640.6,1553.9 640.9,1554.1 641.3,1557.5 641.6,1551.7 641.9,1543.6 642.2,1554.0 642.5,1542.2 642.9,1550.4 643.2,1546.4 643.5,1552.6 643.8,1548.4 644.1,1557.9 644.5,1547.5 644.8,1550.4 645.1,1554.7 645.4,1551.0 645.7,1550.0 646.1,1547.5 646.4,1558.3 646.7,1548.1 647.0,1548.8 647.3,1551.9 647.7,1554.2 648.0,1554.1 648.3,1550.1 648.6,1547.7 648.9,1550.3 649.3,1544.2 649.6,1553.0 649.9,1547.4 650.2,1549.8 650.5,1555.8 650.9,1556.3 651.2,1552.3 651.5,1547.3 651.8,1547.1 652.1,1550.9 652.5,1549.6 652.8,1547.8 653.1,1546.8 653.4,1546.8 653.7,1547.7 654.1,1545.5 654.4,1548.4 654.7,1545.7 655.0,1544.5 655.3,1545.9 655.7,1545.3 656.0,1541.4 656.3,1539.8 656.6,1537.0 656.9,1539.0 657.3,1540.4 657.6,1534.8 657.9,1538.1 658.2,1536.1 658.5,1531.8 658.9,1531.4 659.2,1531.8 659.5,1526.5 659.8,1523.9 660.1,1524.0 660.5,1531.2 660.8,1523.4 661.1,1523.7 661.4,1525.5 661.7,1528.9 662.1,1532.8 662.4,1532.3 662.7,1536.3 663.0,1531.8 663.3,1541.8 663.7,1536.2 664.0,1541.8 664.3,1539.0 664.6,1545.7 664.9,1546.1 665.3,1545.9 665.6,1546.2 665.9,1544.7 666.2,1547.1 666.5,1550.9 666.9,1546.1 667.2,1541.2 667.5,1543.7 667.8,1542.7 668.1,1545.7 668.5,1550.5 668.8,1549.6 669.1,1549.1 669.4,1547.5 669.7,1551.2 670.1,1549.9 670.4,1550.4 670.7,1551.3 671.0,1550.7 671.3,1551.8 671.7,1553.3 672.0,1546.6 672.3,1550.3 672.6,1550.7 672.9,1551.4 673.3,1549.4 673.6,1543.6 673.9,1552.8 674.2,1550.9 674.5,1550.4 674.9,1551.2 675.2,1549.4 675.5,1554.2 675.8,1542.8 676.1,1551.0 676.5,1550.4 676.8,1556.7 677.1,1550.1 677.4,1551.3 677.7,1550.5 678.1,1553.2 678.4,1554.6 678.7,1551.4 679.0,1552.6 679.3,1557.0 679.7,1545.0 680.0,1549.8 680.3,1550.6 680.6,1553.6 680.9,1551.3 681.3,1550.3 681.6,1551.1 681.9,1557.7 682.2,1549.1 682.5,1546.2 682.9,1546.8 683.2,1562.4 683.5,1551.4 683.8,1549.2 684.1,1553.7 684.5,1544.9 684.8,1554.2 685.1,1555.4 685.4,1552.9 685.7,1547.6 686.1,1550.0 686.4,1554.4 686.7,1550.5 687.0,1552.5 687.3,1546.8 687.7,1549.9 688.0,1550.1 688.3,1549.0 688.6,1550.3 688.9,1552.7 689.3,1552.0 689.6,1547.9 689.9,1552.5 690.2,1553.9 690.5,1557.4 690.9,1554.6 691.2,1553.1 691.5,1553.3 691.8,1553.2 692.1,1551.7 692.5,1552.4 692.8,1552.6 693.1,1552.8 693.4,1551.5 693.7,1558.6 694.1,1553.2 694.4,1552.5 694.7,1552.6 695.0,1551.9 695.3,1551.7 695.7,1552.8 696.0,1552.5 696.3,1551.0 696.6,1551.9 696.9,1555.1 697.3,1551.5 697.6,1553.0 697.9,1552.8 698.2,1551.4 698.5,1551.2 698.9,1551.1 699.2,1550.6 699.5,1555.3 699.8,1554.2 700.1,1550.3 700.5,1554.4 700.8,1552.4 701.1,1546.2 701.4,1554.3 701.7,1558.4 702.1,1550.7 702.4,1550.4 702.7,1552.4 703.0,1549.2 703.3,1552.4 703.7,1553.1 704.0,1550.0 704.3,1554.8 704.6,1548.1 704.9,1551.5 705.3,1551.6 705.6,1545.8 705.9,1555.1 706.2,1553.6 706.5,1552.0 706.9,1552.5 707.2,1552.1 707.5,1553.5 707.8,1554.2 708.1,1549.1 708.5,1552.9 708.8,1549.9 709.1,1552.6 709.4,1552.8 709.7,1547.8 710.1,1546.3 710.4,1548.7 710.7,1549.8 711.0,1549.2 711.3,1551.6 711.7,1548.5 712.0,1552.8 712.3,1553.3 712.6,1552.8 712.9,1550.1 713.3,1553.3 713.6,1549.5 713.9,1554.7 714.2,1548.4 714.5,1548.0 714.9,1556.9 715.2,1541.9 715.5,1557.1 715.8,1550.2 716.1,1551.9 716.5,1548.1 716.8,1547.1 717.1,1549.4 717.4,1548.4 717.7,1546.5 718.1,1554.5 718.4,1544.1 718.7,1548.9 719.0,1543.7 719.3,1547.9 719.7,1550.1 720.0,1549.5 720.3,1546.2 720.6,1551.9 720.9,1547.4 721.3,1542.7 721.6,1547.4 721.9,1544.7 722.2,1553.0 722.5,1546.3 722.9,1550.7 723.2,1545.0 723.5,1546.6 723.8,1549.6 724.1,1545.3 724.5,1545.5 724.8,1551.1 725.1,1550.8 725.4,1557.4 725.7,1548.8 726.1,1550.0 726.4,1549.8 726.7,1549.7 727.0,1552.1 727.3,1555.6 727.7,1549.4 728.0,1545.4 728.3,1543.7 728.6,1548.4 728.9,1551.4 729.3,1549.3 729.6,1551.6 729.9,1549.6 730.2,1550.2 730.5,1549.8 730.9,1549.4 731.2,1549.2 731.5,1551.4 731.8,1550.7 732.1,1549.6 732.5,1549.4 732.8,1553.5 733.1,1547.9 733.4,1551.2 733.7,1558.4 734.1,1551.7 734.4,1547.6 734.7,1552.1 735.0,1548.8 735.3,1555.0 735.7,1546.9 736.0,1550.8 736.3,1553.2 736.6,1552.1 736.9,1549.7 737.3,1553.3 737.6,1550.5 737.9,1554.8 738.2,1552.0 738.5,1552.1 738.9,1550.7 739.2,1552.1 739.5,1553.7 739.8,1550.7 740.1,1551.4 740.5,1550.9 740.8,1550.1 741.1,1552.6 741.4,1552.8 741.7,1549.7 742.1,1551.0 742.4,1557.8 742.7,1550.9 743.0,1554.9 743.3,1557.2 743.7,1552.8 744.0,1547.0 744.3,1556.2 744.6,1551.6 744.9,1554.4 745.3,1552.7 745.6,1557.6 745.9,1553.5 746.2,1549.4 746.5,1551.0 746.9,1555.1 747.2,1552.4 747.5,1557.3 747.8,1551.6 748.1,1552.3 748.5,1553.6 748.8,1552.0 749.1,1549.0 749.4,1555.6 749.7,1552.7 750.1,1547.6 750.4,1549.0 750.7,1552.9 751.0,1552.2 751.3,1552.5 751.7,1552.0 752.0,1550.6 752.3,1552.1 752.6,1549.5 752.9,1552.4 753.3,1552.4 753.6,1557.2 753.9,1555.1 754.2,1552.5 754.5,1550.7 754.9,1553.2 755.2,1554.4 755.5,1552.6 755.8,1552.8 756.1,1552.1 756.5,1554.7 756.8,1550.7 757.1,1555.5 757.4,1559.7 757.7,1553.6 758.1,1543.0 758.4,1557.2 758.7,1553.0 759.0,1549.9 759.3,1553.7 759.7,1550.1 760.0,1553.5 760.3,1550.5 760.6,1554.4 760.9,1547.9 761.3,1548.4 761.6,1551.2 761.9,1550.8 762.2,1550.7 762.5,1554.6 762.9,1553.1 763.2,1552.2 763.5,1557.6 763.8,1551.1 764.1,1546.7 764.5,1548.0 764.8,1545.6 765.1,1551.4 765.4,1549.7 765.7,1555.7 766.1,1558.7 766.4,1555.7 766.7,1556.7 767.0,1550.9 767.3,1554.9 767.7,1552.5 768.0,1549.7 768.3,1548.5 768.6,1548.8 768.9,1553.9 769.3,1552.9 769.6,1552.4 769.9,1556.3 770.2,1556.3 770.5,1553.2 770.9,1558.3 771.2,1552.3 771.5,1557.6 771.8,1550.9 772.1,1553.3 772.5,1554.0 772.8,1551.7 773.1,1549.5 773.4,1553.9 773.7,1551.9 774.1,1555.1 774.4,1548.0 774.7,1552.1 775.0,1557.0 775.3,1556.0 775.7,1553.4 776.0,1546.3 776.3,1556.6 776.6,1557.8 776.9,1551.8 777.3,1543.1 777.6,1553.9 777.9,1548.8 778.2,1548.6 778.5,1550.6 778.9,1552.4 779.2,1552.5 779.5,1552.6 779.8,1557.0 780.1,1556.1 780.5,1554.2 780.8,1556.1 781.1,1555.1 781.4,1553.7 781.7,1551.6 782.1,1563.6 782.4,1555.7 782.7,1550.3 783.0,1560.4 783.3,1552.1 783.7,1553.4 784.0,1552.2 784.3,1557.1 784.6,1547.5 784.9,1555.4 785.3,1546.5 785.6,1552.4 785.9,1553.6 786.2,1551.8 786.5,1551.2 786.9,1552.1 787.2,1555.2 787.5,1555.6 787.8,1551.0 788.1,1553.7 788.5,1553.7 788.8,1551.1 789.1,1553.8 789.4,1554.5 789.7,1554.1 790.1,1555.2 790.4,1553.7 790.7,1553.3 791.0,1550.7 791.3,1550.7 791.7,1556.3 792.0,1551.9 792.3,1553.2 792.6,1555.4 792.9,1548.6 793.3,1552.0 793.6,1550.4 793.9,1548.2 794.2,1556.7 794.5,1557.1 794.9,1544.2 795.2,1554.7 795.5,1552.3 795.8,1547.1 796.1,1553.6 796.5,1553.7 796.8,1552.6 797.1,1556.9 797.4,1550.9 797.7,1552.9 798.1,1552.1 798.4,1554.9 798.7,1549.6 799.0,1554.3 799.3,1551.8 799.7,1554.8 800.0,1552.5 800.3,1554.9 800.6,1555.2 800.9,1552.6 801.3,1551.0 801.6,1553.8 801.9,1553.9 802.2,1553.4 802.5,1552.0 802.9,1550.5 803.2,1553.1 803.5,1552.5 803.8,1554.2 804.1,1550.0 804.5,1553.6 804.8,1558.3 805.1,1555.2 805.4,1551.8 805.7,1551.6 806.1,1549.6 806.4,1553.7 806.7,1553.7 807.0,1550.9 807.3,1556.7 807.7,1552.5 808.0,1558.0 808.3,1555.6 808.6,1554.4 808.9,1548.5 809.3,1551.7 809.6,1557.3 809.9,1552.3 810.2,1553.9 810.5,1555.5 810.9,1554.2 811.2,1561.0 811.5,1553.6 811.8,1558.2 812.1,1552.8 812.5,1553.7 812.8,1546.5 813.1,1553.2 813.4,1549.0 813.7,1550.5 814.1,1549.1 814.4,1549.1 814.7,1549.9 815.0,1547.5 815.3,1553.3 815.7,1555.8 816.0,1549.5 816.3,1550.0 816.6,1553.5 816.9,1549.4 817.3,1552.8 817.6,1550.8 817.9,1553.9 818.2,1555.4 818.5,1547.7 818.9,1555.3 819.2,1554.0 819.5,1548.3 819.8,1551.9 820.1,1551.7 820.5,1552.7 820.8,1552.4 821.1,1561.7 821.4,1552.2 821.7,1548.1 822.1,1550.5 822.4,1558.4 822.7,1549.4 823.0,1553.5 823.3,1555.7 823.7,1551.1 824.0,1552.5 824.3,1552.2 824.6,1555.2 824.9,1552.2 825.3,1551.5 825.6,1555.1 825.9,1552.5 826.2,1553.4 826.5,1551.8 826.9,1555.4 827.2,1549.1 827.5,1551.8 827.8,1551.4 828.1,1557.4 828.5,1554.3 828.8,1548.6 829.1,1556.6 829.4,1552.2 829.7,1551.5 830.1,1553.0 830.4,1554.5 830.7,1554.5 831.0,1556.4 831.3,1559.0 831.7,1550.6 832.0,1551.8 832.3,1552.2 832.6,1552.0 832.9,1554.5 833.3,1552.5 833.6,1548.9 833.9,1548.6 834.2,1552.5 834.5,1553.3 834.9,1550.8 835.2,1550.4 835.5,1551.9 835.8,1553.5 836.1,1552.9 836.5,1550.0 836.8,1553.9 837.1,1556.3 837.4,1552.1 837.7,1551.0 838.1,1549.7 838.4,1552.7 838.7,1553.2 839.0,1552.7 839.3,1549.7 839.7,1552.4 840.0,1548.5 840.3,1551.3 840.6,1552.3 840.9,1553.4 841.3,1553.0 841.6,1553.8 841.9,1554.9 842.2,1551.0 842.5,1550.4 842.9,1560.2 843.2,1554.7 843.5,1549.8 843.8,1551.1 844.1,1551.6 844.5,1553.7 844.8,1553.8 845.1,1551.4 845.4,1554.9 845.7,1551.4 846.1,1552.7 846.4,1554.4 846.7,1554.1 847.0,1549.7 847.3,1553.9 847.7,1557.0 848.0,1556.7 848.3,1553.7 848.6,1551.7 848.9,1553.4 849.3,1550.0 849.6,1548.6 849.9,1551.6 850.2,1552.8 850.5,1553.1 850.9,1553.8 851.2,1552.4 851.5,1545.6 851.8,1560.2 852.1,1551.8 852.5,1556.9 852.8,1549.6 853.1,1556.9 853.4,1551.0 853.7,1555.3 854.1,1548.0 854.4,1550.4 854.7,1552.3 855.0,1553.4 855.3,1553.9 855.7,1548.1 856.0,1553.1 856.3,1551.7 856.6,1552.3 856.9,1550.2 857.3,1557.1 857.6,1552.9 857.9,1554.1 858.2,1554.1 858.5,1552.9 858.9,1552.2 859.2,1551.4 859.5,1554.7 859.8,1554.3 860.1,1556.8 860.5,1555.6 860.8,1551.8 861.1,1553.1 861.4,1551.7 861.7,1556.8 862.1,1551.5 862.4,1550.4 862.7,1553.0 863.0,1556.8 863.3,1557.7 863.7,1554.0 864.0,1552.5 864.3,1552.6 864.6,1553.1 864.9,1550.9 865.3,1548.5 865.6,1550.6 865.9,1551.5 866.2,1548.5 866.5,1544.0 866.9,1549.3 867.2,1549.0 867.5,1542.0 867.8,1540.8 868.1,1548.7 868.5,1547.1 868.8,1540.2 869.1,1542.2 869.4,1543.8 869.7,1544.7 870.1,1543.7 870.4,1545.6 870.7,1545.5 871.0,1538.2 871.3,1546.8 871.7,1544.5 872.0,1541.3 872.3,1538.4 872.6,1532.8 872.9,1539.6 873.3,1538.9 873.6,1540.2 873.9,1533.3 874.2,1535.5 874.5,1539.1 874.9,1542.4 875.2,1538.8 875.5,1545.1 875.8,1541.9 876.1,1541.7 876.5,1538.3 876.8,1535.2 877.1,1539.3 877.4,1540.5 877.7,1539.6 878.1,1539.5 878.4,1541.6 878.7,1541.8 879.0,1543.0 879.3,1541.0 879.7,1545.9 880.0,1543.4 880.3,1544.5 880.6,1542.7 880.9,1544.0 881.3,1542.8 881.6,1546.8 881.9,1545.0 882.2,1546.3 882.5,1545.0 882.9,1547.5 883.2,1547.5 883.5,1548.2 883.8,1549.4 884.1,1550.2 884.5,1552.5 884.8,1551.8 885.1,1550.0 885.4,1552.2 885.7,1547.4 886.1,1551.1 886.4,1553.7 886.7,1550.5 887.0,1546.4 887.3,1549.9 887.7,1553.5 888.0,1556.3 888.3,1550.0 888.6,1552.2 888.9,1553.2 889.3,1553.4 889.6,1549.5 889.9,1550.4 890.2,1546.1 890.5,1551.9 890.9,1547.6 891.2,1550.6 891.5,1553.9 891.8,1553.0 892.1,1547.5 892.5,1550.8 892.8,1549.8 893.1,1554.9 893.4,1549.5 893.7,1553.5 894.1,1553.6 894.4,1554.4 894.7,1560.6 895.0,1550.8 895.3,1556.4 895.7,1551.5 896.0,1556.9 896.3,1553.1 896.6,1550.5 896.9,1549.6 897.3,1554.1 897.6,1555.3 897.9,1557.5 898.2,1555.2 898.5,1550.8 898.9,1549.3 899.2,1555.3 899.5,1550.7 899.8,1555.5 900.1,1552.2 900.5,1551.4 900.8,1548.6 901.1,1553.2 901.4,1553.7 901.7,1549.0 902.1,1553.8 902.4,1555.9 902.7,1551.5 903.0,1552.1 903.3,1551.4 903.7,1557.0 904.0,1554.2 904.3,1553.2 904.6,1557.3 904.9,1550.0 905.3,1553.5 905.6,1557.4 905.9,1547.3 906.2,1553.2 906.5,1556.2 906.9,1556.5 907.2,1552.6 907.5,1551.4 907.8,1552.9 908.1,1563.1 908.5,1549.5 908.8,1552.0 909.1,1553.1 909.4,1554.1 909.7,1553.8 910.1,1548.7 910.4,1553.7 910.7,1553.5 911.0,1552.2 911.3,1552.3 911.7,1553.6 912.0,1552.4 912.3,1551.3 912.6,1556.0 912.9,1556.7 913.3,1543.6 913.6,1550.8 913.9,1553.2 914.2,1552.8 914.5,1552.5 914.9,1548.5 915.2,1555.2 915.5,1553.4 915.8,1555.3 916.1,1551.3 916.5,1552.8 916.8,1554.7 917.1,1551.7 917.4,1552.9 917.7,1555.8 918.1,1557.3 918.4,1554.6 918.7,1550.7 919.0,1557.3 919.3,1547.7 919.7,1550.9 920.0,1553.8 920.3,1552.8 920.6,1552.2 920.9,1555.1 921.3,1553.9 921.6,1557.0 921.9,1552.5 922.2,1549.7 922.5,1555.4 922.9,1554.0 923.2,1551.6 923.5,1555.8 923.8,1550.3 924.1,1554.6 924.5,1555.1 924.8,1554.3 925.1,1549.7 925.4,1553.4 925.7,1551.5 926.1,1549.5 926.4,1556.4 926.7,1550.6 927.0,1552.5 927.3,1551.0 927.7,1556.1 928.0,1551.7 928.3,1554.0 928.6,1548.4 928.9,1551.4 929.3,1554.9 929.6,1552.2 929.9,1548.7 930.2,1551.5 930.5,1550.7 930.9,1551.7 931.2,1552.4 931.5,1552.0 931.8,1549.8 932.1,1557.4 932.5,1550.9 932.8,1555.6 933.1,1550.6 933.4,1551.5 933.7,1556.2 934.1,1552.0 934.4,1556.5 934.7,1553.4 935.0,1554.4 935.3,1554.1 935.7,1553.4 936.0,1551.5 936.3,1558.2 936.6,1556.1 936.9,1554.5 937.3,1554.4 937.6,1553.5 937.9,1551.6 938.2,1553.0 938.5,1550.9 938.9,1550.9 939.2,1548.6 939.5,1549.2 939.8,1550.5 940.1,1550.0 940.5,1551.8 940.8,1554.5 941.1,1552.8 941.4,1556.0 941.7,1551.7 942.1,1553.3 942.4,1548.9 942.7,1553.2 943.0,1554.7 943.3,1554.0 943.7,1554.5 944.0,1553.4 944.3,1553.1 944.6,1549.7 944.9,1551.1 945.3,1556.2 945.6,1551.2 945.9,1552.9 946.2,1552.2 946.5,1555.1 946.9,1550.2 947.2,1551.2 947.5,1552.3 947.8,1550.1 948.1,1553.1 948.5,1552.0 948.8,1550.0 949.1,1547.5 949.4,1544.5 949.7,1542.2 950.1,1544.6 950.4,1543.2 950.7,1544.0 951.0,1541.3 951.3,1537.5 951.7,1539.8 952.0,1537.0 952.3,1541.5 952.6,1532.3 952.9,1539.7 953.3,1538.0 953.6,1534.8 953.9,1535.3 954.2,1537.0 954.5,1524.2 954.9,1531.8 955.2,1530.9 955.5,1531.8 955.8,1531.6 956.1,1534.2 956.5,1531.6 956.8,1535.0 957.1,1530.8 957.4,1529.5 957.7,1530.2 958.1,1532.1 958.4,1531.6 958.7,1531.7 959.0,1532.2 959.3,1535.8 959.7,1542.1 960.0,1536.1 960.3,1535.6 960.6,1540.2 960.9,1540.3 961.3,1541.8 961.6,1541.1 961.9,1544.8 962.2,1546.2 962.5,1540.5 962.9,1537.2 963.2,1544.4 963.5,1542.3 963.8,1548.0 964.1,1553.1 964.5,1549.4 964.8,1551.9 965.1,1548.9 965.4,1545.3 965.7,1549.3 966.1,1548.1 966.4,1539.3 966.7,1553.3 967.0,1545.1 967.3,1549.8 967.7,1550.5 968.0,1552.5 968.3,1556.1 968.6,1547.1 968.9,1552.8 969.3,1554.0 969.6,1556.8 969.9,1555.6 970.2,1553.3 970.5,1553.7 970.9,1554.0 971.2,1553.1 971.5,1554.9 971.8,1551.1 972.1,1550.9 972.5,1562.8 972.8,1553.1 973.1,1558.7 973.4,1555.5 973.7,1554.9 974.1,1553.4 974.4,1552.3 974.7,1545.1 975.0,1551.9 975.3,1553.9 975.7,1552.5 976.0,1550.8 976.3,1556.8 976.6,1554.1 976.9,1548.4 977.3,1558.5 977.6,1550.0 977.9,1552.1 978.2,1551.9 978.5,1552.2 978.9,1550.2 979.2,1552.5 979.5,1549.4 979.8,1552.4 980.1,1556.5 980.5,1555.4 980.8,1553.7 981.1,1554.5 981.4,1553.4 981.7,1551.7 982.1,1553.8 982.4,1548.7 982.7,1556.9 983.0,1554.4 983.3,1555.9 983.7,1556.6 984.0,1556.7 984.3,1553.7 984.6,1555.7 984.9,1542.2 985.3,1551.2 985.6,1554.9 985.9,1552.5 986.2,1545.0 986.5,1552.3 986.9,1554.1 987.2,1549.8 987.5,1550.8 987.8,1558.1 988.1,1553.5" stroke="#000" stroke-width="1.4" fill="none" stroke-linejoin="round"/>
<path d="M65.5 1564.6V1572.4M86.5 1564.6V1572.4M107.5 1564.6V1579.6M128.4 1564.6V1572.4M149.4 1564.6V1572.4M170.4 1564.6V1572.4M191.4 1564.6V1572.4M212.4 1564.6V1579.6M233.3 1564.6V1572.4M254.3 1564.6V1572.4M275.3 1564.6V1572.4M296.3 1564.6V1572.4M317.3 1564.6V1579.6M338.2 1564.6V1572.4M359.2 1564.6V1572.4M380.2 1564.6V1572.4M401.2 1564.6V1572.4M422.2 1564.6V1579.6M443.1 1564.6V1572.4M464.1 1564.6V1572.4M485.1 1564.6V1572.4M506.1 1564.6V1572.4M527.0 1564.6V1579.6M548.0 1564.6V1572.4M569.0 1564.6V1572.4M590.0 1564.6V1572.4M611.0 1564.6V1572.4M631.9 1564.6V1579.6M652.9 1564.6V1572.4M673.9 1564.6V1572.4M694.9 1564.6V1572.4M715.9 1564.6V1572.4M736.8 1564.6V1579.6M757.8 1564.6V1572.4M778.8 1564.6V1572.4M799.8 1564.6V1572.4M820.8 1564.6V1572.4M841.7 1564.6V1579.6M862.7 1564.6V1572.4M883.7 1564.6V1572.4M904.7 1564.6V1572.4M925.7 1564.6V1572.4M946.6 1564.6V1579.6M967.6 1564.6V1572.4M988.6 1564.6V1572.4" stroke="#000" stroke-width="2.5" fill="none"/>
<path d="M65.5 1564.6V838.0H988.6V1564.6Z" stroke="#000" stroke-width="2.6" fill="none" stroke-linejoin="round"/>
<g font-family="'Liberation Sans', sans-serif" font-size="22" fill="#000">
<text x="107.5" y="1605.7" text-anchor="middle">25</text>
<text x="212.4" y="1605.7" text-anchor="middle">30</text>
<text x="317.3" y="1605.7" text-anchor="middle">35</text>
<text x="422.2" y="1605.7" text-anchor="middle">40</text>
<text x="527.0" y="1605.7" text-anchor="middle">45</text>
<text x="631.9" y="1605.7" text-anchor="middle">50</text>
<text x="736.8" y="1605.7" text-anchor="middle">55</text>
<text x="841.7" y="1605.7" text-anchor="middle">60</text>
<text x="946.6" y="1605.7" text-anchor="middle">65</text>
</g>
<text x="442" y="1635.8" font-family="'Liberation Sans', sans-serif" font-size="27.2" fill="#000">Angle (2&#920;)</text>
<text transform="translate(39.3,1269) rotate(-90)" font-family="'Liberation Sans', sans-serif" font-size="27.2" fill="#000">Intensity (a.u.)</text>
<g font-family="'Liberation Sans', sans-serif" font-size="38.5">
<text x="81.5" y="884.5" fill="#f00">c)</text>
<text x="81.5" y="1134.3" fill="#f00">b)</text>
<text x="81.5" y="1352.2" fill="#000">a)</text>
</g>
<text x="878.3" y="863.4" font-family="'Liberation Sans', sans-serif" font-weight="bold" font-size="21.9" fill="#f00"># Anatase</text>
<text transform="translate(143.6,1474.4) rotate(-90)" font-family="'Liberation Sans', sans-serif" font-weight="bold" font-size="18.8" fill="#000">FTO (110)</text>
<text transform="translate(289.7,1515.8) rotate(-90)" font-family="'Liberation Sans', sans-serif" font-weight="bold" font-size="18.8" fill="#000">FTO (101)</text>
<text transform="translate(330.4,1484.2) rotate(-90)" font-family="'Liberation Sans', sans-serif" font-weight="bold" font-size="18.8" fill="#000">Ti (100)</text>
<text transform="translate(372.8,1364.3) rotate(-90)" font-family="'Liberation Sans', sans-serif" font-weight="bold" font-size="18.8" fill="#000">FTO (200)</text>
<text transform="translate(394.4,1335.1) rotate(-90)" font-family="'Liberation Sans', sans-serif" font-weight="bold" font-size="18.8" fill="#000">Ti (002)</text>
<text transform="translate(665.9,1494.8) rotate(-90)" font-family="'Liberation Sans', sans-serif" font-weight="bold" font-size="18.8" fill="#000">FTO (211)</text>
<text transform="translate(731.1,1499.1) rotate(-90)" font-family="'Liberation Sans', sans-serif" font-weight="bold" font-size="18.8" fill="#000">FTO (220)</text>
<text transform="translate(880.7,1516.4) rotate(-90)" font-family="'Liberation Sans', sans-serif" font-weight="bold" font-size="18.8" fill="#000">FTO (221)</text>
<text transform="translate(961.5,1511.7) rotate(-90)" font-family="'Liberation Sans', sans-serif" font-weight="bold" font-size="18.8" fill="#000">FTO (310)</text>
<text transform="translate(119.4,995.5) rotate(-90)" font-family="'Liberation Sans', sans-serif" font-weight="bold" font-size="18.8" fill="#f00"># (101)</text>
<text transform="translate(364.8,988.6) rotate(-90)" font-family="'Liberation Sans', sans-serif" font-weight="bold" font-size="18.8" fill="#f00"># (103)</text>
<text transform="translate(381.7,904.3) rotate(-90)" font-family="'Liberation Sans', sans-serif" font-weight="bold" font-size="18.8" fill="#f00"># (004)</text>
<text transform="translate(405.9,991.1) rotate(-90)" font-family="'Liberation Sans', sans-serif" font-weight="bold" font-size="18.8" fill="#f00"># (112)</text>
<text transform="translate(719.0,947.8) rotate(-90)" font-family="'Liberation Sans', sans-serif" font-weight="bold" font-size="18.8" fill="#f00"># (105)</text>
<text transform="translate(748.2,988.4) rotate(-90)" font-family="'Liberation Sans', sans-serif" font-weight="bold" font-size="18.8" fill="#f00"># (211)</text>
</svg></body></html>
